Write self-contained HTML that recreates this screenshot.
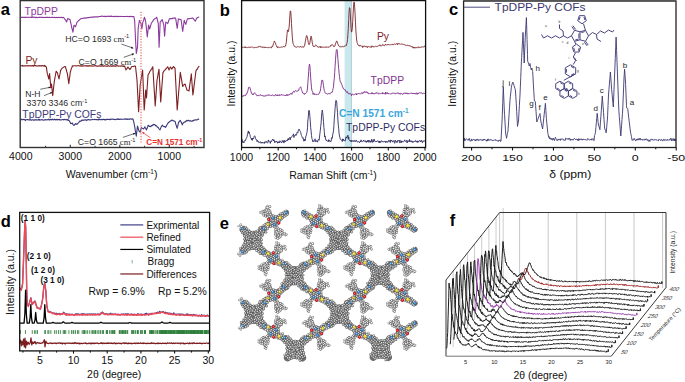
<!DOCTYPE html>
<html><head><meta charset="utf-8"><style>
html,body{margin:0;padding:0;background:#fff;}
svg{display:block;}
</style></head><body>
<svg width="685" height="382" viewBox="0 0 685 382">
<rect width="685" height="382" fill="#fff"/>
<path d="M20.8,17.3 L21.3,17.43 L21.8,17.35 L22.3,17.11 L22.8,17.45 L23.3,17.38 L23.8,17.24 L24.3,17.41 L24.8,17.38 L25.3,17.37 L25.8,17.33 L26.3,17.41 L26.8,17.22 L27.3,17.31 L27.8,17.26 L28.3,17.43 L28.8,17.35 L29.3,17.3 L29.8,17.23 L30.3,17.31 L30.8,17.35 L31.3,17.31 L31.8,17.55 L32.3,17.51 L32.8,16.96 L33.3,17.08 L33.8,17.34 L34.3,17.31 L34.8,17.4 L35.3,17.41 L35.8,17.7 L36.3,17.21 L36.8,17.33 L37.3,17.69 L37.8,17.49 L38.3,17.49 L38.8,17.32 L39.3,17.15 L39.8,17.42 L40,17.4 L40.3,17.22 L40.8,17.3 L41.3,17.39 L41.8,17.27 L42.3,17.39 L42.8,17.43 L43.3,17.42 L43.8,17.34 L44.3,17.51 L44.8,17.55 L45.3,17.47 L45.8,17.3 L46.3,17.54 L46.8,17.35 L47.3,17.56 L47.8,17.27 L48.3,17.57 L48.8,17.43 L49.3,17.25 L49.8,17.39 L50.3,17.45 L50.8,17.49 L51.3,17.3 L51.8,17.28 L52.3,17.48 L52.8,17.38 L53.3,17.49 L53.8,17.57 L54.3,17.21 L54.8,17.5 L55.3,17.65 L55.8,17.42 L56.3,17.35 L56.8,17.58 L57.3,17.51 L57.8,17.61 L58.3,17.43 L58.8,17.26 L59.3,17.46 L59.8,17.42 L60.3,17.6 L60.8,17.52 L61.3,17.25 L61.8,17.31 L62.3,17.63 L62.8,17.6 L63.3,17.4 L63.7,17.5 L63.8,17.7 L64.3,18.4 L64.8,19.14 L65.3,19.7 L65.8,20.57 L66.3,21.43 L66.6,22 L66.8,21.04 L67.3,19.82 L67.7,18.6 L67.8,18.43 L68.3,18.88 L68.8,18.93 L69.3,19.36 L69.8,19.4 L70,19.5 L70.3,21.03 L70.8,23.16 L71.3,25.22 L71.6,26.7 L71.8,27.81 L72.3,29.64 L72.8,31.67 L72.9,32.2 L73.3,29.63 L73.8,26.6 L74,25.2 L74.3,25.5 L74.8,25.89 L75.3,26.57 L75.5,26.7 L75.8,25.92 L76.3,24.58 L76.8,22.65 L77.1,22 L77.3,21.92 L77.8,21.77 L78.3,20.8 L78.8,20.33 L79.3,20.17 L79.8,19.52 L80.3,19.13 L80.8,18.72 L81,18.6 L81.3,18.5 L81.8,18.54 L82.3,18.4 L82.8,18.23 L83.3,18.25 L83.8,18.08 L84.3,18.16 L84.8,17.92 L85.3,17.86 L85.8,18.18 L86.3,17.89 L86.8,17.82 L87.3,17.84 L87.8,17.63 L88.3,17.59 L88.8,17.62 L89.3,17.54 L89.8,17.25 L90,17.4 L90.3,17.28 L90.8,17.17 L91.3,17.15 L91.8,17.18 L92.3,17.43 L92.8,16.97 L93.3,17.12 L93.8,16.73 L94.3,17.01 L94.8,17.09 L95.3,16.88 L95.8,16.77 L96.3,16.86 L96.8,16.88 L97.3,16.83 L97.8,16.98 L98.3,16.67 L98.8,16.5 L99.3,16.53 L99.8,16.49 L100.3,16.47 L100.8,16.41 L101.3,16.39 L101.8,16.07 L102,16.3 L102.3,16.22 L102.8,16.13 L103.3,16.41 L103.8,16.52 L104.3,16.4 L104.8,16.36 L105.3,16.2 L105.8,16.77 L106.3,16.48 L106.8,16.18 L107.3,16.24 L107.8,16.38 L108.3,16.14 L108.8,16.4 L109.3,16.31 L109.8,16.57 L110.3,16.54 L110.8,15.99 L111.3,16.41 L111.8,16.17 L112.3,16.58 L112.8,16.45 L113.3,16.51 L113.8,16.27 L114.3,16.71 L114.8,16.75 L115.3,16.29 L115.8,16.51 L116.3,16.36 L116.8,16.46 L117.3,16.28 L117.8,16.76 L118.3,16.34 L118.8,16.44 L119.3,16.57 L119.8,16.4 L120,16.5 L120.3,16.42 L120.8,16.49 L121.3,16.33 L121.8,16.45 L122.3,16.49 L122.8,16.47 L123.3,16.53 L123.8,16.48 L124.3,16.64 L124.8,16.49 L125.3,16.52 L125.8,16.44 L126.3,16.47 L126.8,16.36 L127.3,16.63 L127.8,16.38 L128.3,16.45 L128.8,16.62 L129.3,16.63 L129.8,16.51 L130.3,16.27 L130.8,16.64 L131.3,16.62 L131.8,16.37 L132.3,16.7 L132.8,16.49 L133.3,16.43 L133.8,16.61 L133.9,16.6 L134.3,18.93 L134.7,21.2 L134.8,23.7 L135.3,34.46 L135.5,39 L135.8,44.53 L136.3,53.5 L136.8,50.84 L137.3,48.03 L137.5,47 L137.8,38.89 L138.2,28 L138.3,27.47 L138.8,24.13 L139.3,20.9 L139.4,20.4 L139.8,21.27 L140.3,22.17 L140.8,23.07 L141,23.6 L141.3,25.36 L141.8,29 L142.3,25.82 L142.8,22.43 L142.9,22 L143.3,20.82 L143.8,19.49 L144.3,17.75 L144.5,17.3 L144.8,18.52 L145.3,20.06 L145.7,22 L145.8,22.83 L146.3,27.52 L146.8,32.44 L147.3,37 L147.8,32.12 L148.3,27.86 L148.6,25 L148.8,25.66 L149.3,27.5 L149.7,29 L149.8,28.5 L150.3,26.91 L150.8,25.07 L151.2,23.6 L151.3,23.23 L151.8,22.59 L152.3,21.68 L152.8,21.15 L153.3,20.21 L153.6,19.7 L153.8,19.57 L154.3,19.2 L154.8,18.65 L155.3,18.48 L155.8,18.26 L156.3,17.56 L156.7,17.3 L156.8,17.67 L157.3,19.59 L157.8,21.53 L158.3,23.6 L158.8,38.31 L159.1,47.2 L159.3,42.62 L159.8,31.21 L160.2,22 L160.3,21.84 L160.8,21.53 L161.3,20.64 L161.8,20.04 L162.2,19.7 L162.3,20.01 L162.8,21.48 L163.3,23.34 L163.8,25 L164.3,32.21 L164.6,36.2 L164.8,33.74 L165.3,27.78 L165.8,22 L166.3,22.39 L166.8,22.69 L167.3,23.13 L167.7,23.6 L167.8,23.23 L168.3,21.98 L168.8,20.54 L169.3,18.9 L169.8,18.9 L170.3,18.56 L170.8,18.78 L171.3,18.61 L171.8,18.62 L172.3,18.71 L172.8,18.06 L173.3,18.37 L173.8,18.09 L174.3,18.27 L174.8,17.92 L175.3,17.97 L175.6,18 L175.8,19.38 L176.3,22.52 L176.8,25.61 L177.2,28.3 L177.3,27.65 L177.8,23.6 L178.3,19.43 L178.4,18.9 L178.8,19.08 L179.3,19.3 L179.8,19.26 L180.3,19.59 L180.8,19.45 L181.1,19.7 L181.3,21.09 L181.8,24.92 L182.3,28.63 L182.7,31.4 L182.8,30.66 L183.3,27.01 L183.8,23.51 L184.2,20.4 L184.3,20.47 L184.8,21.97 L185.3,23.26 L185.8,24.4 L186.3,22.43 L186.8,20.88 L187.3,19.44 L187.4,18.9 L187.8,18.65 L188.3,18.83 L188.8,18.82 L189.3,18.49 L189.8,18.59 L190.3,18.44 L190.8,18.57 L191.3,18.26 L191.8,18.33 L192.3,17.96 L192.8,17.99 L192.9,18 L193.3,18.7 L193.8,19.29 L194.3,19.75 L194.8,20.64 L195.3,21.2 L195.8,20.12 L196.3,19.03 L196.8,18 L197.3,17.54 L197.8,17.61 L198.3,17.41 L198.8,17.04 L199.2,17" fill="none" stroke="#8c3a9e" stroke-width="1.1" stroke-linejoin="round" />
<path d="M20.8,65.8 L21.3,65.7 L21.8,65.72 L22.3,65.31 L22.8,66.16 L23.3,66.03 L23.8,65.73 L24.3,65.95 L24.8,65.86 L25.3,65.69 L25.8,66 L26.3,65.74 L26.8,65.73 L27.3,65.64 L27.8,65.89 L28.3,65.78 L28.8,65.91 L29.3,65.68 L29.8,65.83 L30.3,65.62 L30.8,65.97 L31.3,65.84 L31.8,65.87 L32.3,65.88 L32.8,65.6 L33.3,65.96 L33.8,66.21 L34.3,65.47 L34.8,65.45 L35.3,65.5 L35.8,65.97 L36.3,65.83 L36.8,66.02 L37.3,65.94 L37.8,65.84 L38.3,65.86 L38.8,65.77 L39.3,65.97 L39.8,65.57 L40.3,65.72 L40.8,65.85 L41.3,66.16 L41.8,65.65 L42.3,65.58 L42.8,65.69 L43.3,65.99 L43.8,65.75 L44.3,66.06 L44.8,65.43 L44.9,65.8 L45.3,66.41 L45.8,66.42 L46.3,67.23 L46.4,67.3 L46.8,70.07 L47.2,72.8 L47.3,73.66 L47.8,75.18 L48.3,77.01 L48.8,79 L49.3,75.75 L49.6,73.6 L49.8,75.91 L50.3,81.8 L50.8,87.7 L51.3,84.84 L51.5,84 L51.8,86.41 L52.3,91.97 L52.7,95.6 L52.8,95.01 L53.3,90.27 L53.8,85.69 L54.3,81.4 L54.8,78.7 L55.3,75.78 L55.8,73.17 L56.2,71.2 L56.3,71.41 L56.8,72.11 L57.3,72.67 L57.5,73 L57.8,74.38 L58.3,76.18 L58.8,78.05 L59,79 L59.3,77.21 L59.8,74.74 L60.3,72.24 L60.6,70.4 L60.8,70.39 L61.3,69.22 L61.8,68.63 L62.2,68 L62.3,67.91 L62.8,67.72 L63.3,67.38 L63.8,67.09 L64.3,66.85 L64.8,66.58 L65.3,66.5 L65.8,68.14 L66.3,69.96 L66.8,71.75 L67.3,73.39 L67.4,73.6 L67.8,76.58 L68.3,80.07 L68.8,83.8 L69.3,79.66 L69.8,76.13 L70.3,72 L70.8,70.59 L71.3,68.65 L71.8,67.75 L72.3,66.06 L72.4,65.8 L72.8,66.14 L73.3,65.96 L73.8,65.82 L74.3,65.66 L74.8,65.81 L75.3,65.79 L75.8,65.97 L76.3,65.99 L76.8,65.7 L77.3,65.73 L77.8,65.73 L78.3,65.57 L78.8,65.73 L79.3,65.83 L79.8,65.99 L80.3,66.12 L80.8,65.7 L81.3,65.97 L81.8,65.78 L82.3,66.29 L82.8,65.87 L83.3,65.98 L83.8,65.7 L84.3,65.72 L84.8,65.93 L85.3,65.82 L85.8,65.97 L86.3,65.59 L86.8,66.04 L87.3,65.73 L87.8,66.26 L88.3,65.86 L88.8,66.14 L89.3,65.64 L89.8,66.01 L90.3,65.75 L90.8,65.84 L91.3,65.94 L91.8,65.88 L92.3,66 L92.8,66.1 L93.3,66.08 L93.8,65.94 L94.3,65.69 L94.8,65.8 L95.3,65.93 L95.8,65.55 L96.3,66.12 L96.8,65.93 L97.3,65.93 L97.8,66.17 L98.3,66.12 L98.8,66.04 L99.3,65.79 L99.8,66.06 L100,66 L100.3,65.82 L100.8,66.21 L101.3,66.1 L101.8,65.61 L102.3,66.02 L102.8,65.75 L103.3,66.23 L103.8,66.16 L104.3,65.78 L104.8,65.82 L105.3,66.02 L105.8,65.95 L106.3,66.31 L106.8,66.15 L107.3,65.94 L107.8,66.12 L108.3,65.59 L108.8,66.06 L109.3,66.17 L109.8,65.96 L110.3,65.86 L110.8,66.11 L111.3,66.39 L111.8,66.04 L112.3,65.78 L112.8,66.29 L113.3,65.62 L113.8,66.1 L114.3,65.88 L114.8,66.19 L115.3,65.83 L115.8,66.26 L116.3,66.06 L116.8,65.65 L117.3,65.61 L117.8,65.94 L118.3,66.26 L118.8,66.03 L119.3,66.01 L119.8,65.95 L120.3,66.15 L120.8,66.08 L121.3,66.06 L121.8,65.8 L122.3,66.24 L122.8,66.27 L123.3,65.74 L123.8,66.46 L124.3,66.14 L124.5,66 L124.8,66.4 L125.3,68.21 L125.8,69.49 L126,69.9 L126.3,69.11 L126.8,68.96 L127.3,67.9 L127.8,67.2 L128,67 L128.3,67.8 L128.8,68.19 L129.3,68.53 L129.8,69.38 L130,69.5 L130.3,69.07 L130.8,68.15 L131.3,67.29 L131.8,66.48 L132,66.5 L132.3,66.5 L132.8,66.49 L133.3,66.59 L133.8,66.23 L134.3,66.12 L134.8,65.98 L135.3,66.24 L135.5,66.3 L135.8,69.01 L136.3,73.73 L136.8,77.94 L137,80 L137.3,85.77 L137.8,95.55 L138.3,106.05 L138.6,111.6 L138.8,108.12 L139.3,99.81 L139.8,91.64 L140.2,85 L140.3,84.46 L140.8,80.99 L141.3,78.05 L141.8,74.8 L142.3,71.78 L142.6,70 L142.8,74.69 L143.3,87.31 L143.8,99.86 L144.2,110 L144.3,108.68 L144.8,102.31 L145.3,95.5 L145.7,90 L145.8,91.15 L146.3,95.86 L146.5,98 L146.8,93.59 L147.3,85.68 L147.8,78.56 L148,75.4 L148.3,74.28 L148.8,73.68 L149.3,72.76 L149.8,71.49 L150.3,70.68 L150.4,70.7 L150.8,70.15 L151.3,69.3 L151.8,68.95 L152.3,67.53 L152.8,66.8 L153.3,74.98 L153.8,83.19 L154.3,91.07 L154.8,99.08 L155.2,106 L155.3,104.71 L155.8,97.65 L156.3,90.23 L156.8,82.99 L157,80 L157.3,78.69 L157.8,75.95 L158.3,72.87 L158.8,70.27 L159,69.2 L159.3,75.28 L159.8,84.72 L160.3,94.26 L160.7,102 L160.8,100.8 L161.3,94.17 L161.8,87.55 L162.3,81.08 L162.8,74.53 L163,72.3 L163.3,72.4 L163.8,71.04 L164.3,70.83 L164.8,70.31 L165,70 L165.3,69.69 L165.8,68.83 L166.3,68.7 L166.8,67.75 L167.3,67.29 L167.7,66.8 L167.8,66.96 L168.3,67.92 L168.8,69.4 L169,70 L169.3,69.38 L169.8,68.45 L170.3,67.18 L170.5,67 L170.8,67.55 L171.3,68.07 L171.8,69.11 L172,69 L172.3,68.29 L172.8,67.34 L173.3,67.06 L173.5,66.5 L173.8,67 L174.3,67.39 L174.8,68.13 L175,68 L175.3,73.65 L175.8,83.33 L176.3,93.04 L176.8,102.12 L177.2,110 L177.3,109.03 L177.8,102.9 L178.3,96.58 L178.8,90.6 L179.3,84.24 L179.8,78.39 L180.3,72.3 L180.8,75.25 L181.3,78.08 L181.8,81.17 L182.3,84.29 L182.7,86.4 L182.8,86.48 L183.3,85.38 L183.8,84.82 L184.3,84.71 L184.8,84.21 L185,84 L185.3,84.57 L185.8,86.39 L186.3,87.93 L186.8,89.65 L187,90 L187.3,90.26 L187.8,90.2 L188.3,90.61 L188.8,90.81 L189,91 L189.3,88.57 L189.8,84.89 L190.3,81.45 L190.8,77.98 L191.3,73.9 L191.8,80.55 L192.3,87.02 L192.8,93.9 L192.9,95 L193.3,92.21 L193.8,88.01 L194.3,83.84 L194.8,79.99 L195.3,75.99 L195.8,72.02 L196,70.7 L196.3,70.42 L196.8,69.28 L197.3,69.15 L197.8,68.11 L198.3,67.13 L198.8,66.66 L199.2,66" fill="none" stroke="#7d1f22" stroke-width="1.1" stroke-linejoin="round" />
<path d="M20.8,119.7 L21.3,119.07 L21.8,119.81 L22.3,119.57 L22.8,119.61 L23.3,119.67 L23.8,119.23 L24.3,119.68 L24.8,119.53 L25.3,120.58 L25.8,119.81 L26.3,119.67 L26.8,119.69 L27.3,119.6 L27.8,119.51 L28.3,119.68 L28.8,119.9 L29.3,119.73 L29.8,120.03 L30.3,119.75 L30.8,119.81 L31.3,120.2 L31.8,119.95 L32.3,119.69 L32.8,119.78 L33.3,119.97 L33.8,120.32 L34.3,119.77 L34.8,119.78 L35.3,120.1 L35.8,119.63 L36.3,119.79 L36.8,120.09 L37.3,120.02 L37.8,119.9 L38.3,120.05 L38.8,119.18 L39.3,120.15 L39.8,119.66 L40,119.9 L40.3,119.96 L40.8,120.06 L41.3,119.76 L41.8,119.59 L42.3,119.86 L42.8,119.83 L43.3,120.19 L43.8,120.01 L44.3,119.86 L44.8,120.08 L45.3,119.74 L45.8,119.55 L46.3,119.92 L46.8,119.91 L47.3,119.7 L47.8,119.55 L48.3,119.79 L48.8,119.1 L49.3,119.89 L49.8,119.83 L50.3,119.28 L50.8,119.7 L51.3,119.43 L51.8,119.85 L52.3,119.15 L52.8,119.42 L53.3,119.81 L53.8,119.91 L54.3,119.07 L54.8,119.48 L55,119.6 L55.3,119.45 L55.8,120 L56.3,119.31 L56.8,119.7 L57.3,119.36 L57.8,119.98 L58.3,119.62 L58.8,119.54 L59.3,119.21 L59.8,120.06 L60.3,119.83 L60.8,119.84 L61.3,119.94 L61.8,119.74 L62.3,119.5 L62.8,119.47 L63.3,119.47 L63.8,120.02 L64.3,119.31 L64.8,119.53 L65.3,119.61 L65.8,119.75 L66.3,119.84 L66.8,119.39 L66.9,119.7 L67.3,119.84 L67.8,120.32 L68.3,120.38 L68.8,120.41 L69.2,120.5 L69.3,120.77 L69.8,121.6 L70.3,122.84 L70.8,123.6 L71.3,123.45 L71.8,123.2 L72.3,123.17 L72.4,123 L72.8,124.26 L73.3,124.78 L73.8,125.56 L74,125.5 L74.3,125.03 L74.8,124.33 L75.3,123.99 L75.5,123.6 L75.8,124.04 L76.3,124.27 L76.8,123.92 L77.1,124.4 L77.3,123.93 L77.8,123.48 L78.3,122.96 L78.8,122.65 L79.3,121.42 L79.5,121.2 L79.8,121.13 L80.3,121.36 L80.8,120.92 L81.3,120.9 L81.8,120.11 L82.3,120.16 L82.6,120.1 L82.8,120.47 L83.3,120.24 L83.8,119.98 L84.3,119.92 L84.8,120.13 L85.3,119.82 L85.8,119.74 L86.3,120.07 L86.8,120.55 L87.3,119.85 L87.8,119.75 L88.3,119.58 L88.8,119.52 L89.3,119.96 L89.8,120.02 L90.3,119.79 L90.8,119.85 L91.3,119.78 L91.8,119.76 L92.3,119.33 L92.8,119.58 L93.3,119.7 L93.8,119.45 L94.3,119.51 L94.8,119.4 L95.3,119.51 L95.8,119.78 L96.3,119.45 L96.8,119.49 L97.3,119.71 L97.8,119.65 L98.3,119.89 L98.8,118.93 L99.3,119.64 L99.8,119.29 L100,119.4 L100.3,119.61 L100.8,119.67 L101.3,119.65 L101.8,119.43 L102.3,119.79 L102.8,119.31 L103.3,119.34 L103.8,119.58 L104.3,119.24 L104.8,119.91 L105.3,119.62 L105.8,119.91 L106.3,119.36 L106.8,119.26 L107.3,119.4 L107.8,119.54 L108.3,119.2 L108.8,119.44 L109.3,119.34 L109.8,119.74 L110.3,119.17 L110.8,119.6 L111.3,119.17 L111.8,119.09 L112.3,119.15 L112.8,119.03 L113.3,119.36 L113.8,119.57 L114.3,119.35 L114.8,119.47 L115.3,119.72 L115.8,119.37 L116.3,119.35 L116.8,119.23 L117.3,118.89 L117.8,119.48 L118.3,118.85 L118.8,119.45 L119.3,119.28 L119.8,119.56 L120.3,119.26 L120.8,119.07 L121.3,119.36 L121.8,119.13 L122.3,119.22 L122.8,119.27 L123.3,119.23 L123.8,119.21 L124.3,119.05 L124.8,119.2 L125.3,118.71 L125.8,119.2 L126.3,118.94 L126.8,119.52 L127.3,119.55 L127.8,118.74 L128.3,119.27 L128.8,119.19 L129.3,118.96 L129.8,119.35 L130.3,119.1 L130.8,118.77 L131.3,119.14 L131.8,119.17 L132.3,119.23 L132.8,118.89 L133.1,119.2 L133.3,120.32 L133.8,122.19 L134.3,124.66 L134.7,126.7 L134.8,127.15 L135.3,130.7 L135.8,133.28 L136.3,136.2 L136.8,131.75 L137.3,127.69 L137.5,126 L137.8,127.02 L138.3,128.87 L138.6,129.9 L138.8,130.18 L139.3,131.48 L139.8,131.49 L140.2,132.2 L140.3,131.81 L140.8,129.79 L141.3,127.5 L141.8,128.3 L142.3,128.18 L142.8,128.58 L143.3,128.69 L143.4,129 L143.8,128.53 L144.3,127.87 L144.8,127.04 L144.9,126.7 L145.3,127.68 L145.8,128.51 L146.3,129.71 L146.5,129.9 L146.8,128.99 L147.3,127.73 L147.8,126.4 L148.1,125.2 L148.3,125.24 L148.8,125.84 L149.3,126.46 L149.8,126.26 L150.3,126.61 L150.4,126.7 L150.8,126.72 L151.3,125.59 L151.8,125.79 L152.3,125.63 L152.8,124.77 L153.3,124.99 L153.6,124.4 L153.8,124.37 L154.3,124.81 L154.8,124.64 L155.3,125.14 L155.8,125.99 L156.3,125.57 L156.7,126 L156.8,126.1 L157.3,126.98 L157.8,127.35 L158.3,127.39 L158.8,128.42 L159.3,129.22 L159.8,129.49 L159.9,129.9 L160.3,129.17 L160.8,127.9 L161.3,126.62 L161.8,125.85 L162.2,125.2 L162.3,125.15 L162.8,125.86 L163.3,126.37 L163.8,126.36 L164.3,126.43 L164.8,126.74 L165.3,127.42 L165.4,127.5 L165.8,126.89 L166.3,126.11 L166.8,125.02 L167.3,124.35 L167.7,123.6 L167.8,123.43 L168.3,122.75 L168.8,122.24 L169.3,122.08 L169.8,121.49 L170.3,121.09 L170.8,121.06 L171.3,120.42 L171.7,120.1 L171.8,120.37 L172.3,120.15 L172.8,120.68 L173.3,120.76 L173.8,120.67 L174.3,121.3 L174.8,121.2 L175.3,121.91 L175.8,124.36 L176.3,125.48 L176.8,127.49 L177.2,128.3 L177.3,127.58 L177.8,126.17 L178.3,123.41 L178.7,122 L178.8,122.26 L179.3,121.43 L179.8,120.88 L180.3,120.4 L180.8,121.66 L181.3,122.3 L181.8,123.71 L182.2,124.4 L182.3,124.86 L182.8,123.6 L183.3,122.85 L183.8,122.66 L184.2,122 L184.3,122.03 L184.8,121.79 L185.3,121.85 L185.8,121.2 L186.3,121.14 L186.8,120.32 L187.3,120.54 L187.8,120.94 L188.2,120.4 L188.3,120.25 L188.8,120.25 L189.3,120.83 L189.8,120.86 L190.3,120.65 L190.8,121.24 L191.3,121.2 L191.8,121.2 L192.3,120.66 L192.8,121.07 L193.3,120.55 L193.8,120.23 L194.3,119.95 L194.5,120 L194.8,120.16 L195.3,119.8 L195.8,120.05 L196.3,119.84 L196.8,119.95 L197.3,119.73 L197.8,119.42 L198.3,118.88 L198.8,119.34 L199.2,119.2" fill="none" stroke="#3d3a7a" stroke-width="1.1" stroke-linejoin="round" />
<line x1="141" y1="11.8" x2="141" y2="143" stroke="#f07070" stroke-width="1.3" stroke-dasharray="1.2 1.5"/>
<rect x="20.2" y="0.6" width="183.8" height="146.9" fill="none" stroke="#333" stroke-width="1.4"/>
<line x1="70.3" y1="147.5" x2="70.3" y2="144.8" stroke="#333" stroke-width="1.1" />
<line x1="119.8" y1="147.5" x2="119.8" y2="144.8" stroke="#333" stroke-width="1.1" />
<line x1="169.3" y1="147.5" x2="169.3" y2="144.8" stroke="#333" stroke-width="1.1" />
<line x1="45.55" y1="147.5" x2="45.55" y2="145.8" stroke="#333" stroke-width="1.0" />
<line x1="95.05" y1="147.5" x2="95.05" y2="145.8" stroke="#333" stroke-width="1.0" />
<line x1="144.55" y1="147.5" x2="144.55" y2="145.8" stroke="#333" stroke-width="1.0" />
<line x1="194.05" y1="147.5" x2="194.05" y2="145.8" stroke="#333" stroke-width="1.0" />
<text x="20.8" y="159.9" font-size="10.5" fill="#111" text-anchor="middle" font-weight="normal" font-family='"Liberation Sans", sans-serif' >4000</text>
<text x="70.3" y="159.9" font-size="10.5" fill="#111" text-anchor="middle" font-weight="normal" font-family='"Liberation Sans", sans-serif' >3000</text>
<text x="119.8" y="159.9" font-size="10.5" fill="#111" text-anchor="middle" font-weight="normal" font-family='"Liberation Sans", sans-serif' >2000</text>
<text x="169.3" y="159.9" font-size="10.5" fill="#111" text-anchor="middle" font-weight="normal" font-family='"Liberation Sans", sans-serif' >1000</text>
<text x="111.5" y="177.5" font-size="10.5" fill="#111" text-anchor="middle" font-weight="normal" font-family='"Liberation Sans", sans-serif' >Wavenumber (cm<tspan font-size="6.5" dy="-4">-1</tspan><tspan dy="4">)</tspan></text>
<text x="24.4" y="14.6" font-size="10.4" fill="#8c3a9e" text-anchor="start" font-weight="normal" font-family='"Liberation Sans", sans-serif' >TpDPP</text>
<text x="25.4" y="63.6" font-size="10.4" fill="#7d1f22" text-anchor="start" font-weight="normal" font-family='"Liberation Sans", sans-serif' >Py</text>
<text x="22.3" y="117.5" font-size="10.4" fill="#3d3a7a" text-anchor="start" font-weight="normal" font-family='"Liberation Sans", sans-serif' >TpDPP-Py COFs</text>
<text x="65.3" y="41.6" font-size="8.7" fill="#2a2a2a" text-anchor="start" font-weight="normal" font-family='"Liberation Sans", sans-serif' >HC=O 1693<tspan font-family='"Liberation Serif", serif'> cm</tspan><tspan font-size="5.6" dy="-3.4">-1</tspan></text>
<text x="78.6" y="65.1" font-size="8.7" fill="#2a2a2a" text-anchor="start" font-weight="normal" font-family='"Liberation Sans", sans-serif' >C=O 1669<tspan font-family='"Liberation Serif", serif'> cm</tspan><tspan font-size="5.6" dy="-3.4">-1</tspan></text>
<text x="25.2" y="97.2" font-size="8.6" fill="#2a2a2a" text-anchor="start" font-weight="normal" font-family='"Liberation Sans", sans-serif' >N-H</text>
<text x="26.6" y="106.4" font-size="8.8" fill="#2a2a2a" text-anchor="start" font-weight="normal" font-family='"Liberation Sans", sans-serif' >3370 3346 cm<tspan font-size="5.6" dy="-3.4">-1</tspan></text>
<text x="77.8" y="145" font-size="8.7" fill="#2a2a2a" text-anchor="start" font-weight="normal" font-family='"Liberation Sans", sans-serif' >C=O 1665<tspan font-family='"Liberation Serif", serif'> cm</tspan><tspan font-size="5.6" dy="-3.4">-1</tspan></text>
<text x="146.3" y="145" font-size="8.2" fill="#e8302c" text-anchor="start" font-weight="bold" font-family='"Liberation Sans", sans-serif' >C=N 1571 cm<tspan font-size="5.5" dy="-3.3">-1</tspan></text>
<line x1="121.3" y1="44" x2="133.3" y2="48.2" stroke="#111" stroke-width="0.6" /><path d="M133.3,48.2 L130.92,48.47 L131.61,46.5 Z" fill="#111"/>
<line x1="123.7" y1="57.3" x2="134" y2="53.8" stroke="#111" stroke-width="0.6" /><path d="M134,53.8 L132.29,55.48 L131.62,53.51 Z" fill="#111"/>
<line x1="40.2" y1="89.3" x2="50.6" y2="87.2" stroke="#111" stroke-width="0.6" /><path d="M50.6,87.2 L48.85,88.53 L48.47,86.65 Z" fill="#111"/>
<line x1="44.1" y1="95.6" x2="52.2" y2="92.4" stroke="#111" stroke-width="0.6" /><path d="M52.2,92.4 L50.71,94.02 L50.01,92.24 Z" fill="#111"/>
<line x1="122.9" y1="137.4" x2="135.4" y2="133.2" stroke="#111" stroke-width="0.6" /><path d="M135.4,133.2 L133.68,134.88 L133.02,132.9 Z" fill="#111"/>
<line x1="150.4" y1="137.7" x2="142.2" y2="132.1" stroke="#e8302c" stroke-width="0.7" /><path d="M142.2,132.1 L144.57,132.46 L143.4,134.18 Z" fill="#e8302c"/>
<text x="0.8" y="15.4" font-size="16.5" fill="#000" text-anchor="start" font-weight="bold" font-family='"Liberation Sans", sans-serif' >a</text>
<rect x="344.6" y="0.6" width="7" height="146.8" fill="#c8e8ee"/>
<line x1="351.4" y1="0.6" x2="351.4" y2="147.4" stroke="#a3c4cc" stroke-width="0.8" />
<path d="M241.5,47.2 L241.9,47.67 L242.3,47.64 L242.7,47.04 L243.1,47.13 L243.5,47.06 L243.9,47.45 L244.3,47.25 L244.7,47.54 L245.1,46.64 L245.5,47.85 L245.9,47.28 L246.3,47.56 L246.7,47.29 L247.1,47.21 L247.5,47.52 L247.9,47.66 L248.3,47.31 L248.7,47.34 L249.1,47.64 L249.5,47.11 L249.9,46.9 L250.3,47.58 L250.7,47.21 L251.1,46.79 L251.5,47.19 L251.9,47.32 L252.3,47.08 L252.7,46.98 L253.1,47.53 L253.5,47.84 L253.9,47.46 L254.3,47.29 L254.7,47.7 L255.1,47.8 L255.5,47.37 L255.9,47.58 L256.3,47.67 L256.7,47.16 L257.1,46.86 L257.5,47.19 L257.9,47.07 L258.3,47.29 L258.7,46.37 L259.1,46.51 L259.5,46.37 L259.9,45.97 L260.3,46.66 L260.7,46.88 L261.1,46.52 L261.5,47.34 L261.9,47.22 L262.3,47.23 L262.7,47.23 L263.1,47.5 L263.5,46.78 L263.9,47.54 L264.3,47.61 L264.7,46.86 L265.1,47.65 L265.5,47.44 L265.9,47.8 L266.3,47.36 L266.7,47.5 L267.1,47.62 L267.5,47.19 L267.9,47.69 L268.3,47.44 L268.7,47.63 L269.1,47.27 L269.5,47.81 L269.9,47.63 L270.3,47.33 L270.7,47.58 L271.1,47.75 L271.5,47.85 L271.9,46.49 L272.3,46.98 L272.7,46.19 L273.1,44.97 L273.5,43.33 L273.9,42.75 L274.3,40.94 L274.7,41.58 L275.1,42.74 L275.5,43.08 L275.9,44.85 L276.3,45.5 L276.7,46.68 L277.1,47.47 L277.5,47.82 L277.9,46.56 L278.3,47.02 L278.7,47.48 L279.1,47.79 L279.5,47.38 L279.9,46.97 L280.3,47.32 L280.7,47.19 L281.1,47.11 L281.5,46.9 L281.9,47.26 L282.3,47.2 L282.7,47.02 L283.1,46.92 L283.5,46.48 L283.9,46.68 L284.3,47.16 L284.7,46.51 L285.1,45.77 L285.5,46.11 L285.9,44.46 L286.3,42.48 L286.7,37.94 L287.1,33.41 L287.5,29.91 L287.9,30.34 L288.3,31.67 L288.7,30.2 L289.1,27.2 L289.5,21.99 L289.9,15.1 L290.3,10.95 L290.7,11.07 L291.1,16.05 L291.5,23.65 L291.9,30.73 L292.3,37.18 L292.7,40.98 L293.1,43.84 L293.5,44.4 L293.9,45.37 L294.3,46.54 L294.7,46.27 L295.1,46.82 L295.5,46.91 L295.9,47.26 L296.3,47.14 L296.7,47.26 L297.1,46.91 L297.5,46.74 L297.9,46.75 L298.3,46.85 L298.7,46.64 L299.1,46.86 L299.5,47.02 L299.9,47.15 L300.3,46.94 L300.7,46.38 L301.1,47.01 L301.5,47.1 L301.9,47.37 L302.3,47.16 L302.7,46.68 L303.1,46.56 L303.5,47.35 L303.9,46.58 L304.3,46.33 L304.7,45.34 L305.1,42.62 L305.5,40.81 L305.9,38.37 L306.3,36.36 L306.7,35.51 L307.1,36.18 L307.5,38.17 L307.9,39.98 L308.3,42.58 L308.7,43.84 L309.1,44.73 L309.5,44.04 L309.9,42.74 L310.3,40.17 L310.7,37.3 L311.1,36.11 L311.5,37.31 L311.9,39.92 L312.3,42.84 L312.7,44.73 L313.1,46.14 L313.5,46.48 L313.9,46.8 L314.3,46.02 L314.7,46.49 L315.1,45.47 L315.5,45.09 L315.9,45.2 L316.3,45.38 L316.7,46.17 L317.1,46.31 L317.5,46.44 L317.9,46.67 L318.3,47.5 L318.7,47.09 L319.1,46.68 L319.5,47.1 L319.9,46.56 L320.3,47.74 L320.7,46.58 L321.1,47.29 L321.5,47.31 L321.9,46.61 L322.3,47.23 L322.7,47.47 L323.1,47.28 L323.5,47.21 L323.9,47.45 L324.3,47.17 L324.7,47.22 L325.1,47.06 L325.5,47.32 L325.9,46.76 L326.3,47.36 L326.7,46.9 L327.1,46.69 L327.5,47.19 L327.9,47.64 L328.3,47.37 L328.7,46.83 L329.1,47.21 L329.5,46.73 L329.9,46.71 L330.3,46.53 L330.7,45.32 L331.1,45.74 L331.5,44.87 L331.9,44.73 L332.3,44.52 L332.7,44.82 L333.1,45.43 L333.5,46.41 L333.9,46.91 L334.3,46.32 L334.7,46.43 L335.1,45.29 L335.5,43.62 L335.9,42.95 L336.3,41.76 L336.7,40.89 L337.1,41.68 L337.5,43.05 L337.9,43.92 L338.3,44.79 L338.7,45.9 L339.1,46.25 L339.5,46.35 L339.9,46.87 L340.3,47.14 L340.7,46.38 L341.1,46.76 L341.5,46.82 L341.9,46.71 L342.3,46.79 L342.7,46.24 L343.1,46.58 L343.5,46.97 L343.9,46.47 L344.3,45.88 L344.7,46.21 L345.1,46.3 L345.5,45.82 L345.9,45.24 L346.3,45.55 L346.7,43.76 L347.1,42.79 L347.5,39.68 L347.9,34.4 L348.3,28.29 L348.7,19.65 L349.1,11.34 L349.5,7.62 L349.9,8.47 L350.3,13.82 L350.7,21.74 L351.1,28.41 L351.5,31.98 L351.9,31.67 L352.3,28.04 L352.7,21.86 L353.1,13.86 L353.5,7.02 L353.9,2.11 L354.3,2.27 L354.7,7.16 L355.1,14.26 L355.5,22.73 L355.9,30.95 L356.3,36.28 L356.7,39.99 L357.1,42.64 L357.5,43.74 L357.9,44.77 L358.3,44.88 L358.7,45.48 L359.1,45.02 L359.5,46.18 L359.9,45.66 L360.3,45.38 L360.7,45.94 L361.1,45.96 L361.5,46.2 L361.9,45.8 L362.3,46.39 L362.7,47.56 L363.1,45.89 L363.5,46.49 L363.9,46.3 L364.3,46.5 L364.7,45.83 L365.1,46.09 L365.5,46.68 L365.9,46.53 L366.3,47.13 L366.7,46.33 L367.1,46.66 L367.5,47.64 L367.9,46.37 L368.3,46.34 L368.7,46.66 L369.1,46.67 L369.5,47 L369.9,46.76 L370.3,46.47 L370.7,46.82 L371.1,47.68 L371.5,47.22 L371.9,45.81 L372.3,46.7 L372.7,46.39 L373.1,46.86 L373.5,46.53 L373.9,47.21 L374.3,46.8 L374.7,46.73 L375.1,46.43 L375.5,46.29 L375.9,46.37 L376.3,46.65 L376.7,46.33 L377.1,45.96 L377.5,46.47 L377.9,46.04 L378.3,45.89 L378.7,45.58 L379.1,45.6 L379.5,45.52 L379.9,44.71 L380.3,45.99 L380.7,45.77 L381.1,45.44 L381.5,45.83 L381.9,45.56 L382.3,45.48 L382.7,44.42 L383.1,45.15 L383.5,45.36 L383.9,45.68 L384.3,45.7 L384.7,45.5 L385.1,44.55 L385.5,44.15 L385.9,45.09 L386.3,44.87 L386.7,45.17 L387.1,44.76 L387.5,44.85 L387.9,44.22 L388.3,44.87 L388.7,44.53 L389.1,44.78 L389.5,44.79 L389.9,44.56 L390.3,44.68 L390.7,44.54 L391.1,44.78 L391.5,44.66 L391.9,44.26 L392.3,44.22 L392.7,45.01 L393.1,44.33 L393.5,44.68 L393.9,44.44 L394.3,44.08 L394.7,43.99 L395.1,44.26 L395.5,44.28 L395.9,44.37 L396.3,43.69 L396.7,43.89 L397.1,44.04 L397.5,44.6 L397.9,43.18 L398.3,44.13 L398.7,43.76 L399.1,44.07 L399.5,43.72 L399.9,43.99 L400.3,44.38 L400.7,43.93 L401.1,43.96 L401.5,44.03 L401.9,43.74 L402.3,44.29 L402.7,44.12 L403.1,44.01 L403.5,44.38 L403.9,44.41 L404.3,44.85 L404.7,44.67 L405.1,44.59 L405.5,45.39 L405.9,45.32 L406.3,45.52 L406.7,45.38 L407.1,45.23 L407.5,45.22 L407.9,45.36 L408.3,45.92 L408.7,45.77 L409.1,45.36 L409.5,46.01 L409.9,45.67 L410.3,46.37 L410.7,46.03 L411.1,46.15 L411.5,46.78 L411.9,46.85 L412.3,46.44 L412.7,47.43 L413.1,48.07 L413.5,46.93 L413.9,48.23 L414.3,47.5 L414.7,47.71 L415.1,47.91 L415.5,47.4 L415.9,48.3 L416.3,47.96 L416.7,47.46 L417.1,47.57 L417.5,47.07 L417.9,47.42 L418.3,47.8 L418.7,46.81 L419.1,47.2 L419.5,47.34 L419.9,47.6 L420.3,47.64 L420.7,46.94 L421.1,46.78 L421.5,47.14 L421.9,46.79 L422.3,46.75 L422.7,47.17 L423.1,47.32 L423.5,46.76 L423.9,46.54 L424.3,46.75 L424.7,45.82 L425.1,46.42" fill="none" stroke="#7b2227" stroke-width="0.9" stroke-linejoin="round" />
<path d="M241.5,95.98 L241.9,96.43 L242.3,96.27 L242.7,96.23 L243.1,96.6 L243.5,95.3 L243.9,95.52 L244.3,95.16 L244.7,95.63 L245.1,96.03 L245.5,95.4 L245.9,95.35 L246.3,93.81 L246.7,94.03 L247.1,92.54 L247.5,92.43 L247.9,90.5 L248.3,88.98 L248.7,87.25 L249.1,86.91 L249.5,87.13 L249.9,87.64 L250.3,88.99 L250.7,90.7 L251.1,91.88 L251.5,93 L251.9,93.92 L252.3,94.16 L252.7,94.96 L253.1,93.76 L253.5,94.51 L253.9,93.42 L254.3,93.1 L254.7,92.67 L255.1,93.48 L255.5,93.9 L255.9,94.58 L256.3,94.65 L256.7,95.19 L257.1,96.11 L257.5,95.54 L257.9,95.13 L258.3,95.83 L258.7,95.35 L259.1,95.67 L259.5,95.68 L259.9,95.22 L260.3,94.53 L260.7,95.24 L261.1,95.65 L261.5,95.23 L261.9,95.6 L262.3,95.84 L262.7,95.16 L263.1,95.96 L263.5,96.13 L263.9,95.89 L264.3,95.92 L264.7,95.89 L265.1,96.41 L265.5,95.48 L265.9,95.39 L266.3,95.66 L266.7,94.98 L267.1,94.69 L267.5,94.99 L267.9,95.55 L268.3,95.59 L268.7,94.68 L269.1,94.52 L269.5,95.23 L269.9,95.28 L270.3,95.34 L270.7,95.66 L271.1,95.91 L271.5,95.46 L271.9,95.63 L272.3,94.85 L272.7,94.81 L273.1,95.44 L273.5,95.63 L273.9,95.66 L274.3,95.59 L274.7,95.68 L275.1,95.68 L275.5,94.53 L275.9,94.98 L276.3,95.51 L276.7,95.57 L277.1,94.61 L277.5,95.82 L277.9,95.09 L278.3,95.18 L278.7,95.4 L279.1,95.61 L279.5,94.62 L279.9,95.7 L280.3,95.29 L280.7,94.9 L281.1,95.11 L281.5,94.25 L281.9,94.93 L282.3,95.3 L282.7,94.89 L283.1,95.05 L283.5,95.12 L283.9,95.2 L284.3,95.62 L284.7,95.13 L285.1,95.01 L285.5,95.35 L285.9,96.02 L286.3,94.9 L286.7,95.25 L287.1,94.27 L287.5,95.53 L287.9,95.16 L288.3,95.38 L288.7,94.66 L289.1,94.11 L289.5,94.85 L289.9,94.64 L290.3,93.74 L290.7,93.27 L291.1,93.91 L291.5,93.39 L291.9,94.38 L292.3,92.65 L292.7,92.41 L293.1,92.31 L293.5,91.32 L293.9,91.4 L294.3,92.29 L294.7,91.27 L295.1,90.87 L295.5,90.44 L295.9,91.2 L296.3,91.21 L296.7,91.05 L297.1,90.8 L297.5,91.14 L297.9,91.12 L298.3,90.43 L298.7,90.58 L299.1,88.66 L299.5,88.15 L299.9,87.72 L300.3,87.23 L300.7,86.78 L301.1,88.18 L301.5,89.68 L301.9,90.72 L302.3,91.79 L302.7,92.97 L303.1,93.41 L303.5,93.09 L303.9,93.73 L304.3,94.49 L304.7,93.42 L305.1,93.93 L305.5,93.63 L305.9,93.2 L306.3,92.73 L306.7,92.39 L307.1,90.86 L307.5,88 L307.9,82.81 L308.3,77.48 L308.7,71.33 L309.1,66.25 L309.5,63.97 L309.9,66.18 L310.3,71.65 L310.7,77.95 L311.1,83.06 L311.5,87.85 L311.9,90.35 L312.3,91.23 L312.7,92.39 L313.1,94.51 L313.5,93.29 L313.9,92.91 L314.3,93.74 L314.7,94.74 L315.1,94.07 L315.5,94.3 L315.9,94 L316.3,94.09 L316.7,94.69 L317.1,94.46 L317.5,94.03 L317.9,94.42 L318.3,94.41 L318.7,93.68 L319.1,93.61 L319.5,93.07 L319.9,91.71 L320.3,91.03 L320.7,88.29 L321.1,85.42 L321.5,82.16 L321.9,80.1 L322.3,80.47 L322.7,80.13 L323.1,83.04 L323.5,85.44 L323.9,88.47 L324.3,90.63 L324.7,91.48 L325.1,92.6 L325.5,93.28 L325.9,93.54 L326.3,93.59 L326.7,93.51 L327.1,93.95 L327.5,94.25 L327.9,93.88 L328.3,93.27 L328.7,93.74 L329.1,93.53 L329.5,93.64 L329.9,94.17 L330.3,93.14 L330.7,93.1 L331.1,92.52 L331.5,92.5 L331.9,91.92 L332.3,92.17 L332.7,90.45 L333.1,88.31 L333.5,86.89 L333.9,81.88 L334.3,78.27 L334.7,72.78 L335.1,66.37 L335.5,59.72 L335.9,54.26 L336.3,50.37 L336.7,49.58 L337.1,49.58 L337.5,53.99 L337.9,59.15 L338.3,64.07 L338.7,68.46 L339.1,73.39 L339.5,76.5 L339.9,79.69 L340.3,81.75 L340.7,82.47 L341.1,82.59 L341.5,84.24 L341.9,84.71 L342.3,86.21 L342.7,87.42 L343.1,87.53 L343.5,88.99 L343.9,89.39 L344.3,89.6 L344.7,89.41 L345.1,90.35 L345.5,90.07 L345.9,91.57 L346.3,91.53 L346.7,92.45 L347.1,92.3 L347.5,91.63 L347.9,93.12 L348.3,93.55 L348.7,94.15 L349.1,93.22 L349.5,93.47 L349.9,94.12 L350.3,93.79 L350.7,93.79 L351.1,94.03 L351.5,95.7 L351.9,94.26 L352.3,94.07 L352.7,94.3 L353.1,94.47 L353.5,95.01 L353.9,94.81 L354.3,94.69 L354.7,94.3 L355.1,94.29 L355.5,93.88 L355.9,93.43 L356.3,94.96 L356.7,93.78 L357.1,94.38 L357.5,93.72 L357.9,93.75 L358.3,93.66 L358.7,93.04 L359.1,93.56 L359.5,93.69 L359.9,93.83 L360.3,93.65 L360.7,93.88 L361.1,93.54 L361.5,93.38 L361.9,92.44 L362.3,92.98 L362.7,93.76 L363.1,92.87 L363.5,92.86 L363.9,92.05 L364.3,91.51 L364.7,92.49 L365.1,91.68 L365.5,92.35 L365.9,92.22 L366.3,92.21 L366.7,91.68 L367.1,93.01 L367.5,92.47 L367.9,92.31 L368.3,93.94 L368.7,93.76 L369.1,93.75 L369.5,93.5 L369.9,93.47 L370.3,93.68 L370.7,93.57 L371.1,93.53 L371.5,93.84 L371.9,92.4 L372.3,93.91 L372.7,93.23 L373.1,93.9 L373.5,94.04 L373.9,93.13 L374.3,93.87 L374.7,93.86 L375.1,93.19 L375.5,93.26 L375.9,93.55 L376.3,92.49 L376.7,93.29 L377.1,93.58 L377.5,93.29 L377.9,92.77 L378.3,93.32 L378.7,94.18 L379.1,94.09 L379.5,93.44 L379.9,93.13 L380.3,93.48 L380.7,93.5 L381.1,93.18 L381.5,93.34 L381.9,93.77 L382.3,93.91 L382.7,92.39 L383.1,93.93 L383.5,93.55 L383.9,94 L384.3,93.48 L384.7,93.68 L385.1,94.22 L385.5,92.15 L385.9,94.2 L386.3,93.57 L386.7,92.66 L387.1,92.28 L387.5,93.62 L387.9,93.02 L388.3,93.93 L388.7,93.58 L389.1,93.42 L389.5,93.93 L389.9,93.56 L390.3,93.81 L390.7,93.85 L391.1,93.62 L391.5,93.83 L391.9,93.83 L392.3,92.86 L392.7,93.35 L393.1,93.42 L393.5,93.3 L393.9,92.75 L394.3,93.21 L394.7,93.62 L395.1,93.55 L395.5,94.15 L395.9,93.19 L396.3,93.27 L396.7,93.2 L397.1,93.32 L397.5,93.19 L397.9,92.62 L398.3,93.61 L398.7,93.9 L399.1,93.96 L399.5,92.97 L399.9,93.37 L400.3,94.29 L400.7,93.4 L401.1,93.61 L401.5,93.38 L401.9,93.9 L402.3,93.88 L402.7,94.5 L403.1,93.67 L403.5,93.65 L403.9,92.9 L404.3,93.26 L404.7,93.13 L405.1,93.29 L405.5,92.85 L405.9,93.99 L406.3,92.96 L406.7,93.56 L407.1,92.87 L407.5,93.59 L407.9,94.18 L408.3,93.06 L408.7,93.6 L409.1,93.4 L409.5,93.56 L409.9,93.62 L410.3,93.14 L410.7,93.35 L411.1,93.16 L411.5,93.05 L411.9,92.87 L412.3,93.86 L412.7,93.09 L413.1,93.72 L413.5,93.67 L413.9,92.97 L414.3,93.89 L414.7,93.03 L415.1,93.7 L415.5,94.07 L415.9,93.09 L416.3,92.99 L416.7,92.99 L417.1,94.44 L417.5,93.24 L417.9,92.84 L418.3,93.77 L418.7,93.33 L419.1,93.39 L419.5,92.95 L419.9,92.4 L420.3,93.07 L420.7,92.93 L421.1,92.67 L421.5,92.91 L421.9,92.97 L422.3,93.75 L422.7,93.71 L423.1,93.62 L423.5,93.15 L423.9,92.82 L424.3,93.52 L424.7,93.59 L425.1,93.83" fill="none" stroke="#82338f" stroke-width="0.95" stroke-linejoin="round" />
<path d="M241.5,143.04 L241.9,139.11 L242.3,142.33 L242.7,141.59 L243.1,142.56 L243.5,141.75 L243.9,142.81 L244.3,141.22 L244.7,140.54 L245.1,141.06 L245.5,140.4 L245.9,139.04 L246.3,138.17 L246.7,137.79 L247.1,136.47 L247.5,134.16 L247.9,133.02 L248.3,130.94 L248.7,133.28 L249.1,131.91 L249.5,133.87 L249.9,134.24 L250.3,136.77 L250.7,137.75 L251.1,137.95 L251.5,139.79 L251.9,138.43 L252.3,140.39 L252.7,138 L253.1,138.91 L253.5,138.72 L253.9,137.25 L254.3,136.22 L254.7,135.79 L255.1,136.63 L255.5,138.62 L255.9,139.52 L256.3,139.57 L256.7,139.58 L257.1,141.7 L257.5,140.39 L257.9,141.37 L258.3,141.35 L258.7,142.62 L259.1,142.27 L259.5,142.5 L259.9,142.38 L260.3,141.64 L260.7,142.62 L261.1,143.32 L261.5,142.17 L261.9,142.7 L262.3,142.1 L262.7,143.02 L263.1,142.73 L263.5,142.9 L263.9,142.47 L264.3,143.5 L264.7,141.9 L265.1,141.91 L265.5,141.7 L265.9,142.66 L266.3,141.66 L266.7,141.64 L267.1,142.73 L267.5,143.07 L267.9,142.59 L268.3,139.97 L268.7,141.34 L269.1,141.23 L269.5,141.1 L269.9,141.71 L270.3,143.42 L270.7,141.57 L271.1,140.92 L271.5,141.56 L271.9,140.38 L272.3,139.84 L272.7,139.04 L273.1,139.98 L273.5,140.98 L273.9,139.7 L274.3,140.33 L274.7,142.68 L275.1,142.57 L275.5,141.52 L275.9,141.12 L276.3,141.79 L276.7,140.98 L277.1,141.66 L277.5,143.24 L277.9,142.02 L278.3,142.83 L278.7,141.71 L279.1,142.17 L279.5,142.97 L279.9,140.77 L280.3,141.54 L280.7,141.67 L281.1,142 L281.5,142.99 L281.9,142.26 L282.3,140.48 L282.7,141.42 L283.1,140.87 L283.5,140.79 L283.9,143.07 L284.3,140.52 L284.7,141.47 L285.1,140.59 L285.5,141.69 L285.9,141.1 L286.3,140.72 L286.7,140.34 L287.1,141.08 L287.5,139.17 L287.9,139.06 L288.3,138.46 L288.7,140.12 L289.1,138.51 L289.5,137.59 L289.9,137.75 L290.3,139.75 L290.7,137.33 L291.1,137.77 L291.5,137.15 L291.9,136.47 L292.3,135.65 L292.7,135.7 L293.1,135.48 L293.5,133.83 L293.9,137.54 L294.3,136.11 L294.7,135.39 L295.1,135.06 L295.5,134.48 L295.9,135.67 L296.3,134.43 L296.7,134.44 L297.1,132.22 L297.5,132.7 L297.9,132.94 L298.3,130.06 L298.7,130.09 L299.1,129.07 L299.5,130.11 L299.9,130.85 L300.3,131.3 L300.7,132.29 L301.1,134.43 L301.5,135.55 L301.9,136.11 L302.3,137.8 L302.7,138.39 L303.1,137.74 L303.5,138.64 L303.9,141.23 L304.3,139.63 L304.7,139.06 L305.1,140.89 L305.5,138.23 L305.9,136.01 L306.3,135.29 L306.7,133.54 L307.1,131.75 L307.5,127.85 L307.9,119.91 L308.3,116.98 L308.7,110.74 L309.1,110.26 L309.5,112.19 L309.9,116.62 L310.3,121.94 L310.7,127.59 L311.1,131.1 L311.5,135.56 L311.9,138.28 L312.3,139.52 L312.7,141.6 L313.1,140.78 L313.5,140.74 L313.9,141.65 L314.3,140.63 L314.7,139.49 L315.1,138.8 L315.5,141.66 L315.9,141.13 L316.3,141.38 L316.7,140.44 L317.1,140.97 L317.5,142.15 L317.9,140.81 L318.3,139.45 L318.7,139.61 L319.1,140.31 L319.5,136.99 L319.9,133.56 L320.3,130.41 L320.7,126.62 L321.1,122.96 L321.5,117 L321.9,112.14 L322.3,110.1 L322.7,112.63 L323.1,116.76 L323.5,121.81 L323.9,127.42 L324.3,131.53 L324.7,136.96 L325.1,135.88 L325.5,139.24 L325.9,139.11 L326.3,140.9 L326.7,140.37 L327.1,140.96 L327.5,141.16 L327.9,140.93 L328.3,141.57 L328.7,139.65 L329.1,141.49 L329.5,140.5 L329.9,140.9 L330.3,141.72 L330.7,141.19 L331.1,141.59 L331.5,137.73 L331.9,138.01 L332.3,138.35 L332.7,134.85 L333.1,132.97 L333.5,130.87 L333.9,125.6 L334.3,118.68 L334.7,113.9 L335.1,108.34 L335.5,103.21 L335.9,100.4 L336.3,100.6 L336.7,101.95 L337.1,107.92 L337.5,112.77 L337.9,119.76 L338.3,125.24 L338.7,128.79 L339.1,133.6 L339.5,136.04 L339.9,137.55 L340.3,139.36 L340.7,139.29 L341.1,139.79 L341.5,140.37 L341.9,140.46 L342.3,141.55 L342.7,138.83 L343.1,140.54 L343.5,139.22 L343.9,140.42 L344.3,140.98 L344.7,140.64 L345.1,141.11 L345.5,140.04 L345.9,136.77 L346.3,137 L346.7,138.04 L347.1,137.22 L347.5,135.87 L347.9,135.11 L348.3,139.13 L348.7,136.86 L349.1,139.78 L349.5,140.21 L349.9,140.89 L350.3,140.02 L350.7,140.77 L351.1,142.02 L351.5,140.81 L351.9,140.12 L352.3,141.24 L352.7,141.34 L353.1,141.17 L353.5,140.66 L353.9,141.74 L354.3,141.21 L354.7,140.38 L355.1,141.5 L355.5,141.31 L355.9,141.46 L356.3,139.98 L356.7,140.73 L357.1,141.72 L357.5,142.11 L357.9,141.64 L358.3,141.5 L358.7,141.96 L359.1,142.17 L359.5,142.8 L359.9,141.77 L360.3,140.95 L360.7,141.79 L361.1,139.85 L361.5,141.46 L361.9,141.06 L362.3,141.4 L362.7,141.82 L363.1,141.47 L363.5,140.27 L363.9,141.14 L364.3,140.79 L364.7,141.42 L365.1,141.72 L365.5,140.66 L365.9,142.02 L366.3,142.48 L366.7,141.22 L367.1,142.02 L367.5,140.25 L367.9,141 L368.3,142.21 L368.7,140.02 L369.1,141.03 L369.5,140.72 L369.9,142.35 L370.3,142.35 L370.7,140.93 L371.1,141.53 L371.5,139.34 L371.9,142.11 L372.3,141.71 L372.7,142.49 L373.1,139.51 L373.5,141.7 L373.9,141.14 L374.3,139.33 L374.7,140.86 L375.1,141.35 L375.5,142.06 L375.9,141.57 L376.3,141 L376.7,141.77 L377.1,141.32 L377.5,140.89 L377.9,140.59 L378.3,141.53 L378.7,141.53 L379.1,142.88 L379.5,141.04 L379.9,142.68 L380.3,141.68 L380.7,142.34 L381.1,140.67 L381.5,140.7 L381.9,141.15 L382.3,142.11 L382.7,141.53 L383.1,141.99 L383.5,141.64 L383.9,142.21 L384.3,141.54 L384.7,140.96 L385.1,141.79 L385.5,141.45 L385.9,142.78 L386.3,141.25 L386.7,141.46 L387.1,141.13 L387.5,142.3 L387.9,142.07 L388.3,141.89 L388.7,140.37 L389.1,140.15 L389.5,141.58 L389.9,141.94 L390.3,142.54 L390.7,139.92 L391.1,141.22 L391.5,140 L391.9,140.59 L392.3,141.17 L392.7,142.12 L393.1,140.93 L393.5,140.77 L393.9,141.09 L394.3,142.35 L394.7,143.27 L395.1,140.11 L395.5,141.12 L395.9,140.99 L396.3,142.27 L396.7,141.68 L397.1,142.56 L397.5,140.52 L397.9,141.34 L398.3,140.96 L398.7,140.44 L399.1,141.19 L399.5,140.37 L399.9,143.05 L400.3,141.65 L400.7,140.5 L401.1,140.83 L401.5,142.69 L401.9,140.92 L402.3,141.86 L402.7,141.77 L403.1,142.17 L403.5,141.81 L403.9,141.13 L404.3,140.82 L404.7,139.87 L405.1,141.25 L405.5,141.4 L405.9,141 L406.3,141.17 L406.7,140.31 L407.1,143.02 L407.5,140.88 L407.9,140.45 L408.3,140.8 L408.7,141.14 L409.1,141.86 L409.5,139.33 L409.9,141.68 L410.3,140.77 L410.7,141.12 L411.1,142.08 L411.5,141.87 L411.9,140.71 L412.3,141.18 L412.7,142.75 L413.1,142.34 L413.5,141.95 L413.9,141.26 L414.3,142.02 L414.7,141.56 L415.1,140.8 L415.5,140.44 L415.9,141.66 L416.3,141.54 L416.7,142.2 L417.1,140.85 L417.5,142.35 L417.9,140.94 L418.3,142.23 L418.7,141.66 L419.1,140.76 L419.5,140.46 L419.9,141.12 L420.3,141.01 L420.7,141.97 L421.1,140.66 L421.5,140.03 L421.9,141.19 L422.3,142.75 L422.7,142.52 L423.1,140.71 L423.5,140.98 L423.9,141.45 L424.3,140.67 L424.7,141 L425.1,140.97" fill="none" stroke="#2f2b62" stroke-width="0.9" stroke-linejoin="round" />
<rect x="241.6" y="0.6" width="184" height="146.9" fill="none" stroke="#111" stroke-width="1.3"/>
<line x1="241.5" y1="147.5" x2="241.5" y2="150.4" stroke="#111" stroke-width="1.1" />
<text x="241.5" y="160.9" font-size="10.5" fill="#111" text-anchor="middle" font-weight="normal" font-family='"Liberation Sans", sans-serif' >1000</text>
<line x1="278.2" y1="147.5" x2="278.2" y2="150.4" stroke="#111" stroke-width="1.1" />
<text x="278.2" y="160.9" font-size="10.5" fill="#111" text-anchor="middle" font-weight="normal" font-family='"Liberation Sans", sans-serif' >1200</text>
<line x1="314.9" y1="147.5" x2="314.9" y2="150.4" stroke="#111" stroke-width="1.1" />
<text x="314.9" y="160.9" font-size="10.5" fill="#111" text-anchor="middle" font-weight="normal" font-family='"Liberation Sans", sans-serif' >1400</text>
<line x1="351.6" y1="147.5" x2="351.6" y2="150.4" stroke="#111" stroke-width="1.1" />
<text x="351.6" y="160.9" font-size="10.5" fill="#111" text-anchor="middle" font-weight="normal" font-family='"Liberation Sans", sans-serif' >1600</text>
<line x1="388.3" y1="147.5" x2="388.3" y2="150.4" stroke="#111" stroke-width="1.1" />
<text x="388.3" y="160.9" font-size="10.5" fill="#111" text-anchor="middle" font-weight="normal" font-family='"Liberation Sans", sans-serif' >1800</text>
<line x1="425" y1="147.5" x2="425" y2="150.4" stroke="#111" stroke-width="1.1" />
<text x="425" y="160.9" font-size="10.5" fill="#111" text-anchor="middle" font-weight="normal" font-family='"Liberation Sans", sans-serif' >2000</text>
<line x1="259.85" y1="147.5" x2="259.85" y2="149.3" stroke="#111" stroke-width="1.0" />
<line x1="296.55" y1="147.5" x2="296.55" y2="149.3" stroke="#111" stroke-width="1.0" />
<line x1="333.25" y1="147.5" x2="333.25" y2="149.3" stroke="#111" stroke-width="1.0" />
<line x1="369.95" y1="147.5" x2="369.95" y2="149.3" stroke="#111" stroke-width="1.0" />
<line x1="406.65" y1="147.5" x2="406.65" y2="149.3" stroke="#111" stroke-width="1.0" />
<text x="333" y="178.7" font-size="10.5" fill="#111" text-anchor="middle" font-weight="normal" font-family='"Liberation Sans", sans-serif' >Raman Shift (cm<tspan font-size="6.5" dy="-4">-1</tspan><tspan dy="4">)</tspan></text>
<text x="235.4" y="73.5" font-size="10.4" fill="#111" text-anchor="middle" font-weight="normal" font-family='"Liberation Sans", sans-serif' transform="rotate(-90 235.4 73.5)">Intensity (a.u.)</text>
<text x="376.9" y="40.3" font-size="10.4" fill="#7b2227" text-anchor="start" font-weight="normal" font-family='"Liberation Sans", sans-serif' >Py</text>
<text x="370.6" y="84" font-size="10.4" fill="#82338f" text-anchor="start" font-weight="normal" font-family='"Liberation Sans", sans-serif' >TpDPP</text>
<text x="339" y="117.3" font-size="10.2" fill="#3aa6dc" text-anchor="start" font-weight="bold" font-family='"Liberation Sans", sans-serif' >C=N 1571 cm<tspan font-size="6.5" dy="-4">-1</tspan></text>
<text x="346" y="131.4" font-size="10.4" fill="#2f2b62" text-anchor="start" font-weight="normal" font-family='"Liberation Sans", sans-serif' >TpDPP-Py COFs</text>
<text x="219.7" y="15.8" font-size="16.5" fill="#000" text-anchor="start" font-weight="bold" font-family='"Liberation Sans", sans-serif' >b</text>
<path d="M463.6,139.77 L464.05,140.65 L464.5,138.18 L464.95,140.8 L465.4,139.51 L465.85,138.96 L466.3,138.97 L466.75,138.77 L467.2,139.43 L467.65,140.23 L468.1,140.06 L468.55,140.11 L469,138.37 L469.45,138.48 L469.9,140.83 L470.35,140.41 L470.8,141.33 L471.25,140.61 L471.7,138.95 L472.15,140.69 L472.6,140.21 L473.05,139.91 L473.5,139.15 L473.95,139.78 L474.4,139.68 L474.85,140.47 L475.3,139.91 L475.75,141.01 L476.2,139.26 L476.65,140.2 L477.1,140.24 L477.55,139.22 L478,139 L478.45,140.66 L478.9,140.3 L479.35,139.8 L479.8,140.23 L480.25,139.44 L480.7,140.14 L481.15,139.52 L481.6,140.12 L482.05,140.73 L482.5,139.75 L482.95,140.65 L483.4,139.25 L483.85,139.83 L484.3,139.03 L484.75,139.99 L485.2,140.14 L485.65,139.94 L486.1,139.9 L486.55,141.12 L487,141.19 L487.45,139.23 L487.9,141.03 L488.35,138.87 L488.8,139.62 L489.25,140.06 L489.7,140.28 L490.15,139.42 L490.6,139.68 L491.05,140.29 L491.5,139.73 L491.95,139.78 L492.4,140.77 L492.85,140.98 L493.3,140.25 L493.75,140.32 L494.2,140.3 L494.65,139.99 L495.1,139.96 L495.55,139.58 L496,140.85 L496.45,140.32 L496.9,140.29 L497.35,140.55 L497.8,140.81 L498.25,141.49 L498.7,140.23 L499.15,140.15 L499.6,140.61 L500.05,139.84 L500.5,141.44 L500.95,141.19 L501,141.02 L501.4,133 L501.85,124.56 L502.2,118 L502.3,115.16 L502.75,102.4 L503.2,89.64 L503.3,86.8 L503.65,94.82 L504.1,105.13 L504.4,112 L504.55,114.54 L505,122.15 L505.45,129.77 L505.7,134 L505.9,134.92 L506.35,136.92 L506.5,138.25 L506.8,137.15 L507.25,134.35 L507.7,132.34 L508,131 L508.15,128.68 L508.6,121.7 L509.05,114.73 L509.5,107.75 L509.95,100.78 L510,100 L510.4,96.27 L510.85,92.07 L511.3,87.87 L511.5,86 L511.75,85.23 L512.2,83.85 L512.65,82.46 L512.8,82 L513.1,82.87 L513.55,84.19 L514,85.5 L514,85.5 L514.45,86.95 L514.9,88.39 L515.35,89.84 L515.4,90 L515.8,96.22 L516.25,103.22 L516.3,104 L516.7,111.47 L517.15,119.87 L517.5,126.4 L517.6,125.86 L518.05,123.43 L518.5,121 L518.5,121 L518.95,113.2 L519.4,105.4 L519.85,97.6 L520,95 L520.3,87.93 L520.75,77.32 L521.2,66.71 L521.4,62 L521.65,57.38 L522.1,49.05 L522.55,40.73 L523,32.4 L523,32.4 L523.45,43.87 L523.9,55.35 L524.2,63 L524.35,59.25 L524.8,48 L525.2,38 L525.25,37.15 L525.7,29.5 L526.15,21.85 L526.4,17.6 L526.6,24.34 L527.05,39.5 L527.5,54.66 L527.7,61.4 L527.95,61.9 L528.4,62.8 L528.5,63 L528.85,64.5 L529.2,66 L529.3,65.69 L529.75,64.28 L530,63.5 L530.2,64.9 L530.5,67 L530.65,67.56 L531.1,69.25 L531.3,70 L531.55,69 L531.8,68 L532,68.8 L532.45,70.6 L532.7,71.6 L532.9,75.43 L533.35,84.04 L533.4,85 L533.8,91.4 L534.25,98.6 L534.4,101 L534.7,101.17 L535.15,101.42 L535.3,101.5 L535.6,105.6 L536.05,111.75 L536.5,117.9 L536.8,122 L536.95,121.63 L537.4,120.5 L537.85,119.38 L538,119 L538.3,118.1 L538.75,116.75 L539,116 L539.2,115.5 L539.65,114.38 L540,113.5 L540.1,114.44 L540.55,118.66 L540.8,121 L541,121.89 L541.45,123.89 L541.9,125.89 L542.35,127.89 L542.6,129 L542.8,127.17 L543.25,123.04 L543.7,118.92 L543.8,118 L544.15,114.78 L544.6,110.65 L545.05,106.52 L545.4,103.3 L545.5,104.82 L545.95,111.65 L546.4,118.48 L546.5,120 L546.85,123.5 L547.3,128 L547.75,132.5 L547.8,133 L548.2,134.71 L548.65,137.01 L548.9,137.49 L549.1,136.55 L549.55,138.79 L550,138.07 L550.45,137.97 L550.9,139.53 L551.35,139.38 L551.8,138.32 L552,139.43 L552.25,139.3 L552.7,140.24 L553.15,138.08 L553.6,139.21 L554.05,139.4 L554.5,140.56 L554.95,138.69 L555.4,137.29 L555.85,138.46 L556.3,139.7 L556.75,140.11 L557.2,140.8 L557.65,139.8 L558.1,138.9 L558.55,140.16 L559,139.49 L559.45,139.35 L559.9,139.51 L560.35,140.46 L560.8,138.82 L561.25,138.73 L561.7,139.45 L562.15,139.45 L562.6,138.89 L563.05,138.84 L563.5,139.78 L563.95,140.5 L564.4,140.03 L564.85,140.01 L565.3,140.43 L565.75,138.01 L566.2,138.37 L566.65,138.97 L567.1,138.6 L567.55,138.76 L568,139.55 L568.45,138.54 L568.9,139.17 L569.35,137.97 L569.8,138.77 L570.25,140.51 L570.7,139.09 L571.15,139.74 L571.6,140.03 L572.05,139.13 L572.5,139.93 L572.95,139.66 L573.4,140.02 L573.85,139.02 L574.3,138.42 L574.75,138.73 L575.2,139.08 L575.65,139.9 L576.1,139.35 L576.55,139.2 L577,139.37 L577.45,140.32 L577.9,139.07 L578.35,140.63 L578.8,138.58 L579.25,139.06 L579.7,140.14 L580.15,139.89 L580.6,138.86 L581.05,139.42 L581.5,138.97 L581.95,140.14 L582.4,139.9 L582.85,138.97 L583.3,139.8 L583.75,139.22 L584.2,139.45 L584.65,139.55 L585.1,139.08 L585.55,139.82 L586,139.85 L586.45,139.82 L586.9,140.33 L587.35,139.3 L587.8,138.39 L588.25,139.13 L588.7,139.65 L589.15,139.52 L589.6,139.93 L590.05,140.1 L590.5,139.41 L590.95,139.42 L591.4,138.76 L591.85,140.27 L592.3,139.3 L592.75,138.69 L593.2,138.66 L593.65,139.19 L594,140.67 L594.1,139.58 L594.55,135.48 L595,134.5 L595.45,132.25 L595.5,132 L595.9,127.6 L596.35,122.65 L596.8,117.7 L597.2,113.3 L597.25,113.79 L597.7,118.16 L598.15,122.54 L598.3,124 L598.6,125.07 L599.05,126.67 L599.5,128.27 L599.9,129.7 L599.95,129.02 L600.4,122.89 L600.85,116.77 L601.2,112 L601.3,110.55 L601.75,104 L602.2,97.45 L602.3,96 L602.65,100.67 L603.1,106.67 L603.5,112 L603.55,112.73 L604,119.27 L604.45,125.82 L604.6,128 L604.9,128.92 L605.35,130.3 L605.8,131.67 L606.2,132.9 L606.25,132.33 L606.7,127.17 L607.15,122.01 L607.5,118 L607.6,115.7 L608.05,105.35 L608.5,95 L608.5,95 L608.95,89.55 L609.4,84.11 L609.85,78.66 L610.3,73.21 L610.4,72 L610.75,76.85 L611.2,83.08 L611.65,89.31 L611.7,90 L612.1,94.25 L612.55,99.03 L613,103.81 L613.3,107 L613.45,103.3 L613.9,92.2 L614.35,81.1 L614.8,70 L614.8,70 L615.25,58.61 L615.7,47.22 L616.1,37.1 L616.15,38.45 L616.6,50.64 L617.05,62.82 L617.5,75 L617.5,75 L617.95,87.12 L618.4,99.23 L618.8,110 L618.85,110.65 L619.3,116.5 L619.75,122.35 L620.2,128.2 L620.65,134.05 L620.8,136 L621.1,131.89 L621.55,125.74 L622,119.58 L622.45,113.42 L622.7,110 L622.9,105.08 L623.35,94 L623.8,82.92 L624,78 L624.25,74.33 L624.6,69.2 L624.7,70.62 L625.15,77.02 L625.5,82 L625.6,84.35 L626.05,94.9 L626.5,105.45 L626.6,107.8 L626.95,108.02 L627.4,108.31 L627.7,108.5 L627.85,109.83 L628.3,113.81 L628.75,117.79 L629,120 L629.2,121.6 L629.65,125.2 L630.1,128.8 L630.5,132 L630.55,132.25 L631,134.5 L631.45,136.66 L631.9,139.2 L632.1,140.47 L632.35,140.26 L632.8,139.52 L633.25,140.31 L633.7,139.58 L634.15,138.32 L634.6,139.47 L635.05,139.49 L635.5,140.72 L635.95,140.79 L636.4,139.22 L636.85,140.13 L637.3,140.07 L637.75,138.92 L638.2,138.46 L638.65,139.93 L639.1,140.1 L639.55,139.55 L640,137.97 L640.45,139.98 L640.9,139.57 L641.35,139.33 L641.8,139.76 L642.25,139.15 L642.7,140.42 L643.15,140.01 L643.6,139.58 L644.05,140.21 L644.5,139.98 L644.95,138.86 L645.4,139.89 L645.85,139.66 L646.3,138.69 L646.75,139.51 L647.2,140.32 L647.65,139.54 L648.1,141.06 L648.55,141.27 L649,139.77 L649.45,140.42 L649.9,141.49 L650.35,139.75 L650.8,139.33 L651.25,139.68 L651.7,138.97 L652.15,138.99 L652.6,140.16 L653.05,139.69 L653.5,140.18 L653.95,140.37 L654.4,139.43 L654.85,139.85 L655.3,139.8 L655.75,139.5 L656.2,139.37 L656.65,140.24 L657.1,139.89 L657.55,140.25 L658,140.75 L658.45,140.76 L658.9,139.17 L659.35,139.36 L659.8,139.81 L660.25,140.09 L660.7,140.7 L661.15,139.28 L661.6,139.67 L662.05,140.19 L662.5,140.92 L662.95,141.03 L663.4,139.25 L663.85,139.84 L664.3,139.39 L664.75,140.64 L665.2,140.34 L665.65,139.73 L666.1,139.54 L666.55,140.22 L667,140.74 L667.45,139.42 L667.9,139.76 L668.35,140.08 L668.8,140.01 L669.25,140.25 L669.7,139.25 L670.15,139.55 L670.6,138.42 L671.05,140.04 L671.5,140.8 L671.95,138.46 L672.4,139.53 L672.85,140.67 L673.3,139.89 L673.75,138.58 L674.2,140.88 L674.65,138.93 L675.1,141.03 L675.55,139.56 L676,139.47 L676,140.02" fill="none" stroke="#3b3870" stroke-width="0.9" stroke-linejoin="round" />
<rect x="463.6" y="1.0" width="212.4" height="146.5" fill="none" stroke="#222" stroke-width="1.3"/>
<line x1="463.6" y1="0.7" x2="676" y2="0.7" stroke="#555" stroke-width="1.4" />
<line x1="471.58" y1="147.5" x2="471.58" y2="150.4" stroke="#111" stroke-width="1.1" />
<text x="471.58" y="161.1" font-size="10.6" fill="#111" text-anchor="middle" font-weight="normal" font-family='"Liberation Sans", sans-serif' transform="translate(471.58 161.1) scale(1.17 0.93) translate(-471.58 -161.1)">200</text>
<line x1="512.51" y1="147.5" x2="512.51" y2="150.4" stroke="#111" stroke-width="1.1" />
<text x="512.51" y="161.1" font-size="10.6" fill="#111" text-anchor="middle" font-weight="normal" font-family='"Liberation Sans", sans-serif' transform="translate(512.51 161.1) scale(1.17 0.93) translate(-512.51 -161.1)">150</text>
<line x1="553.44" y1="147.5" x2="553.44" y2="150.4" stroke="#111" stroke-width="1.1" />
<text x="553.44" y="161.1" font-size="10.6" fill="#111" text-anchor="middle" font-weight="normal" font-family='"Liberation Sans", sans-serif' transform="translate(553.44 161.1) scale(1.17 0.93) translate(-553.44 -161.1)">100</text>
<line x1="594.37" y1="147.5" x2="594.37" y2="150.4" stroke="#111" stroke-width="1.1" />
<text x="594.37" y="161.1" font-size="10.6" fill="#111" text-anchor="middle" font-weight="normal" font-family='"Liberation Sans", sans-serif' transform="translate(594.37 161.1) scale(1.17 0.93) translate(-594.37 -161.1)">50</text>
<line x1="635.3" y1="147.5" x2="635.3" y2="150.4" stroke="#111" stroke-width="1.1" />
<text x="635.3" y="161.1" font-size="10.6" fill="#111" text-anchor="middle" font-weight="normal" font-family='"Liberation Sans", sans-serif' transform="translate(635.30 161.1) scale(1.17 0.93) translate(-635.30 -161.1)">0</text>
<line x1="676.23" y1="147.5" x2="676.23" y2="150.4" stroke="#111" stroke-width="1.1" />
<text x="676.23" y="161.1" font-size="10.6" fill="#111" text-anchor="middle" font-weight="normal" font-family='"Liberation Sans", sans-serif' transform="translate(676.23 161.1) scale(1.17 0.93) translate(-676.23 -161.1)">-50</text>
<line x1="492.04" y1="147.5" x2="492.04" y2="149.3" stroke="#111" stroke-width="1.0" />
<line x1="532.97" y1="147.5" x2="532.97" y2="149.3" stroke="#111" stroke-width="1.0" />
<line x1="573.9" y1="147.5" x2="573.9" y2="149.3" stroke="#111" stroke-width="1.0" />
<line x1="614.83" y1="147.5" x2="614.83" y2="149.3" stroke="#111" stroke-width="1.0" />
<line x1="655.76" y1="147.5" x2="655.76" y2="149.3" stroke="#111" stroke-width="1.0" />
<text x="570.3" y="177.8" font-size="10.6" fill="#111" text-anchor="middle" font-weight="normal" font-family='"Liberation Sans", sans-serif' transform="translate(570.3 177.8) scale(1.15 1) translate(-570.3 -177.8)">δ (ppm)</text>
<text x="455.9" y="73.8" font-size="10.4" fill="#111" text-anchor="middle" font-weight="normal" font-family='"Liberation Sans", sans-serif' transform="rotate(-90 455.9 73.8)">Intensity (a.u.)</text>
<text x="448.9" y="15.4" font-size="16.5" fill="#000" text-anchor="start" font-weight="bold" font-family='"Liberation Sans", sans-serif' >c</text>
<line x1="463.8" y1="7.2" x2="490" y2="7.2" stroke="#3b3870" stroke-width="0.9" />
<text x="494.6" y="11.3" font-size="10.4" fill="#3b3870" text-anchor="start" font-weight="normal" font-family='"Liberation Sans", sans-serif' transform="translate(494.6 11.3) scale(1.15 1) translate(-494.6 -11.3)">TpDPP-Py COFs</text>
<text x="502.2" y="85" font-size="8.0" fill="#222" text-anchor="start" font-weight="normal" font-family='"Liberation Sans", sans-serif' >j</text>
<text x="508.6" y="86" font-size="8.0" fill="#222" text-anchor="start" font-weight="normal" font-family='"Liberation Sans", sans-serif' >i</text>
<text x="535.4" y="71" font-size="8.0" fill="#222" text-anchor="start" font-weight="normal" font-family='"Liberation Sans", sans-serif' >h</text>
<text x="529.2" y="105.5" font-size="8.0" fill="#222" text-anchor="start" font-weight="normal" font-family='"Liberation Sans", sans-serif' >g</text>
<text x="538.6" y="110.2" font-size="8.0" fill="#222" text-anchor="start" font-weight="normal" font-family='"Liberation Sans", sans-serif' >f</text>
<text x="543.3" y="100.3" font-size="8.0" fill="#222" text-anchor="start" font-weight="normal" font-family='"Liberation Sans", sans-serif' >e</text>
<text x="593.6" y="111" font-size="8.0" fill="#222" text-anchor="start" font-weight="normal" font-family='"Liberation Sans", sans-serif' >d</text>
<text x="599.8" y="92.8" font-size="8.0" fill="#222" text-anchor="start" font-weight="normal" font-family='"Liberation Sans", sans-serif' >c</text>
<text x="622.7" y="67.8" font-size="8.0" fill="#222" text-anchor="start" font-weight="normal" font-family='"Liberation Sans", sans-serif' >b</text>
<text x="629.7" y="105.3" font-size="8.0" fill="#222" text-anchor="start" font-weight="normal" font-family='"Liberation Sans", sans-serif' >a</text>
<path d="M582,23.8 L577.72,20.69 L579.35,15.66 L584.65,15.66 L586.28,20.69 Z" fill="none" stroke="#3f3b78" stroke-width="0.95" stroke-linejoin="round"/>
<path d="M579.09,20.02 L580.07,17.01" fill="none" stroke="#3f3b78" stroke-width="0.95" stroke-linejoin="round"/>
<path d="M583.93,17.01 L584.91,20.02" fill="none" stroke="#3f3b78" stroke-width="0.95" stroke-linejoin="round"/>
<path d="M585.5,30.5 L583.5,23.8" fill="none" stroke="#3f3b78" stroke-width="0.95" stroke-linejoin="round"/>
<path d="M580,31.8 L574.5,30.3 L571.5,35.8 L574.5,41.3 L580,39.8 Z" fill="none" stroke="#3f3b78" stroke-width="0.95" stroke-linejoin="round"/>
<path d="M580,31.8 L585.5,30.3 L588.5,35.8 L585.5,41.3 L580,39.8" fill="none" stroke="#3f3b78" stroke-width="0.95" stroke-linejoin="round"/>
<path d="M578.9,33.44 L578.9,38.24" fill="none" stroke="#3f3b78" stroke-width="0.95" stroke-linejoin="round"/>
<path d="M575.31,39.94 L578.61,39.04" fill="none" stroke="#3f3b78" stroke-width="0.95" stroke-linejoin="round"/>
<path d="M584.67,31.67 L581.37,32.57" fill="none" stroke="#3f3b78" stroke-width="0.95" stroke-linejoin="round"/>
<path d="M574.5,30.3 L571.8,26.6" fill="none" stroke="#3f3b78" stroke-width="0.95" stroke-linejoin="round"/>
<path d="M575.6,29.4 L572.9,25.7" fill="none" stroke="#3f3b78" stroke-width="0.95" stroke-linejoin="round"/>
<path d="M585.5,41.3 L588.2,45" fill="none" stroke="#3f3b78" stroke-width="0.95" stroke-linejoin="round"/>
<path d="M584.4,42.2 L587.1,45.9" fill="none" stroke="#3f3b78" stroke-width="0.95" stroke-linejoin="round"/>
<path d="M571.5,35.8 L567.5,38 L563.5,35.8 L559.5,38 L555.5,35.8 L551.5,38 L547.5,35.8 L543.5,38 L541.5,34.5" fill="none" stroke="#3f3b78" stroke-width="0.95" stroke-linejoin="round"/>
<path d="M563.5,35.8 L563,31 L559.5,28.5 L559.5,24.5" fill="none" stroke="#3f3b78" stroke-width="0.95" stroke-linejoin="round"/>
<path d="M588.5,35.8 L592.5,32.5 L596.5,34.5 L600.5,31 L604.5,33 L608.5,30 L612.5,32 L614,30" fill="none" stroke="#3f3b78" stroke-width="0.95" stroke-linejoin="round"/>
<path d="M596.5,34.5 L597,39 L601,41.5" fill="none" stroke="#3f3b78" stroke-width="0.95" stroke-linejoin="round"/>
<path d="M574.5,41.3 L575.8,44.2" fill="none" stroke="#3f3b78" stroke-width="0.95" stroke-linejoin="round"/>
<path d="M576.5,44.1 L580.68,47.14 L579.09,52.06 L573.91,52.06 L572.32,47.14 Z" fill="none" stroke="#3f3b78" stroke-width="0.95" stroke-linejoin="round"/>
<path d="M579.32,47.78 L578.36,50.74" fill="none" stroke="#3f3b78" stroke-width="0.95" stroke-linejoin="round"/>
<path d="M574.64,50.74 L573.68,47.78" fill="none" stroke="#3f3b78" stroke-width="0.95" stroke-linejoin="round"/>
<path d="M575.5,52.8 L573.3,57 L575.6,60.6 L573.2,64.6" fill="none" stroke="#3f3b78" stroke-width="0.95" stroke-linejoin="round"/>
<path d="M574.3,57.6 L576.5,61" fill="none" stroke="#3f3b78" stroke-width="0.95" stroke-linejoin="round"/>
<path d="M570.5,64.8 L575.7,67.8 L575.7,73.8 L570.5,76.8 L565.3,73.8 L565.3,67.8 Z" fill="none" stroke="#3f3b78" stroke-width="0.95" stroke-linejoin="round"/>
<path d="M570.99,66.35 L574.11,68.15" fill="none" stroke="#3f3b78" stroke-width="0.95" stroke-linejoin="round"/>
<path d="M574.11,73.45 L570.99,75.25" fill="none" stroke="#3f3b78" stroke-width="0.95" stroke-linejoin="round"/>
<path d="M566.4,72.6 L566.4,69" fill="none" stroke="#3f3b78" stroke-width="0.95" stroke-linejoin="round"/>
<path d="M575.7,73.8 L563.8,80.3" fill="none" stroke="#3f3b78" stroke-width="0.95" stroke-linejoin="round"/>
<path d="M559.93,81.22 L564.18,83.67 L564.18,88.58 L559.93,91.03 L555.69,88.58 L555.69,83.67 Z" fill="none" stroke="#3f3b78" stroke-width="0.95" stroke-linejoin="round"/>
<path d="M560.23,82.67 L562.78,84.14" fill="none" stroke="#3f3b78" stroke-width="0.95" stroke-linejoin="round"/>
<path d="M559.64,89.58 L557.09,88.11" fill="none" stroke="#3f3b78" stroke-width="0.95" stroke-linejoin="round"/>
<path d="M568.42,81.22 L572.67,83.67 L572.67,88.58 L568.42,91.03 L564.18,88.58 L564.18,83.67 Z" fill="none" stroke="#3f3b78" stroke-width="0.95" stroke-linejoin="round"/>
<path d="M568.72,82.67 L571.27,84.14" fill="none" stroke="#3f3b78" stroke-width="0.95" stroke-linejoin="round"/>
<path d="M568.12,89.58 L565.58,88.11" fill="none" stroke="#3f3b78" stroke-width="0.95" stroke-linejoin="round"/>
<path d="M564.18,88.57 L568.42,91.02 L568.42,95.92 L564.18,98.38 L559.93,95.92 L559.93,91.02 Z" fill="none" stroke="#3f3b78" stroke-width="0.95" stroke-linejoin="round"/>
<path d="M564.48,90.02 L567.02,91.49" fill="none" stroke="#3f3b78" stroke-width="0.95" stroke-linejoin="round"/>
<path d="M563.88,96.93 L561.33,95.46" fill="none" stroke="#3f3b78" stroke-width="0.95" stroke-linejoin="round"/>
<path d="M572.67,88.57 L576.91,91.02 L576.91,95.92 L572.67,98.38 L568.42,95.92 L568.42,91.02 Z" fill="none" stroke="#3f3b78" stroke-width="0.95" stroke-linejoin="round"/>
<path d="M572.96,90.02 L575.51,91.49" fill="none" stroke="#3f3b78" stroke-width="0.95" stroke-linejoin="round"/>
<path d="M572.37,96.93 L569.82,95.46" fill="none" stroke="#3f3b78" stroke-width="0.95" stroke-linejoin="round"/>
<text x="545" y="27" font-size="3.3" fill="#333" text-anchor="start" font-weight="normal" font-family='"Liberation Sans", sans-serif' >a</text>
<text x="558.5" y="23" font-size="3.3" fill="#333" text-anchor="start" font-weight="normal" font-family='"Liberation Sans", sans-serif' >b</text>
<text x="562" y="43" font-size="3.3" fill="#333" text-anchor="start" font-weight="normal" font-family='"Liberation Sans", sans-serif' >c</text>
<text x="566.5" y="43.5" font-size="3.3" fill="#333" text-anchor="start" font-weight="normal" font-family='"Liberation Sans", sans-serif' >d</text>
<text x="582" y="44.5" font-size="3.3" fill="#333" text-anchor="start" font-weight="normal" font-family='"Liberation Sans", sans-serif' >e</text>
<text x="568.5" y="59" font-size="3.3" fill="#333" text-anchor="start" font-weight="normal" font-family='"Liberation Sans", sans-serif' >i</text>
<text x="577" y="72" font-size="3.3" fill="#333" text-anchor="start" font-weight="normal" font-family='"Liberation Sans", sans-serif' >g</text>
<text x="555" y="81" font-size="3.3" fill="#333" text-anchor="start" font-weight="normal" font-family='"Liberation Sans", sans-serif' >f</text>
<text x="578" y="95" font-size="3.3" fill="#333" text-anchor="start" font-weight="normal" font-family='"Liberation Sans", sans-serif' >h</text>
<path d="M19.9,287.9 L20.3,288.54 L20.7,289.2 L21.1,289.19 L21.3,289.8 L21.5,288.94 L21.9,287.21 L22.3,285.13 L22.6,283.6 L22.7,280.66 L23.1,271.14 L23.5,260.48 L23.9,249.39 L23.9,249.6 L24.3,238.76 L24.7,226.99 L24.7,227.6 L25.1,222.44 L25.2,221.4 L25.5,224.91 L25.7,227.6 L25.9,239.63 L26.2,257.6 L26.3,263.45 L26.7,289.51 L26.7,289.6 L27.1,301.4 L27.2,304.9 L27.5,305.36 L27.9,305.5 L28.3,305.28 L28.5,305.6 L28.7,304.7 L29.1,303.8 L29.5,302.85 L29.8,301.6 L29.9,301.45 L30.3,299.76 L30.7,298.62 L30.8,297.7 L31.1,298.45 L31.5,301.13 L31.9,303.42 L32.1,304.2 L32.3,304.1 L32.7,303.05 L33.1,302.53 L33.4,302.6 L33.5,302.79 L33.9,302.34 L34.3,301.45 L34.7,301.36 L35,301 L35.1,301.33 L35.5,302.23 L35.9,303.91 L36.3,304.97 L36.7,306.51 L37,307.5 L37.1,307.25 L37.5,307.74 L37.9,307.74 L38.3,308.02 L38.7,308.02 L39.1,308.54 L39.5,308.2 L39.9,308.91 L40.3,309.27 L40.3,308.8 L40.7,307.95 L41.1,306.59 L41.5,304.58 L41.9,302.49 L42,302.6 L42.3,300.54 L42.7,298.55 L42.9,296.6 L43.1,294.64 L43.5,289.85 L43.8,286.6 L43.9,286.38 L44.3,284.46 L44.7,283.38 L44.8,283.1 L45.1,285.36 L45.5,288.53 L45.8,290.6 L45.9,292.3 L46.3,298.19 L46.7,303.43 L46.8,305.5 L47.1,306.61 L47.5,308.91 L47.9,310.6 L48.1,311.4 L48.3,311.53 L48.7,311.82 L49.1,312.06 L49.5,311.67 L49.9,311.44 L50.3,312.37 L50.7,312.19 L51.1,312.42 L51.5,312.47 L51.9,312.28 L52,312.7 L52.3,313.11 L52.7,313.25 L53.1,313.3 L53.5,313.14 L53.9,313.26 L54.3,313.12 L54.7,313.39 L55.1,313.32 L55.5,313.37 L55.9,313.73 L56.3,314.35 L56.7,313.19 L57.1,314.16 L57.3,314 L57.5,313.57 L57.9,314.08 L58.3,313.99 L58.7,313.78 L59.1,313.75 L59.5,313.41 L59.9,314.49 L60.3,314.69 L60.7,314.41 L61.1,313.74 L61.5,313.92 L61.9,313.94 L62,313.8 L62.3,313.51 L62.7,313.52 L63.1,312.92 L63.5,312.18 L63.8,312.6 L63.9,312.76 L64.3,312.85 L64.7,313.15 L65.1,314.02 L65.5,313.87 L65.9,313.88 L66,314.2 L66.3,314.96 L66.7,313.82 L67.1,314.85 L67.5,314.74 L67.9,314.19 L68.3,314.13 L68.7,314.76 L69.1,314.35 L69.5,314.09 L69.9,314.92 L70.3,314.36 L70.7,314.42 L71.1,314.33 L71.5,314.22 L71.9,314.37 L72.3,314.21 L72.7,314.53 L73.1,314.73 L73.5,314.75 L73.9,314.79 L74.3,314.91 L74.7,314.66 L75,314.4 L75.1,314.74 L75.5,313.82 L75.9,314.14 L76.3,314.49 L76.7,313.8 L77.1,314.9 L77.5,314.02 L77.9,313.85 L78.3,314.11 L78.7,314.1 L79.1,314.36 L79.5,314.31 L79.9,314.72 L80.3,314.3 L80.7,314.42 L81.1,314 L81.5,314.52 L81.9,314.07 L82.3,313.66 L82.7,314.79 L83.1,313.97 L83.5,313.95 L83.9,314.02 L84.3,314.55 L84.7,313.79 L85.1,314.18 L85.5,314.52 L85.9,314.98 L86.3,314.21 L86.7,314.33 L87.1,314 L87.5,314.99 L87.9,314.25 L88.3,314.27 L88.7,314.34 L89.1,313.97 L89.5,314.28 L89.9,313.84 L90.3,314.8 L90.7,314.22 L91.1,314.21 L91.5,314.68 L91.9,313.84 L92.3,314.75 L92.7,314.79 L93.1,313.99 L93.5,314.49 L93.9,314.21 L94.3,314.55 L94.7,314.26 L95.1,313.92 L95.5,314.46 L95.9,314.16 L96.3,314.29 L96.7,314.57 L97.1,314.65 L97.5,314.44 L97.9,313.72 L98.3,314.46 L98.7,314.11 L99.1,314.58 L99.5,314.14 L99.9,314.7 L100,314.2 L100.3,313.96 L100.7,313.74 L101.1,312.7 L101.5,313.2 L101.9,312.72 L102.3,311.98 L102.5,312.2 L102.7,312.46 L103.1,312.78 L103.5,312.92 L103.9,313.54 L104.3,313.85 L104.7,313.9 L105,314.1 L105.1,313.94 L105.5,313.9 L105.9,314.32 L106.3,313.92 L106.7,313.63 L107.1,314.21 L107.5,314.52 L107.9,314.04 L108.3,314.44 L108.7,314.31 L109.1,313.79 L109.5,314.26 L109.9,314.12 L110.3,314.4 L110.7,313.19 L111.1,314.46 L111.5,314.43 L111.9,313.86 L112.3,314.56 L112.7,314.14 L113.1,314.26 L113.5,314.5 L113.9,314.67 L114.3,314.27 L114.7,314.45 L115.1,314.37 L115.5,313.97 L115.9,314.8 L116.3,314.5 L116.7,314.29 L117.1,314.62 L117.5,314.44 L117.9,314.06 L118.3,314.61 L118.7,314.28 L119.1,314.48 L119.5,314.61 L119.9,314.61 L120.3,314.94 L120.7,314.36 L121.1,314.23 L121.5,314.04 L121.9,314.08 L122.3,314.54 L122.7,314.46 L123.1,314.01 L123.5,314.11 L123.9,314.17 L124.3,314.88 L124.7,314.01 L125.1,314.47 L125.5,313.78 L125.9,314.27 L126.3,314.84 L126.7,313.92 L127.1,314.77 L127.5,313.71 L127.9,314.4 L128.3,313.99 L128.7,314.38 L129.1,314.3 L129.5,314.68 L129.9,314.49 L130.3,314.46 L130.7,314.22 L131.1,314.57 L131.5,314.14 L131.9,314.2 L132.3,314.21 L132.7,314.63 L133.1,315.23 L133.5,314.42 L133.9,315.12 L134.3,314.09 L134.7,314.24 L135.1,314.64 L135.5,314.68 L135.9,314.73 L136.3,315.02 L136.7,314.41 L137.1,314.86 L137.5,314.57 L137.9,313.5 L138.3,314.15 L138.7,314.32 L139.1,314.54 L139.5,314.7 L139.9,314.42 L140,314.5 L140.3,314.16 L140.7,314.47 L141.1,314.77 L141.5,314.03 L141.9,314.84 L142.3,314.71 L142.7,314.3 L143.1,314.33 L143.5,314.28 L143.9,314.29 L144.3,314.69 L144.7,314.41 L145.1,313.73 L145.5,313.65 L145.9,314.37 L146.3,313.22 L146.7,313.56 L147.1,313.87 L147.5,314.06 L147.9,314.51 L148.3,314.08 L148.7,315.22 L149.1,314.04 L149.5,314.24 L149.9,314.27 L150,313.9 L150.3,314.2 L150.7,314.01 L151.1,313.82 L151.5,313.45 L151.9,313.45 L152.3,313.82 L152.7,313.46 L153.1,313.55 L153.5,313.48 L153.9,313.37 L154.3,313.22 L154.7,313.35 L155.1,313.37 L155.5,313.5 L155.9,313.13 L156.3,312.69 L156.7,312.59 L157.1,312.98 L157.5,312.16 L157.9,312.45 L158,312.6 L158.3,312.44 L158.7,312.25 L159.1,312.83 L159.5,311.4 L159.9,312.22 L160.3,312.01 L160.7,311.93 L161.1,312.34 L161.5,312.47 L161.9,312.26 L162.2,311.8 L162.3,311.95 L162.7,311.87 L163.1,312.08 L163.5,311.62 L163.9,312.13 L164.3,312.63 L164.7,312.5 L165.1,312.95 L165.5,312.23 L165.9,312.69 L166.3,312.66 L166.7,313.49 L167,313.2 L167.1,313.12 L167.5,312.85 L167.9,313.15 L168.3,313.02 L168.7,313.23 L169.1,314.23 L169.5,313.12 L169.9,313.48 L170.3,313.31 L170.7,314.13 L171.1,313.38 L171.5,313.47 L171.9,313.95 L172.3,314.45 L172.7,314 L173.1,313.77 L173.5,313.13 L173.9,312.81 L174.3,314.09 L174.7,314.18 L175,314.2 L175.1,314.38 L175.5,314.14 L175.9,314.7 L176.3,314.87 L176.7,314.06 L177.1,314.63 L177.5,314.74 L177.9,314.08 L178.3,314.56 L178.7,314.37 L179.1,314.81 L179.5,314.8 L179.9,313.69 L180.3,314.37 L180.7,314.95 L181.1,314.67 L181.5,314.15 L181.9,314.36 L182.3,314.17 L182.7,314.68 L183.1,314.13 L183.5,315.03 L183.9,314.92 L184.3,315.23 L184.7,315.04 L185.1,315.03 L185.5,315.02 L185.9,314.92 L186.3,314.06 L186.7,314.95 L187.1,314.5 L187.5,313.96 L187.9,315.36 L188.3,314.83 L188.7,314.28 L189.1,314.98 L189.5,315.04 L189.9,314.97 L190,314.9 L190.3,314.54 L190.7,315.26 L191.1,314.62 L191.5,315.14 L191.9,315.22 L192.3,314.84 L192.7,315.91 L193.1,314.41 L193.5,314.54 L193.9,314.91 L194.3,314.78 L194.7,315.51 L195.1,314.92 L195.5,315.61 L195.9,315 L196.3,315.46 L196.7,315.47 L197.1,315.25 L197.5,315.48 L197.9,315.37 L198.3,316 L198.7,316.11 L199.1,315.17 L199.5,315.48 L199.9,315.73 L200.3,315.55 L200.7,316.05 L201.1,316.3 L201.5,314.7 L201.9,315.22 L202.3,315.9 L202.7,315.63 L203.1,315.22 L203.5,315.4 L203.9,315.55 L204.3,316.1 L204.7,315.2 L205.1,315.63 L205.5,316.09 L205.9,315.95 L206.3,315.55 L206.7,315.52 L207.1,315.01 L207.5,315.05 L207.9,315.36 L208.3,315.98 L208.7,315.99 L209,315.7" fill="none" stroke="#3f3f8a" stroke-width="1.2" stroke-linejoin="round" />
<path d="M19.9,288.3 L20.3,289.03 L20.7,289.38 L21.1,290.09 L21.3,290.2 L21.5,288.79 L21.9,287.76 L22.3,285.55 L22.6,284 L22.7,281.12 L23.1,270.77 L23.5,260.55 L23.9,250.33 L23.9,250 L24.3,238.89 L24.7,228.12 L24.7,228 L25.1,223.09 L25.2,221.8 L25.5,225.22 L25.7,228 L25.9,239.92 L26.2,258 L26.3,264.25 L26.7,289.86 L26.7,290 L27.1,302.4 L27.2,305.3 L27.5,305.6 L27.9,305.54 L28.3,306.59 L28.5,306 L28.7,305.62 L29.1,304.02 L29.5,302.86 L29.8,302 L29.9,301.18 L30.3,299.86 L30.7,298.59 L30.8,298.1 L31.1,299.71 L31.5,301.34 L31.9,303.3 L32.1,304.6 L32.3,304.15 L32.7,303.78 L33.1,303.86 L33.4,303 L33.5,302.81 L33.9,302.3 L34.3,302.43 L34.7,302.03 L35,301.4 L35.1,301.37 L35.5,302.99 L35.9,304.67 L36.3,305.74 L36.7,306.62 L37,307.9 L37.1,308.13 L37.5,308.09 L37.9,308.3 L38.3,308.41 L38.7,308.44 L39.1,308.56 L39.5,308.54 L39.9,308.74 L40.3,308.77 L40.3,309.2 L40.7,307.86 L41.1,306.29 L41.5,304.93 L41.9,303.38 L42,303 L42.3,301.04 L42.7,298.25 L42.9,297 L43.1,294.25 L43.5,290.19 L43.8,287 L43.9,286.55 L44.3,285.03 L44.7,283.43 L44.8,283.5 L45.1,286.09 L45.5,288.58 L45.8,291 L45.9,292.36 L46.3,298.7 L46.7,304.27 L46.8,305.9 L47.1,307.41 L47.5,309.22 L47.9,310.65 L48.1,311.8 L48.3,311.64 L48.7,311.96 L49.1,312.05 L49.5,312.2 L49.9,312.55 L50.3,312.27 L50.7,312.46 L51.1,312.65 L51.5,312.87 L51.9,312.86 L52,313.1 L52.3,312.9 L52.7,313.71 L53.1,313.38 L53.5,313.76 L53.9,313.3 L54.3,313.59 L54.7,313.8 L55.1,314.31 L55.5,313.99 L55.9,314.43 L56.3,313.98 L56.7,314.64 L57.1,314.19 L57.3,314.4 L57.5,313.91 L57.9,314.43 L58.3,314.31 L58.7,314.41 L59.1,314.31 L59.5,314.44 L59.9,314.7 L60.3,314.23 L60.7,314.33 L61.1,314.15 L61.5,313.8 L61.9,314.14 L62,314.2 L62.3,313.81 L62.7,314.32 L63.1,313.62 L63.5,313.33 L63.8,313 L63.9,313.09 L64.3,313.39 L64.7,314 L65.1,313.78 L65.5,314.22 L65.9,314.25 L66,314.6 L66.3,315.39 L66.7,314.93 L67.1,314.41 L67.5,314.21 L67.9,314.8 L68.3,314.85 L68.7,314.53 L69.1,315.02 L69.5,314.8 L69.9,314.89 L70.3,314.91 L70.7,315 L71.1,314.63 L71.5,314.57 L71.9,315.1 L72.3,314.73 L72.7,314.47 L73.1,314.87 L73.5,314.67 L73.9,314.88 L74.3,315.6 L74.7,315.27 L75,314.8 L75.1,314.52 L75.5,314.82 L75.9,314.58 L76.3,314.88 L76.7,314.89 L77.1,314.98 L77.5,314.81 L77.9,314.46 L78.3,314.77 L78.7,314.82 L79.1,314.85 L79.5,315.09 L79.9,314.53 L80.3,314.75 L80.7,314.63 L81.1,314.57 L81.5,314.93 L81.9,314.61 L82.3,315.25 L82.7,314.13 L83.1,315.13 L83.5,314.69 L83.9,314.44 L84.3,314.79 L84.7,314.77 L85.1,314.98 L85.5,315.05 L85.9,314.54 L86.3,314.73 L86.7,314.81 L87.1,314.77 L87.5,314.63 L87.9,315.05 L88.3,314.78 L88.7,314.37 L89.1,314.77 L89.5,314.64 L89.9,314.62 L90.3,314.9 L90.7,314.85 L91.1,314.76 L91.5,314.79 L91.9,314.9 L92.3,314.52 L92.7,314.7 L93.1,314.99 L93.5,314.52 L93.9,314.55 L94.3,314.5 L94.7,314.92 L95.1,314.53 L95.5,314.91 L95.9,314.54 L96.3,314.69 L96.7,314.71 L97.1,314.5 L97.5,314.38 L97.9,314.86 L98.3,314.52 L98.7,314.75 L99.1,314.78 L99.5,314.25 L99.9,314.91 L100,314.6 L100.3,314.29 L100.7,313.95 L101.1,313.6 L101.5,313.47 L101.9,313.61 L102.3,312.74 L102.5,312.6 L102.7,312.69 L103.1,313.59 L103.5,313.39 L103.9,314.16 L104.3,313.79 L104.7,314.09 L105,314.5 L105.1,314.27 L105.5,314.5 L105.9,314.55 L106.3,314.08 L106.7,314.26 L107.1,314.33 L107.5,314.43 L107.9,314.87 L108.3,314.91 L108.7,314.64 L109.1,314.73 L109.5,314.33 L109.9,314.62 L110.3,314.1 L110.7,314.53 L111.1,314.62 L111.5,314.76 L111.9,314.52 L112.3,314.53 L112.7,314.31 L113.1,314 L113.5,314.4 L113.9,314.08 L114.3,314.47 L114.7,314.49 L115.1,314.23 L115.5,314.12 L115.9,314.54 L116.3,314.44 L116.7,314.7 L117.1,314.82 L117.5,315.01 L117.9,314.85 L118.3,314.38 L118.7,314.6 L119.1,315.15 L119.5,314.41 L119.9,314.54 L120.3,314.97 L120.7,314.79 L121.1,314.5 L121.5,314.74 L121.9,314.51 L122.3,314.89 L122.7,314.64 L123.1,314.69 L123.5,314.73 L123.9,314.19 L124.3,314.65 L124.7,314.8 L125.1,314.72 L125.5,314.58 L125.9,314.7 L126.3,315.09 L126.7,314.9 L127.1,314.58 L127.5,315.01 L127.9,314.82 L128.3,314.63 L128.7,314.31 L129.1,314.9 L129.5,314.48 L129.9,314.86 L130.3,315.05 L130.7,314.95 L131.1,314.48 L131.5,314.56 L131.9,314.96 L132.3,315.07 L132.7,314.81 L133.1,314.78 L133.5,315.28 L133.9,315.24 L134.3,314.9 L134.7,314.75 L135.1,315.01 L135.5,314.54 L135.9,314.91 L136.3,314.92 L136.7,315.17 L137.1,315.01 L137.5,314.42 L137.9,315.35 L138.3,315.03 L138.7,314.39 L139.1,314.51 L139.5,315.07 L139.9,314.57 L140,314.9 L140.3,314.62 L140.7,314.46 L141.1,315.24 L141.5,315.25 L141.9,314.72 L142.3,315.18 L142.7,314.84 L143.1,314.85 L143.5,314.65 L143.9,314.85 L144.3,315.03 L144.7,315.01 L145.1,315.14 L145.5,315.06 L145.9,314.75 L146.3,314.43 L146.7,314.75 L147.1,314.68 L147.5,314.39 L147.9,314.18 L148.3,314.24 L148.7,314.04 L149.1,314.18 L149.5,314.42 L149.9,314.67 L150,314.3 L150.3,314.16 L150.7,314.12 L151.1,314.13 L151.5,314.41 L151.9,314.07 L152.3,313.52 L152.7,313.9 L153.1,313.4 L153.5,313.59 L153.9,313.72 L154.3,313.41 L154.7,313.53 L155.1,313.8 L155.5,313.23 L155.9,313.63 L156.3,313.52 L156.7,313.41 L157.1,312.96 L157.5,313.38 L157.9,313.14 L158,313 L158.3,312.98 L158.7,313.21 L159.1,312.48 L159.5,312.84 L159.9,312.87 L160.3,313.28 L160.7,312.13 L161.1,312.14 L161.5,312.31 L161.9,312.35 L162.2,312.2 L162.3,312.43 L162.7,312.31 L163.1,312.51 L163.5,312.26 L163.9,312.81 L164.3,312.85 L164.7,313.31 L165.1,313.25 L165.5,313.54 L165.9,313.37 L166.3,313.22 L166.7,313.7 L167,313.6 L167.1,313.27 L167.5,313.51 L167.9,313.92 L168.3,314.03 L168.7,313.38 L169.1,313.78 L169.5,314.2 L169.9,313.85 L170.3,313.6 L170.7,314.07 L171.1,314.44 L171.5,314 L171.9,314.06 L172.3,314.77 L172.7,314.49 L173.1,314.08 L173.5,314.62 L173.9,314.77 L174.3,314.44 L174.7,314.62 L175,314.6 L175.1,314.7 L175.5,315.02 L175.9,314.99 L176.3,314.92 L176.7,315.09 L177.1,314.65 L177.5,314.54 L177.9,314.42 L178.3,314.64 L178.7,314.52 L179.1,314.76 L179.5,315.08 L179.9,315.24 L180.3,315.06 L180.7,315.06 L181.1,315 L181.5,315.08 L181.9,314.84 L182.3,314.83 L182.7,314.7 L183.1,314.94 L183.5,315.12 L183.9,315.02 L184.3,315.12 L184.7,315.57 L185.1,315.22 L185.5,315.28 L185.9,315.16 L186.3,315.3 L186.7,314.93 L187.1,315.34 L187.5,315.39 L187.9,315.46 L188.3,314.88 L188.7,315.21 L189.1,315.61 L189.5,315.48 L189.9,314.97 L190,315.3 L190.3,315.04 L190.7,315.44 L191.1,315.57 L191.5,315.31 L191.9,314.97 L192.3,315.44 L192.7,314.92 L193.1,315.67 L193.5,315.2 L193.9,315.2 L194.3,315.19 L194.7,315.47 L195.1,315.52 L195.5,315.62 L195.9,315.5 L196.3,315.52 L196.7,315.82 L197.1,315.93 L197.5,315.67 L197.9,315.77 L198.3,315.85 L198.7,315.62 L199.1,315.54 L199.5,315.37 L199.9,315.6 L200.3,316.14 L200.7,315.59 L201.1,315.46 L201.5,315.74 L201.9,315.87 L202.3,315.92 L202.7,315.62 L203.1,315.97 L203.5,315.76 L203.9,315.8 L204.3,315.86 L204.7,315.7 L205.1,315.81 L205.5,316.13 L205.9,315.72 L206.3,315.91 L206.7,316.14 L207.1,316.09 L207.5,316.11 L207.9,315.78 L208.3,315.76 L208.7,316.04 L209,316.1" fill="none" stroke="#ee4a57" stroke-width="1.4" stroke-linejoin="round" />
<path d="M19.9,323.2 L24.06,323.2 L24.9,313.3 L25.6,290.2 L26.3,313.3 L27.14,323.2 L29.26,323.2 L30.1,317.62 L30.8,304.6 L31.5,317.62 L32.34,323.2 L34.16,323.2 L35,319.99 L35.7,312.5 L36.4,319.99 L37.24,323.2 L43.26,323.2 L44.1,317.62 L44.8,304.6 L45.5,317.62 L46.34,323.2 L50.36,323.2 L51.8,322.96 L53,322.4 L54.2,322.96 L55.64,323.2 L60.66,323.2 L62.1,322.78 L63.3,321.8 L64.5,322.78 L65.94,323.2 L69.36,323.2 L70.8,322.96 L72,322.4 L73.2,322.96 L74.64,323.2 L98.36,323.2 L99.8,322.9 L101,322.2 L102.2,322.9 L103.64,323.2 L127.36,323.2 L128.8,322.99 L130,322.5 L131.2,322.99 L132.64,323.2 L159.36,323.2 L160.8,322.81 L162,321.9 L163.2,322.81 L164.64,323.2 L167.36,323.2 L168.8,322.96 L170,322.4 L171.2,322.96 L172.64,323.2 L209.5,323.2" fill="none" stroke="#000" stroke-width="1.3" stroke-linejoin="round" />
<path d="M20.39,330.2 V333.9 M25.44,330.2 V333.9 M32.25,330.2 V333.9 M34.61,330.2 V333.9 M35.89,330.2 V333.9 M37.51,330.2 V333.9 M44.85,330.2 V333.9 M45.33,330.2 V333.9 M47.89,330.2 V333.9 M48.9,330.2 V333.9 M50.85,330.2 V333.9 M54.63,330.2 V333.9 M56.31,330.2 V333.9 M58.47,330.2 V333.9 M60.36,330.2 V333.9 M63.19,330.2 V333.9 M64.2,330.2 V333.9 M64.67,330.2 V333.9 M65.75,330.2 V333.9 M68.92,330.2 V333.9 M71.55,330.2 V333.9 M73.1,330.2 V333.9 M73.77,330.2 V333.9 M75.45,330.2 V333.9 M77.54,330.2 V333.9 M78.76,330.2 V333.9 M82.19,330.2 V333.9 M83.61,330.2 V333.9 M84.35,330.2 V333.9 M84.69,330.2 V333.9 M85.97,330.2 V333.9 M87.65,330.2 V333.9 M89.74,330.2 V333.9 M91.9,330.2 V333.9 M92.91,330.2 V333.9 M93.05,330.2 V333.9 M94.73,330.2 V333.9 M95.67,330.2 V333.9 M95.81,330.2 V333.9 M97.83,330.2 V333.9 M98.98,330.2 V333.9 M100.53,330.2 V333.9 M102.21,330.2 V333.9 M103.09,330.2 V333.9 M103.36,330.2 V333.9 M106.26,330.2 V333.9 M106.73,330.2 V333.9 M107.13,330.2 V333.9 M107.4,330.2 V333.9 M109.63,330.2 V333.9 M111.04,330.2 V333.9 M111.99,330.2 V333.9 M112.46,330.2 V333.9 M113.74,330.2 V333.9 M114.14,330.2 V333.9 M114.34,330.2 V333.9 M114.88,330.2 V333.9 M119.26,330.2 V333.9 M119.53,330.2 V333.9 M120.68,330.2 V333.9 M121.42,330.2 V333.9 M122.57,330.2 V333.9 M122.63,330.2 V333.9 M123.65,330.2 V333.9 M124.25,330.2 V333.9 M125.13,330.2 V333.9 M125.73,330.2 V333.9 M125.94,330.2 V333.9 M127.29,330.2 V333.9 M127.69,330.2 V333.9 M131.87,330.2 V333.9 M132,330.2 V333.9 M132.21,330.2 V333.9 M133.28,330.2 V333.9 M133.69,330.2 V333.9 M135.1,330.2 V333.9 M135.78,330.2 V333.9 M137.46,330.2 V333.9 M137.53,330.2 V333.9 M137.8,330.2 V333.9 M138.27,330.2 V333.9 M140.63,330.2 V333.9 M141.03,330.2 V333.9 M141.98,330.2 V333.9 M142.25,330.2 V333.9 M144.4,330.2 V333.9 M144.47,330.2 V333.9 M145.35,330.2 V333.9 M145.48,330.2 V333.9 M149.59,330.2 V333.9 M150.2,330.2 V333.9 M150.81,330.2 V333.9 M151.01,330.2 V333.9 M151.48,330.2 V333.9 M151.55,330.2 V333.9 M152.02,330.2 V333.9 M152.49,330.2 V333.9 M153.3,330.2 V333.9 M153.64,330.2 V333.9 M154.99,330.2 V333.9 M156,330.2 V333.9 M157.14,330.2 V333.9 M157.55,330.2 V333.9 M159.03,330.2 V333.9 M159.64,330.2 V333.9 M160.24,330.2 V333.9 M160.31,330.2 V333.9 M160.92,330.2 V333.9 M161.52,330.2 V333.9 M161.86,330.2 V333.9 M161.93,330.2 V333.9 M162,330.2 V333.9 M162.33,330.2 V333.9 M162.6,330.2 V333.9 M162.94,330.2 V333.9 M163.48,330.2 V333.9 M164.09,330.2 V333.9 M164.15,330.2 V333.9 M164.62,330.2 V333.9 M164.69,330.2 V333.9 M164.76,330.2 V333.9 M164.89,330.2 V333.9 M165.37,330.2 V333.9 M165.7,330.2 V333.9 M166.24,330.2 V333.9 M166.38,330.2 V333.9 M166.71,330.2 V333.9 M167.32,330.2 V333.9 M167.86,330.2 V333.9 M168.53,330.2 V333.9 M169.07,330.2 V333.9 M169.21,330.2 V333.9 M169.95,330.2 V333.9 M170.15,330.2 V333.9 M170.22,330.2 V333.9 M170.56,330.2 V333.9 M170.76,330.2 V333.9 M171.1,330.2 V333.9 M171.3,330.2 V333.9 M171.9,330.2 V333.9 M172.31,330.2 V333.9 M172.85,330.2 V333.9 M172.98,330.2 V333.9 M173.39,330.2 V333.9 M173.99,330.2 V333.9 M174.26,330.2 V333.9 M174.4,330.2 V333.9 M174.8,330.2 V333.9 M175,330.2 V333.9 M175.88,330.2 V333.9 M176.42,330.2 V333.9 M177.03,330.2 V333.9 M177.5,330.2 V333.9 M177.9,330.2 V333.9 M178.1,330.2 V333.9 M178.58,330.2 V333.9 M178.71,330.2 V333.9 M178.91,330.2 V333.9 M179.12,330.2 V333.9 M179.25,330.2 V333.9 M179.72,330.2 V333.9 M179.92,330.2 V333.9 M180.46,330.2 V333.9 M180.8,330.2 V333.9 M181.14,330.2 V333.9 M181.47,330.2 V333.9 M181.81,330.2 V333.9 M182.55,330.2 V333.9 M182.76,330.2 V333.9 M182.96,330.2 V333.9 M183.02,330.2 V333.9 M183.09,330.2 V333.9 M183.16,330.2 V333.9 M183.29,330.2 V333.9 M184.04,330.2 V333.9 M184.51,330.2 V333.9 M184.58,330.2 V333.9 M185.59,330.2 V333.9 M186.19,330.2 V333.9 M186.46,330.2 V333.9 M186.73,330.2 V333.9 M187,330.2 V333.9 M187.07,330.2 V333.9 M187.95,330.2 V333.9 M188.42,330.2 V333.9 M188.55,330.2 V333.9 M189.5,330.2 V333.9 M190.17,330.2 V333.9 M190.44,330.2 V333.9 M190.64,330.2 V333.9 M190.84,330.2 V333.9 M190.91,330.2 V333.9 M191.11,330.2 V333.9 M191.52,330.2 V333.9 M192.12,330.2 V333.9 M192.26,330.2 V333.9 M192.87,330.2 V333.9 M193.2,330.2 V333.9 M193.4,330.2 V333.9 M193.47,330.2 V333.9 M193.74,330.2 V333.9 M193.88,330.2 V333.9 M193.94,330.2 V333.9 M194.48,330.2 V333.9 M194.69,330.2 V333.9 M194.82,330.2 V333.9 M195.16,330.2 V333.9 M195.29,330.2 V333.9 M196.03,330.2 V333.9 M196.37,330.2 V333.9 M196.64,330.2 V333.9 M197.65,330.2 V333.9 M197.72,330.2 V333.9 M197.92,330.2 V333.9 M198.39,330.2 V333.9 M198.59,330.2 V333.9 M199.07,330.2 V333.9 M199.81,330.2 V333.9 M199.88,330.2 V333.9 M200.48,330.2 V333.9 M200.82,330.2 V333.9 M200.89,330.2 V333.9 M200.95,330.2 V333.9 M201.36,330.2 V333.9 M201.69,330.2 V333.9 M201.76,330.2 V333.9 M201.9,330.2 V333.9 M202.23,330.2 V333.9 M202.37,330.2 V333.9 M202.71,330.2 V333.9 M202.98,330.2 V333.9 M204.39,330.2 V333.9 M204.46,330.2 V333.9 M204.73,330.2 V333.9 M204.93,330.2 V333.9 M205.47,330.2 V333.9 M205.67,330.2 V333.9 M205.74,330.2 V333.9 M205.87,330.2 V333.9 M206.55,330.2 V333.9 M206.62,330.2 V333.9 M206.82,330.2 V333.9 M207.76,330.2 V333.9 M208.17,330.2 V333.9 M208.23,330.2 V333.9" stroke="#2f7f3c" stroke-width="0.9" fill="none"/>
<path d="M19.9,343.3 L20.3,340.96 L20.5,340 L20.7,341.51 L21.1,344.11 L21.3,346 L21.5,344.55 L21.9,341.87 L22,341 L22.3,342.57 L22.7,344.23 L22.8,345 L23.1,343 L23.5,339.39 L23.6,339 L23.9,342.52 L24.3,346.71 L24.3,347 L24.7,342 L25,338 L25.1,339.55 L25.5,346.47 L25.6,348 L25.9,344.78 L26.3,341.24 L26.3,341 L26.7,342.42 L27.1,344.56 L27.2,345 L27.5,343.5 L27.9,342.58 L28,342 L28.3,342.56 L28.7,343.55 L29,344 L29.1,344.3 L29.5,344.01 L29.9,343.03 L30.2,343 L30.3,342.38 L30.7,339.59 L31,337.8 L31.1,338.44 L31.5,342.44 L31.8,345 L31.9,344.61 L32.3,343.24 L32.6,342 L32.7,341.88 L33.1,342.85 L33.5,343.39 L33.6,343.3 L33.9,343.3 L34.3,342.21 L34.7,341.75 L35,341.5 L35.1,341.58 L35.5,343.1 L35.9,343.8 L36,344 L36.3,343.36 L36.7,342.89 L37.1,342.96 L37.2,342.5 L37.5,342.85 L37.9,342.5 L38.3,342.88 L38.7,343.22 L39.1,343.03 L39.5,342.87 L39.9,343.15 L40,343.3 L40.3,343.3 L40.7,343.36 L41.1,343.14 L41.5,343.12 L41.9,342.94 L42.3,342.66 L42.7,342.99 L43,342.8 L43.1,342.05 L43.5,341.53 L43.9,340.76 L44.3,339.98 L44.3,339.5 L44.7,343.81 L45,347 L45.1,346.44 L45.5,343.08 L45.8,341 L45.9,341.09 L46.3,341.95 L46.7,342.59 L47,343.3 L47.1,343.2 L47.5,343.38 L47.9,343.28 L48.3,343.53 L48.7,343.72 L49.1,343.28 L49.5,343.12 L49.9,343.24 L50.3,343.17 L50.7,342.89 L51.1,343.31 L51.5,343.18 L51.9,343.53 L52.3,343.27 L52.7,343.53 L53.1,343.49 L53.5,343.18 L53.9,343.22 L54.3,343.17 L54.7,343.19 L55.1,343.51 L55.5,343.17 L55.9,343.2 L56.3,343.1 L56.7,343.65 L57.1,343.21 L57.5,343.26 L57.9,343.08 L58.3,343.36 L58.7,343.1 L59.1,343.13 L59.5,342.79 L59.9,342.89 L60.3,343.34 L60.7,343.48 L61.1,342.88 L61.5,343.34 L61.9,343.34 L62.3,344.06 L62.7,343.05 L63.1,343.13 L63.5,343.03 L63.9,343.5 L64.3,343.56 L64.7,343.23 L65.1,343.67 L65.5,343.82 L65.9,343.18 L66.3,343.43 L66.7,343.25 L67.1,343.14 L67.5,343.18 L67.9,343.24 L68.3,342.97 L68.7,343.27 L69.1,343.5 L69.5,343.06 L69.9,343.17 L70.3,343.07 L70.7,343.39 L71.1,343.27 L71.5,343.53 L71.9,343.22 L72.3,342.93 L72.7,343.44 L73.1,343.22 L73.5,343.58 L73.9,343.48 L74.3,342.64 L74.7,342.8 L75.1,343.31 L75.5,343.11 L75.9,342.74 L76.3,343.16 L76.7,343.62 L77.1,343.46 L77.5,343.08 L77.9,343.37 L78.3,343.55 L78.7,343.25 L79.1,343.74 L79.5,343.12 L79.9,343.82 L80.3,343.68 L80.7,343.43 L81.1,343.35 L81.5,343.31 L81.9,343.06 L82.3,343.54 L82.7,343.62 L83.1,343.49 L83.5,343.37 L83.9,343.33 L84.3,343.07 L84.7,343.13 L85.1,342.94 L85.5,343.42 L85.9,343.07 L86.3,343.51 L86.7,343.13 L87.1,343.65 L87.5,343.69 L87.9,343.68 L88.3,343.58 L88.7,343.22 L89.1,343.22 L89.5,343.11 L89.9,343.38 L90.3,343.72 L90.7,343.03 L91.1,343.9 L91.5,343.16 L91.9,343.01 L92.3,343.38 L92.7,343.57 L93.1,343.21 L93.5,343.04 L93.9,343.74 L94.3,343.02 L94.7,343.55 L95.1,343.34 L95.5,343.21 L95.9,343.31 L96.3,343.03 L96.7,343.02 L97.1,343.38 L97.5,343.04 L97.9,343.11 L98.3,343.66 L98.7,343.75 L99.1,343.58 L99.5,343.52 L99.9,343.24 L100.3,343.32 L100.7,343.11 L101.1,342.6 L101.5,343.35 L101.9,343.35 L102.3,343.55 L102.7,343 L103.1,343.59 L103.5,343.16 L103.9,342.99 L104.3,343.23 L104.7,343.53 L105.1,343.29 L105.5,343.41 L105.9,343.08 L106.3,343.42 L106.7,343.54 L107.1,343.08 L107.5,343.4 L107.9,342.96 L108.3,343.35 L108.7,342.92 L109.1,343.4 L109.5,343.29 L109.9,343.02 L110.3,343.39 L110.7,343.05 L111.1,343.32 L111.5,343.07 L111.9,343.43 L112.3,343.16 L112.7,343.66 L113.1,343.41 L113.5,343.43 L113.9,342.97 L114.3,342.78 L114.7,343.1 L115.1,343.75 L115.5,343.06 L115.9,343.6 L116.3,343.61 L116.7,343.15 L117.1,343.25 L117.5,343.63 L117.9,343.24 L118.3,343.2 L118.7,343.16 L119.1,343.32 L119.5,343.27 L119.9,343.61 L120.3,343.36 L120.7,343.59 L121.1,343.27 L121.5,343.93 L121.9,343.27 L122.3,343.26 L122.7,343.1 L123.1,342.88 L123.5,343.08 L123.9,343.35 L124.3,343.05 L124.7,343.51 L125.1,342.89 L125.5,342.88 L125.9,343.38 L126.3,343.4 L126.7,343.02 L127.1,343.57 L127.5,343.65 L127.9,343.39 L128.3,342.98 L128.7,343.61 L129.1,343.23 L129.5,343.26 L129.9,343.42 L130.3,343.13 L130.7,343.68 L131.1,343.15 L131.5,343.57 L131.9,343.5 L132.3,343.74 L132.7,343.43 L133.1,343.52 L133.5,343.21 L133.9,343.25 L134.3,343.15 L134.7,343.49 L135.1,343.14 L135.5,343.68 L135.9,343.28 L136.3,343.01 L136.7,343.14 L137.1,343.6 L137.5,343.19 L137.9,343.46 L138.3,342.92 L138.7,343.42 L139.1,343.5 L139.5,343.44 L139.9,343.51 L140.3,343.07 L140.7,342.9 L141.1,342.99 L141.5,343.52 L141.9,343.42 L142.3,343.52 L142.7,343.18 L143.1,343.52 L143.5,342.93 L143.9,343.42 L144.3,343.06 L144.7,343.21 L145.1,343.48 L145.5,343.54 L145.9,343.28 L146.3,343.23 L146.7,343.66 L147.1,343.58 L147.5,343.16 L147.9,343.4 L148.3,343.27 L148.7,343.57 L149.1,343.44 L149.5,343.43 L149.9,343.35 L150.3,343.19 L150.7,343.6 L151.1,343.43 L151.5,342.75 L151.9,343.23 L152.3,343.39 L152.7,343.15 L153.1,343.1 L153.5,343.17 L153.9,343.42 L154.3,343.09 L154.7,343.42 L155.1,343.66 L155.5,343.56 L155.9,343.57 L156.3,343.28 L156.7,343.62 L157.1,343.33 L157.5,343.55 L157.9,343.05 L158.3,343.64 L158.7,343.18 L159.1,343.34 L159.5,343.59 L159.9,343.33 L160.3,343.21 L160.7,343.29 L161.1,343.6 L161.5,343.6 L161.9,343.49 L162.3,343.17 L162.7,343.22 L163.1,343.49 L163.5,343.51 L163.9,343.15 L164.3,343.15 L164.7,343.5 L165.1,343.59 L165.5,343.34 L165.9,343.03 L166.3,343.72 L166.7,343.33 L167.1,343.44 L167.5,342.79 L167.9,343.14 L168.3,343.27 L168.7,343.39 L169.1,343.09 L169.5,342.93 L169.9,342.9 L170.3,343.21 L170.7,343.38 L171.1,343.37 L171.5,342.88 L171.9,343.13 L172.3,343.28 L172.7,343.55 L173.1,343.44 L173.5,343.36 L173.9,342.88 L174.3,343.57 L174.7,343.28 L175.1,343.35 L175.5,343.13 L175.9,343.25 L176.3,343.21 L176.7,343.2 L177.1,343.08 L177.5,343.46 L177.9,343.52 L178.3,343.16 L178.7,343.09 L179.1,343.09 L179.5,343.22 L179.9,343.65 L180.3,343.26 L180.7,343.75 L181.1,342.99 L181.5,343.03 L181.9,343.1 L182.3,343.08 L182.7,343.38 L183.1,343.73 L183.5,343.12 L183.9,343.38 L184.3,343.62 L184.7,343.89 L185.1,343.35 L185.5,343.54 L185.9,343.63 L186.3,343.32 L186.7,343.44 L187.1,343.21 L187.5,343.08 L187.9,343.16 L188.3,343.59 L188.7,343.63 L189.1,343.36 L189.5,343 L189.9,343.61 L190.3,343.3 L190.7,343.67 L191.1,343.33 L191.5,343.02 L191.9,343.24 L192.3,343.14 L192.7,343.7 L193.1,342.75 L193.5,343.16 L193.9,343.23 L194.3,342.8 L194.7,343.41 L195.1,343.46 L195.5,343.52 L195.9,343.51 L196.3,343.28 L196.7,343.54 L197.1,343.2 L197.5,343.31 L197.9,343.36 L198.3,343.32 L198.7,343.43 L199.1,343.15 L199.5,343.28 L199.9,343.16 L200.3,343.32 L200.7,343.38 L201.1,343.12 L201.5,343.66 L201.9,343.79 L202.3,343.45 L202.7,343.33 L203.1,343.15 L203.5,343.27 L203.9,343.26 L204.3,343.48 L204.7,343.31 L205.1,343.48 L205.5,343.45 L205.9,343.19 L206.3,342.98 L206.7,343.02 L207.1,343.05 L207.5,343.3 L207.9,343.6 L208.3,343.08 L208.7,343.47 L209.1,343.27 L209.5,343.62 L209.5,343.3" fill="none" stroke="#7b1c1e" stroke-width="1.2" stroke-linejoin="round" />
<rect x="19.7" y="212.4" width="189.9" height="138.5" fill="none" stroke="#111" stroke-width="1.3"/>
<line x1="39.8" y1="350.9" x2="39.8" y2="353.6" stroke="#111" stroke-width="1.1" />
<text x="39.8" y="364.3" font-size="10.5" fill="#111" text-anchor="middle" font-weight="normal" font-family='"Liberation Sans", sans-serif' >5</text>
<line x1="73.5" y1="350.9" x2="73.5" y2="353.6" stroke="#111" stroke-width="1.1" />
<text x="73.5" y="364.3" font-size="10.5" fill="#111" text-anchor="middle" font-weight="normal" font-family='"Liberation Sans", sans-serif' >10</text>
<line x1="107.2" y1="350.9" x2="107.2" y2="353.6" stroke="#111" stroke-width="1.1" />
<text x="107.2" y="364.3" font-size="10.5" fill="#111" text-anchor="middle" font-weight="normal" font-family='"Liberation Sans", sans-serif' >15</text>
<line x1="140.9" y1="350.9" x2="140.9" y2="353.6" stroke="#111" stroke-width="1.1" />
<text x="140.9" y="364.3" font-size="10.5" fill="#111" text-anchor="middle" font-weight="normal" font-family='"Liberation Sans", sans-serif' >20</text>
<line x1="174.6" y1="350.9" x2="174.6" y2="353.6" stroke="#111" stroke-width="1.1" />
<text x="174.6" y="364.3" font-size="10.5" fill="#111" text-anchor="middle" font-weight="normal" font-family='"Liberation Sans", sans-serif' >25</text>
<line x1="208.3" y1="350.9" x2="208.3" y2="353.6" stroke="#111" stroke-width="1.1" />
<text x="208.3" y="364.3" font-size="10.5" fill="#111" text-anchor="middle" font-weight="normal" font-family='"Liberation Sans", sans-serif' >30</text>
<line x1="22.95" y1="350.9" x2="22.95" y2="352.6" stroke="#111" stroke-width="1.0" />
<line x1="56.65" y1="350.9" x2="56.65" y2="352.6" stroke="#111" stroke-width="1.0" />
<line x1="90.35" y1="350.9" x2="90.35" y2="352.6" stroke="#111" stroke-width="1.0" />
<line x1="124.05" y1="350.9" x2="124.05" y2="352.6" stroke="#111" stroke-width="1.0" />
<line x1="157.75" y1="350.9" x2="157.75" y2="352.6" stroke="#111" stroke-width="1.0" />
<line x1="191.45" y1="350.9" x2="191.45" y2="352.6" stroke="#111" stroke-width="1.0" />
<text x="114.2" y="377.6" font-size="10.5" fill="#111" text-anchor="middle" font-weight="normal" font-family='"Liberation Sans", sans-serif' >2θ (degree)</text>
<text x="14.3" y="282" font-size="10.4" fill="#111" text-anchor="middle" font-weight="normal" font-family='"Liberation Sans", sans-serif' transform="rotate(-90 14.3 282)">Intensity (a.u.)</text>
<text x="0.8" y="226.6" font-size="16.5" fill="#000" text-anchor="start" font-weight="bold" font-family='"Liberation Sans", sans-serif' >d</text>
<text x="20.8" y="221.2" font-size="8.3" fill="#111" text-anchor="start" font-weight="bold" font-family='"Liberation Sans", sans-serif' >(1 1 0)</text>
<text x="26.8" y="258.9" font-size="8.3" fill="#111" text-anchor="start" font-weight="bold" font-family='"Liberation Sans", sans-serif' >(2 1 0)</text>
<text x="31" y="272.5" font-size="8.3" fill="#111" text-anchor="start" font-weight="bold" font-family='"Liberation Sans", sans-serif' >(1 2 0)</text>
<text x="40.4" y="282.9" font-size="8.3" fill="#111" text-anchor="start" font-weight="bold" font-family='"Liberation Sans", sans-serif' >(3 1 0)</text>
<text x="88.5" y="295.3" font-size="10.4" fill="#111" text-anchor="start" font-weight="normal" font-family='"Liberation Sans", sans-serif' >Rwp = 6.9%</text>
<text x="158" y="295.3" font-size="10.4" fill="#111" text-anchor="start" font-weight="normal" font-family='"Liberation Sans", sans-serif' >Rp = 5.2%</text>
<line x1="120.3" y1="224.9" x2="143.2" y2="224.9" stroke="#3f3f8a" stroke-width="1.2" />
<text x="146.4" y="228.5" font-size="10" fill="#111" text-anchor="start" font-weight="normal" font-family='"Liberation Sans", sans-serif' >Exprimental</text>
<line x1="120.3" y1="237.17" x2="143.2" y2="237.17" stroke="#ee4a57" stroke-width="1.2" />
<text x="146.4" y="240.77" font-size="10" fill="#111" text-anchor="start" font-weight="normal" font-family='"Liberation Sans", sans-serif' >Refined</text>
<line x1="120.3" y1="249.44" x2="143.2" y2="249.44" stroke="#000" stroke-width="1.2" />
<text x="146.4" y="253.04" font-size="10" fill="#111" text-anchor="start" font-weight="normal" font-family='"Liberation Sans", sans-serif' >Simulated</text>
<line x1="132.2" y1="260.01" x2="132.2" y2="263.41" stroke="#2e7d3a" stroke-width="0.6" />
<text x="147.6" y="265.31" font-size="10" fill="#111" text-anchor="start" font-weight="normal" font-family='"Liberation Sans", sans-serif' >Bragg</text>
<line x1="120.3" y1="273.98" x2="143.2" y2="273.98" stroke="#7b1c1e" stroke-width="1.2" />
<text x="146.4" y="277.58" font-size="10" fill="#111" text-anchor="start" font-weight="normal" font-family='"Liberation Sans", sans-serif' >Differences</text>
<defs><radialGradient id="sph" cx="0.5" cy="0.5" r="0.5" fx="0.4" fy="0.38"><stop offset="0" stop-color="#f2f2f2"/><stop offset="0.3" stop-color="#c6c6c6"/><stop offset="0.7" stop-color="#888888"/><stop offset="1" stop-color="#505050"/></radialGradient><radialGradient id="sphH" cx="0.5" cy="0.5" r="0.5" fx="0.4" fy="0.38"><stop offset="0" stop-color="#fafafa"/><stop offset="0.35" stop-color="#d6d6d6"/><stop offset="0.75" stop-color="#999999"/><stop offset="1" stop-color="#5a5a5a"/></radialGradient><radialGradient id="sO" cx="0.5" cy="0.5" r="0.5" fx="0.38" fy="0.35"><stop offset="0" stop-color="#ff9a9a"/><stop offset="0.5" stop-color="#e8202a"/><stop offset="1" stop-color="#a01018"/></radialGradient><radialGradient id="sS" cx="0.5" cy="0.5" r="0.5" fx="0.38" fy="0.35"><stop offset="0" stop-color="#fffbc0"/><stop offset="0.5" stop-color="#f0dc28"/><stop offset="1" stop-color="#b8a010"/></radialGradient><radialGradient id="sN" cx="0.5" cy="0.5" r="0.5" fx="0.38" fy="0.35"><stop offset="0" stop-color="#a8d8ff"/><stop offset="0.5" stop-color="#3d92d8"/><stop offset="1" stop-color="#1d5a98"/></radialGradient><g id="nodeg"><ellipse cx="0" cy="0" rx="8.8" ry="9.6" fill="#6e6e6e"/><line x1="0" y1="0" x2="-9.7" y2="-10.9" stroke="#6e6e6e" stroke-width="7.0" stroke-linecap="round"/><line x1="0" y1="0" x2="9.9" y2="-10.6" stroke="#6e6e6e" stroke-width="7.0" stroke-linecap="round"/><line x1="0" y1="0" x2="-9.7" y2="10.6" stroke="#6e6e6e" stroke-width="7.0" stroke-linecap="round"/><line x1="0" y1="0" x2="9.7" y2="10.9" stroke="#6e6e6e" stroke-width="7.0" stroke-linecap="round"/><circle cx="-11.7" cy="-12.2" r="1.2" fill="url(#sphH)"/><circle cx="-11.2" cy="-13.7" r="1.2" fill="url(#sphH)"/><circle cx="-14.1" cy="-14.3" r="1.2" fill="url(#sphH)"/><circle cx="-12.0" cy="-15.8" r="1.2" fill="url(#sphH)"/><circle cx="11.2" cy="-12.7" r="1.2" fill="url(#sphH)"/><circle cx="12.4" cy="-11.8" r="1.2" fill="url(#sphH)"/><circle cx="13.6" cy="-14.6" r="1.2" fill="url(#sphH)"/><circle cx="14.8" cy="-13.5" r="1.2" fill="url(#sphH)"/><circle cx="-10.8" cy="13.5" r="1.2" fill="url(#sphH)"/><circle cx="-11.9" cy="11.9" r="1.2" fill="url(#sphH)"/><circle cx="-12.8" cy="15.0" r="1.2" fill="url(#sphH)"/><circle cx="-14.5" cy="13.6" r="1.2" fill="url(#sphH)"/><circle cx="12.1" cy="12.5" r="1.2" fill="url(#sphH)"/><circle cx="10.4" cy="12.9" r="1.2" fill="url(#sphH)"/><circle cx="13.6" cy="14.6" r="1.2" fill="url(#sphH)"/><circle cx="12.2" cy="15.5" r="1.2" fill="url(#sphH)"/><circle cx="-3.7" cy="-8.9" r="1.3" fill="url(#sph)"/><circle cx="-1.9" cy="-7.8" r="1.3" fill="url(#sph)"/><circle cx="-0.1" cy="-8.2" r="1.3" fill="url(#sph)"/><circle cx="2.7" cy="-8.5" r="1.3" fill="url(#sph)"/><circle cx="4.7" cy="-7.7" r="1.3" fill="url(#sph)"/><circle cx="-7.0" cy="-5.9" r="1.3" fill="url(#sph)"/><circle cx="-5.0" cy="-6.5" r="1.3" fill="url(#sph)"/><circle cx="-2.8" cy="-6.7" r="1.3" fill="url(#sph)"/><circle cx="-0.5" cy="-6.3" r="1.3" fill="url(#sph)"/><circle cx="1.0" cy="-6.1" r="1.3" fill="url(#sph)"/><circle cx="3.6" cy="-6.4" r="1.3" fill="url(#sph)"/><circle cx="5.3" cy="-6.3" r="1.3" fill="url(#sph)"/><circle cx="-8.5" cy="-4.8" r="1.3" fill="url(#sph)"/><circle cx="-5.7" cy="-4.4" r="1.3" fill="url(#sph)"/><circle cx="-3.6" cy="-4.5" r="1.3" fill="url(#sph)"/><circle cx="-1.4" cy="-4.8" r="1.3" fill="url(#sph)"/><circle cx="0.6" cy="-4.3" r="1.3" fill="url(#sph)"/><circle cx="2.7" cy="-4.1" r="1.3" fill="url(#sph)"/><circle cx="4.4" cy="-4.5" r="1.3" fill="url(#sph)"/><circle cx="7.1" cy="-4.2" r="1.3" fill="url(#sph)"/><circle cx="-6.8" cy="-3.0" r="1.3" fill="url(#sph)"/><circle cx="-4.5" cy="-2.5" r="1.3" fill="url(#sph)"/><circle cx="-2.6" cy="-3.1" r="1.3" fill="url(#sph)"/><circle cx="-0.7" cy="-3.2" r="1.3" fill="url(#sph)"/><circle cx="1.5" cy="-2.7" r="1.3" fill="url(#sph)"/><circle cx="3.5" cy="-2.9" r="1.3" fill="url(#sph)"/><circle cx="5.6" cy="-2.7" r="1.3" fill="url(#sph)"/><circle cx="7.2" cy="-2.6" r="1.3" fill="url(#sph)"/><circle cx="-8.2" cy="-1.2" r="1.3" fill="url(#sph)"/><circle cx="-5.8" cy="-1.2" r="1.3" fill="url(#sph)"/><circle cx="-4.1" cy="-1.3" r="1.3" fill="url(#sph)"/><circle cx="-2.3" cy="-0.7" r="1.3" fill="url(#sph)"/><circle cx="0.9" cy="-1.0" r="1.3" fill="url(#sph)"/><circle cx="2.3" cy="-0.9" r="1.3" fill="url(#sph)"/><circle cx="4.7" cy="-0.2" r="1.3" fill="url(#sph)"/><circle cx="6.7" cy="-0.9" r="1.3" fill="url(#sph)"/><circle cx="8.9" cy="-0.7" r="1.3" fill="url(#sph)"/><circle cx="-7.1" cy="1.0" r="1.3" fill="url(#sph)"/><circle cx="-5.2" cy="1.0" r="1.3" fill="url(#sph)"/><circle cx="-3.2" cy="1.4" r="1.3" fill="url(#sph)"/><circle cx="-0.4" cy="0.4" r="1.3" fill="url(#sph)"/><circle cx="0.8" cy="0.8" r="1.3" fill="url(#sph)"/><circle cx="3.4" cy="1.3" r="1.3" fill="url(#sph)"/><circle cx="5.4" cy="1.2" r="1.3" fill="url(#sph)"/><circle cx="7.2" cy="0.9" r="1.3" fill="url(#sph)"/><circle cx="-8.2" cy="2.5" r="1.3" fill="url(#sph)"/><circle cx="-6.3" cy="3.0" r="1.3" fill="url(#sph)"/><circle cx="-3.9" cy="3.0" r="1.3" fill="url(#sph)"/><circle cx="-2.4" cy="3.2" r="1.3" fill="url(#sph)"/><circle cx="0.7" cy="3.3" r="1.3" fill="url(#sph)"/><circle cx="2.3" cy="2.6" r="1.3" fill="url(#sph)"/><circle cx="4.6" cy="2.8" r="1.3" fill="url(#sph)"/><circle cx="6.8" cy="2.2" r="1.3" fill="url(#sph)"/><circle cx="8.6" cy="2.8" r="1.3" fill="url(#sph)"/><circle cx="-7.4" cy="4.3" r="1.3" fill="url(#sph)"/><circle cx="-4.5" cy="4.8" r="1.3" fill="url(#sph)"/><circle cx="-3.2" cy="5.1" r="1.3" fill="url(#sph)"/><circle cx="-0.9" cy="4.4" r="1.3" fill="url(#sph)"/><circle cx="1.1" cy="4.4" r="1.3" fill="url(#sph)"/><circle cx="3.5" cy="4.6" r="1.3" fill="url(#sph)"/><circle cx="5.6" cy="4.5" r="1.3" fill="url(#sph)"/><circle cx="7.8" cy="4.4" r="1.3" fill="url(#sph)"/><circle cx="-6.0" cy="6.1" r="1.3" fill="url(#sph)"/><circle cx="-3.7" cy="6.6" r="1.3" fill="url(#sph)"/><circle cx="-1.9" cy="6.5" r="1.3" fill="url(#sph)"/><circle cx="0.1" cy="6.3" r="1.3" fill="url(#sph)"/><circle cx="2.4" cy="6.7" r="1.3" fill="url(#sph)"/><circle cx="4.0" cy="6.4" r="1.3" fill="url(#sph)"/><circle cx="6.7" cy="6.1" r="1.3" fill="url(#sph)"/><circle cx="-5.3" cy="8.5" r="1.3" fill="url(#sph)"/><circle cx="-3.0" cy="8.8" r="1.3" fill="url(#sph)"/><circle cx="-0.6" cy="8.3" r="1.3" fill="url(#sph)"/><circle cx="1.3" cy="8.2" r="1.3" fill="url(#sph)"/><circle cx="3.3" cy="8.2" r="1.3" fill="url(#sph)"/><circle cx="-5.9" cy="-1.6" r="1.3" fill="url(#sph)"/><circle cx="-3.8" cy="-3.1" r="1.3" fill="url(#sph)"/><circle cx="-2.7" cy="-4.4" r="1.3" fill="url(#sph)"/><circle cx="-0.4" cy="-5.3" r="1.3" fill="url(#sph)"/><circle cx="-6.3" cy="-3.4" r="1.3" fill="url(#sph)"/><circle cx="-4.6" cy="-5.1" r="1.3" fill="url(#sph)"/><circle cx="-3.1" cy="-6.0" r="1.3" fill="url(#sph)"/><circle cx="-1.1" cy="-7.3" r="1.3" fill="url(#sph)"/><circle cx="-8.2" cy="-4.3" r="1.3" fill="url(#sph)"/><circle cx="-6.7" cy="-5.7" r="1.3" fill="url(#sph)"/><circle cx="-5.1" cy="-7.0" r="1.3" fill="url(#sph)"/><circle cx="-3.1" cy="-8.9" r="1.3" fill="url(#sph)"/><circle cx="-8.6" cy="-6.9" r="1.3" fill="url(#sph)"/><circle cx="-7.8" cy="-7.4" r="1.3" fill="url(#sph)"/><circle cx="-5.7" cy="-8.5" r="1.3" fill="url(#sph)"/><circle cx="-4.4" cy="-10.4" r="1.3" fill="url(#sph)"/><circle cx="-10.5" cy="-7.5" r="1.3" fill="url(#sph)"/><circle cx="-9.0" cy="-8.8" r="1.3" fill="url(#sph)"/><circle cx="-7.7" cy="-9.9" r="1.3" fill="url(#sph)"/><circle cx="-5.9" cy="-11.7" r="1.3" fill="url(#sph)"/><circle cx="-11.3" cy="-9.5" r="1.3" fill="url(#sph)"/><circle cx="-9.9" cy="-10.3" r="1.3" fill="url(#sph)"/><circle cx="-8.6" cy="-12.2" r="1.3" fill="url(#sph)"/><circle cx="-7.2" cy="-13.2" r="1.3" fill="url(#sph)"/><circle cx="0.4" cy="-6.0" r="1.3" fill="url(#sph)"/><circle cx="2.1" cy="-4.2" r="1.3" fill="url(#sph)"/><circle cx="3.9" cy="-2.9" r="1.3" fill="url(#sph)"/><circle cx="5.8" cy="-1.6" r="1.3" fill="url(#sph)"/><circle cx="3.0" cy="-6.5" r="1.3" fill="url(#sph)"/><circle cx="3.9" cy="-5.3" r="1.3" fill="url(#sph)"/><circle cx="6.2" cy="-3.7" r="1.3" fill="url(#sph)"/><circle cx="6.9" cy="-2.4" r="1.3" fill="url(#sph)"/><circle cx="3.5" cy="-8.3" r="1.3" fill="url(#sph)"/><circle cx="5.0" cy="-6.8" r="1.3" fill="url(#sph)"/><circle cx="6.6" cy="-5.7" r="1.3" fill="url(#sph)"/><circle cx="8.5" cy="-4.1" r="1.3" fill="url(#sph)"/><circle cx="4.9" cy="-9.5" r="1.3" fill="url(#sph)"/><circle cx="6.9" cy="-8.0" r="1.3" fill="url(#sph)"/><circle cx="8.7" cy="-7.0" r="1.3" fill="url(#sph)"/><circle cx="10.1" cy="-5.3" r="1.3" fill="url(#sph)"/><circle cx="6.5" cy="-11.5" r="1.3" fill="url(#sph)"/><circle cx="7.9" cy="-9.5" r="1.3" fill="url(#sph)"/><circle cx="9.4" cy="-8.2" r="1.3" fill="url(#sph)"/><circle cx="10.2" cy="-7.3" r="1.3" fill="url(#sph)"/><circle cx="7.7" cy="-12.5" r="1.3" fill="url(#sph)"/><circle cx="9.5" cy="-10.8" r="1.3" fill="url(#sph)"/><circle cx="10.8" cy="-9.0" r="1.3" fill="url(#sph)"/><circle cx="13.1" cy="-8.2" r="1.3" fill="url(#sph)"/><circle cx="-0.7" cy="5.6" r="1.3" fill="url(#sph)"/><circle cx="-2.1" cy="4.1" r="1.3" fill="url(#sph)"/><circle cx="-4.0" cy="2.5" r="1.3" fill="url(#sph)"/><circle cx="-5.0" cy="1.2" r="1.3" fill="url(#sph)"/><circle cx="-2.8" cy="6.8" r="1.3" fill="url(#sph)"/><circle cx="-4.2" cy="5.4" r="1.3" fill="url(#sph)"/><circle cx="-5.6" cy="3.8" r="1.3" fill="url(#sph)"/><circle cx="-7.2" cy="2.5" r="1.3" fill="url(#sph)"/><circle cx="-3.5" cy="8.2" r="1.3" fill="url(#sph)"/><circle cx="-4.9" cy="7.1" r="1.3" fill="url(#sph)"/><circle cx="-7.0" cy="5.5" r="1.3" fill="url(#sph)"/><circle cx="-8.0" cy="4.4" r="1.3" fill="url(#sph)"/><circle cx="-4.7" cy="9.7" r="1.3" fill="url(#sph)"/><circle cx="-6.5" cy="8.1" r="1.3" fill="url(#sph)"/><circle cx="-8.1" cy="6.7" r="1.3" fill="url(#sph)"/><circle cx="-9.6" cy="4.7" r="1.3" fill="url(#sph)"/><circle cx="-6.1" cy="11.7" r="1.3" fill="url(#sph)"/><circle cx="-7.7" cy="9.5" r="1.3" fill="url(#sph)"/><circle cx="-9.3" cy="8.4" r="1.3" fill="url(#sph)"/><circle cx="-10.4" cy="6.5" r="1.3" fill="url(#sph)"/><circle cx="-7.8" cy="12.7" r="1.3" fill="url(#sph)"/><circle cx="-9.2" cy="10.7" r="1.3" fill="url(#sph)"/><circle cx="-10.5" cy="9.5" r="1.3" fill="url(#sph)"/><circle cx="-12.4" cy="8.1" r="1.3" fill="url(#sph)"/><circle cx="5.4" cy="1.4" r="1.3" fill="url(#sph)"/><circle cx="3.9" cy="3.2" r="1.3" fill="url(#sph)"/><circle cx="2.0" cy="4.1" r="1.3" fill="url(#sph)"/><circle cx="1.0" cy="5.5" r="1.3" fill="url(#sph)"/><circle cx="6.4" cy="3.3" r="1.3" fill="url(#sph)"/><circle cx="4.8" cy="4.7" r="1.3" fill="url(#sph)"/><circle cx="3.1" cy="5.9" r="1.3" fill="url(#sph)"/><circle cx="1.4" cy="7.3" r="1.3" fill="url(#sph)"/><circle cx="7.9" cy="4.0" r="1.3" fill="url(#sph)"/><circle cx="6.5" cy="5.8" r="1.3" fill="url(#sph)"/><circle cx="5.0" cy="7.2" r="1.3" fill="url(#sph)"/><circle cx="3.6" cy="8.6" r="1.3" fill="url(#sph)"/><circle cx="9.0" cy="6.5" r="1.3" fill="url(#sph)"/><circle cx="7.5" cy="7.4" r="1.3" fill="url(#sph)"/><circle cx="6.1" cy="9.0" r="1.3" fill="url(#sph)"/><circle cx="3.9" cy="10.3" r="1.3" fill="url(#sph)"/><circle cx="10.4" cy="7.4" r="1.3" fill="url(#sph)"/><circle cx="9.1" cy="8.2" r="1.3" fill="url(#sph)"/><circle cx="7.3" cy="10.4" r="1.3" fill="url(#sph)"/><circle cx="6.0" cy="11.5" r="1.3" fill="url(#sph)"/><circle cx="11.5" cy="9.1" r="1.3" fill="url(#sph)"/><circle cx="10.3" cy="10.6" r="1.3" fill="url(#sph)"/><circle cx="8.4" cy="11.9" r="1.3" fill="url(#sph)"/><circle cx="7.3" cy="13.4" r="1.3" fill="url(#sph)"/><circle cx="-10.5" cy="-11.8" r="1.4" fill="url(#sN)"/><circle cx="10.8" cy="-11.5" r="1.4" fill="url(#sN)"/><circle cx="-10.5" cy="11.5" r="1.4" fill="url(#sN)"/><circle cx="10.5" cy="11.8" r="1.4" fill="url(#sN)"/></g><g id="nodebg"><ellipse cx="0" cy="0" rx="8.8" ry="9.6" fill="#6e6e6e"/><line x1="0" y1="0" x2="-9.7" y2="-10.9" stroke="#6e6e6e" stroke-width="7.0" stroke-linecap="round"/><line x1="0" y1="0" x2="9.9" y2="-10.6" stroke="#6e6e6e" stroke-width="7.0" stroke-linecap="round"/><line x1="0" y1="0" x2="-7.6" y2="8.3" stroke="#6e6e6e" stroke-width="7.0" stroke-linecap="round"/><line x1="0" y1="0" x2="7.6" y2="8.5" stroke="#6e6e6e" stroke-width="7.0" stroke-linecap="round"/><circle cx="-12.0" cy="-11.9" r="1.2" fill="url(#sphH)"/><circle cx="-11.2" cy="-13.4" r="1.2" fill="url(#sphH)"/><circle cx="-13.8" cy="-14.3" r="1.2" fill="url(#sphH)"/><circle cx="-12.4" cy="-16.0" r="1.2" fill="url(#sphH)"/><circle cx="10.4" cy="-13.4" r="1.2" fill="url(#sphH)"/><circle cx="12.7" cy="-11.5" r="1.2" fill="url(#sphH)"/><circle cx="13.0" cy="-14.9" r="1.2" fill="url(#sphH)"/><circle cx="14.9" cy="-14.0" r="1.2" fill="url(#sphH)"/><circle cx="-4.0" cy="-8.3" r="1.3" fill="url(#sph)"/><circle cx="-1.6" cy="-7.9" r="1.3" fill="url(#sph)"/><circle cx="0.3" cy="-8.4" r="1.3" fill="url(#sph)"/><circle cx="2.4" cy="-8.2" r="1.3" fill="url(#sph)"/><circle cx="4.4" cy="-8.1" r="1.3" fill="url(#sph)"/><circle cx="-6.8" cy="-6.6" r="1.3" fill="url(#sph)"/><circle cx="-5.3" cy="-6.3" r="1.3" fill="url(#sph)"/><circle cx="-2.8" cy="-6.3" r="1.3" fill="url(#sph)"/><circle cx="-1.2" cy="-6.4" r="1.3" fill="url(#sph)"/><circle cx="1.1" cy="-6.4" r="1.3" fill="url(#sph)"/><circle cx="3.4" cy="-6.6" r="1.3" fill="url(#sph)"/><circle cx="5.3" cy="-6.6" r="1.3" fill="url(#sph)"/><circle cx="-8.2" cy="-4.3" r="1.3" fill="url(#sph)"/><circle cx="-6.4" cy="-4.4" r="1.3" fill="url(#sph)"/><circle cx="-3.9" cy="-4.8" r="1.3" fill="url(#sph)"/><circle cx="-1.7" cy="-5.2" r="1.3" fill="url(#sph)"/><circle cx="0.7" cy="-4.2" r="1.3" fill="url(#sph)"/><circle cx="2.3" cy="-4.8" r="1.3" fill="url(#sph)"/><circle cx="4.2" cy="-4.8" r="1.3" fill="url(#sph)"/><circle cx="7.0" cy="-4.8" r="1.3" fill="url(#sph)"/><circle cx="-7.0" cy="-3.1" r="1.3" fill="url(#sph)"/><circle cx="-5.0" cy="-2.6" r="1.3" fill="url(#sph)"/><circle cx="-3.0" cy="-2.4" r="1.3" fill="url(#sph)"/><circle cx="-0.8" cy="-2.5" r="1.3" fill="url(#sph)"/><circle cx="1.3" cy="-3.0" r="1.3" fill="url(#sph)"/><circle cx="3.3" cy="-2.6" r="1.3" fill="url(#sph)"/><circle cx="5.7" cy="-2.8" r="1.3" fill="url(#sph)"/><circle cx="7.3" cy="-2.8" r="1.3" fill="url(#sph)"/><circle cx="-8.3" cy="-0.9" r="1.3" fill="url(#sph)"/><circle cx="-6.2" cy="-0.8" r="1.3" fill="url(#sph)"/><circle cx="-3.8" cy="-1.1" r="1.3" fill="url(#sph)"/><circle cx="-1.8" cy="-1.0" r="1.3" fill="url(#sph)"/><circle cx="0.5" cy="-1.1" r="1.3" fill="url(#sph)"/><circle cx="2.1" cy="-1.2" r="1.3" fill="url(#sph)"/><circle cx="4.3" cy="-0.9" r="1.3" fill="url(#sph)"/><circle cx="6.3" cy="-0.9" r="1.3" fill="url(#sph)"/><circle cx="8.0" cy="-0.9" r="1.3" fill="url(#sph)"/><circle cx="-7.1" cy="0.4" r="1.3" fill="url(#sph)"/><circle cx="-4.7" cy="1.0" r="1.3" fill="url(#sph)"/><circle cx="-2.8" cy="1.2" r="1.3" fill="url(#sph)"/><circle cx="-1.0" cy="0.6" r="1.3" fill="url(#sph)"/><circle cx="1.7" cy="0.8" r="1.3" fill="url(#sph)"/><circle cx="2.9" cy="0.4" r="1.3" fill="url(#sph)"/><circle cx="6.0" cy="1.0" r="1.3" fill="url(#sph)"/><circle cx="7.7" cy="1.0" r="1.3" fill="url(#sph)"/><circle cx="-8.0" cy="3.3" r="1.3" fill="url(#sph)"/><circle cx="-6.2" cy="3.0" r="1.3" fill="url(#sph)"/><circle cx="-3.9" cy="2.6" r="1.3" fill="url(#sph)"/><circle cx="-2.1" cy="2.8" r="1.3" fill="url(#sph)"/><circle cx="0.1" cy="3.0" r="1.3" fill="url(#sph)"/><circle cx="2.8" cy="2.9" r="1.3" fill="url(#sph)"/><circle cx="4.3" cy="2.4" r="1.3" fill="url(#sph)"/><circle cx="6.3" cy="3.0" r="1.3" fill="url(#sph)"/><circle cx="8.8" cy="3.1" r="1.3" fill="url(#sph)"/><circle cx="-7.3" cy="4.6" r="1.3" fill="url(#sph)"/><circle cx="-4.7" cy="4.7" r="1.3" fill="url(#sph)"/><circle cx="-3.2" cy="4.4" r="1.3" fill="url(#sph)"/><circle cx="-1.2" cy="4.3" r="1.3" fill="url(#sph)"/><circle cx="1.6" cy="4.3" r="1.3" fill="url(#sph)"/><circle cx="3.8" cy="4.9" r="1.3" fill="url(#sph)"/><circle cx="5.6" cy="4.4" r="1.3" fill="url(#sph)"/><circle cx="8.1" cy="4.8" r="1.3" fill="url(#sph)"/><circle cx="-5.8" cy="6.5" r="1.3" fill="url(#sph)"/><circle cx="-4.3" cy="6.6" r="1.3" fill="url(#sph)"/><circle cx="-1.7" cy="6.1" r="1.3" fill="url(#sph)"/><circle cx="0.2" cy="6.5" r="1.3" fill="url(#sph)"/><circle cx="2.0" cy="6.5" r="1.3" fill="url(#sph)"/><circle cx="4.4" cy="6.5" r="1.3" fill="url(#sph)"/><circle cx="6.5" cy="6.3" r="1.3" fill="url(#sph)"/><circle cx="-5.1" cy="8.1" r="1.3" fill="url(#sph)"/><circle cx="-2.5" cy="8.4" r="1.3" fill="url(#sph)"/><circle cx="-1.0" cy="8.2" r="1.3" fill="url(#sph)"/><circle cx="1.5" cy="8.6" r="1.3" fill="url(#sph)"/><circle cx="3.2" cy="8.5" r="1.3" fill="url(#sph)"/><circle cx="-5.3" cy="-1.3" r="1.3" fill="url(#sph)"/><circle cx="-4.1" cy="-2.5" r="1.3" fill="url(#sph)"/><circle cx="-2.5" cy="-4.5" r="1.3" fill="url(#sph)"/><circle cx="-0.2" cy="-5.5" r="1.3" fill="url(#sph)"/><circle cx="-6.3" cy="-2.7" r="1.3" fill="url(#sph)"/><circle cx="-5.3" cy="-4.8" r="1.3" fill="url(#sph)"/><circle cx="-3.8" cy="-6.2" r="1.3" fill="url(#sph)"/><circle cx="-1.3" cy="-7.3" r="1.3" fill="url(#sph)"/><circle cx="-7.9" cy="-4.5" r="1.3" fill="url(#sph)"/><circle cx="-6.7" cy="-6.0" r="1.3" fill="url(#sph)"/><circle cx="-4.4" cy="-7.1" r="1.3" fill="url(#sph)"/><circle cx="-3.2" cy="-9.0" r="1.3" fill="url(#sph)"/><circle cx="-8.9" cy="-6.6" r="1.3" fill="url(#sph)"/><circle cx="-7.5" cy="-7.4" r="1.3" fill="url(#sph)"/><circle cx="-5.8" cy="-8.8" r="1.3" fill="url(#sph)"/><circle cx="-4.5" cy="-10.6" r="1.3" fill="url(#sph)"/><circle cx="-10.6" cy="-7.0" r="1.3" fill="url(#sph)"/><circle cx="-9.2" cy="-8.7" r="1.3" fill="url(#sph)"/><circle cx="-7.5" cy="-10.2" r="1.3" fill="url(#sph)"/><circle cx="-6.0" cy="-11.6" r="1.3" fill="url(#sph)"/><circle cx="-11.7" cy="-8.9" r="1.3" fill="url(#sph)"/><circle cx="-10.4" cy="-10.5" r="1.3" fill="url(#sph)"/><circle cx="-8.5" cy="-11.9" r="1.3" fill="url(#sph)"/><circle cx="-7.1" cy="-13.3" r="1.3" fill="url(#sph)"/><circle cx="1.0" cy="-6.1" r="1.3" fill="url(#sph)"/><circle cx="2.9" cy="-4.0" r="1.3" fill="url(#sph)"/><circle cx="3.9" cy="-3.1" r="1.3" fill="url(#sph)"/><circle cx="5.6" cy="-1.2" r="1.3" fill="url(#sph)"/><circle cx="2.8" cy="-6.5" r="1.3" fill="url(#sph)"/><circle cx="4.5" cy="-5.0" r="1.3" fill="url(#sph)"/><circle cx="5.0" cy="-3.4" r="1.3" fill="url(#sph)"/><circle cx="7.5" cy="-2.5" r="1.3" fill="url(#sph)"/><circle cx="3.6" cy="-8.2" r="1.3" fill="url(#sph)"/><circle cx="4.8" cy="-6.5" r="1.3" fill="url(#sph)"/><circle cx="6.6" cy="-5.6" r="1.3" fill="url(#sph)"/><circle cx="8.0" cy="-4.1" r="1.3" fill="url(#sph)"/><circle cx="5.8" cy="-9.2" r="1.3" fill="url(#sph)"/><circle cx="6.8" cy="-8.6" r="1.3" fill="url(#sph)"/><circle cx="8.3" cy="-6.9" r="1.3" fill="url(#sph)"/><circle cx="9.9" cy="-5.5" r="1.3" fill="url(#sph)"/><circle cx="6.7" cy="-11.2" r="1.3" fill="url(#sph)"/><circle cx="7.8" cy="-9.9" r="1.3" fill="url(#sph)"/><circle cx="9.4" cy="-8.2" r="1.3" fill="url(#sph)"/><circle cx="10.6" cy="-7.1" r="1.3" fill="url(#sph)"/><circle cx="8.0" cy="-12.5" r="1.3" fill="url(#sph)"/><circle cx="9.7" cy="-11.0" r="1.3" fill="url(#sph)"/><circle cx="11.4" cy="-9.7" r="1.3" fill="url(#sph)"/><circle cx="12.3" cy="-8.1" r="1.3" fill="url(#sph)"/><circle cx="-0.6" cy="5.7" r="1.3" fill="url(#sph)"/><circle cx="-2.1" cy="4.4" r="1.3" fill="url(#sph)"/><circle cx="-4.1" cy="2.4" r="1.3" fill="url(#sph)"/><circle cx="-5.4" cy="1.4" r="1.3" fill="url(#sph)"/><circle cx="-1.8" cy="6.5" r="1.3" fill="url(#sph)"/><circle cx="-4.5" cy="5.4" r="1.3" fill="url(#sph)"/><circle cx="-5.9" cy="3.6" r="1.3" fill="url(#sph)"/><circle cx="-7.6" cy="2.8" r="1.3" fill="url(#sph)"/><circle cx="-3.8" cy="9.0" r="1.3" fill="url(#sph)"/><circle cx="-5.3" cy="8.0" r="1.3" fill="url(#sph)"/><circle cx="-7.0" cy="6.1" r="1.3" fill="url(#sph)"/><circle cx="-8.6" cy="4.3" r="1.3" fill="url(#sph)"/><circle cx="-5.9" cy="9.7" r="1.3" fill="url(#sph)"/><circle cx="-7.3" cy="8.5" r="1.3" fill="url(#sph)"/><circle cx="-9.0" cy="7.0" r="1.3" fill="url(#sph)"/><circle cx="-10.2" cy="5.5" r="1.3" fill="url(#sph)"/><circle cx="5.8" cy="1.6" r="1.3" fill="url(#sph)"/><circle cx="3.9" cy="2.8" r="1.3" fill="url(#sph)"/><circle cx="2.7" cy="4.6" r="1.3" fill="url(#sph)"/><circle cx="1.3" cy="6.0" r="1.3" fill="url(#sph)"/><circle cx="6.6" cy="3.2" r="1.3" fill="url(#sph)"/><circle cx="4.9" cy="4.4" r="1.3" fill="url(#sph)"/><circle cx="3.4" cy="6.2" r="1.3" fill="url(#sph)"/><circle cx="2.0" cy="7.5" r="1.3" fill="url(#sph)"/><circle cx="8.7" cy="4.9" r="1.3" fill="url(#sph)"/><circle cx="6.8" cy="6.1" r="1.3" fill="url(#sph)"/><circle cx="5.2" cy="7.5" r="1.3" fill="url(#sph)"/><circle cx="3.6" cy="8.7" r="1.3" fill="url(#sph)"/><circle cx="9.4" cy="6.9" r="1.3" fill="url(#sph)"/><circle cx="7.7" cy="7.9" r="1.3" fill="url(#sph)"/><circle cx="6.3" cy="10.0" r="1.3" fill="url(#sph)"/><circle cx="5.0" cy="10.9" r="1.3" fill="url(#sph)"/><circle cx="-10.5" cy="-11.8" r="1.4" fill="url(#sN)"/><circle cx="10.8" cy="-11.5" r="1.4" fill="url(#sN)"/></g><g id="dppg"><line x1="-15.5" y1="0" x2="15.5" y2="0" stroke="#6e6e6e" stroke-width="5" stroke-linecap="round"/><ellipse cx="0" cy="0" rx="6" ry="5.5" fill="#6e6e6e"/><ellipse cx="-1.0" cy="-10.8" rx="4.6" ry="4.2" fill="#7a7a7a"/><line x1="1.1" y1="-2.9" x2="-1.0" y2="-10.8" stroke="#7a7a7a" stroke-width="3.4"/><ellipse cx="-2.4" cy="12.2" rx="4.6" ry="4.2" fill="#7a7a7a"/><line x1="-1.2" y1="3.4" x2="-2.4" y2="12.2" stroke="#7a7a7a" stroke-width="3.4"/><circle cx="-3.4" cy="-13.6" r="1.25" fill="url(#sphH)"/><circle cx="-0.9" cy="-13.8" r="1.25" fill="url(#sphH)"/><circle cx="0.9" cy="-13.5" r="1.25" fill="url(#sphH)"/><circle cx="-3.9" cy="-11.4" r="1.25" fill="url(#sphH)"/><circle cx="-1.7" cy="-12.4" r="1.25" fill="url(#sphH)"/><circle cx="-0.1" cy="-12.1" r="1.25" fill="url(#sphH)"/><circle cx="1.7" cy="-11.7" r="1.25" fill="url(#sphH)"/><circle cx="-5.0" cy="-10.5" r="1.25" fill="url(#sphH)"/><circle cx="-2.6" cy="-9.8" r="1.25" fill="url(#sphH)"/><circle cx="-1.1" cy="-10.0" r="1.25" fill="url(#sphH)"/><circle cx="0.9" cy="-10.2" r="1.25" fill="url(#sphH)"/><circle cx="2.6" cy="-10.3" r="1.25" fill="url(#sphH)"/><circle cx="-4.0" cy="-8.6" r="1.25" fill="url(#sphH)"/><circle cx="-1.6" cy="-8.7" r="1.25" fill="url(#sphH)"/><circle cx="0.1" cy="-8.4" r="1.25" fill="url(#sphH)"/><circle cx="1.6" cy="-8.1" r="1.25" fill="url(#sphH)"/><circle cx="-3.0" cy="-6.4" r="1.25" fill="url(#sphH)"/><circle cx="-1.0" cy="-6.6" r="1.25" fill="url(#sphH)"/><circle cx="1.4" cy="-6.7" r="1.25" fill="url(#sphH)"/><circle cx="0.3" cy="-2.8" r="1.25" fill="url(#sphH)"/><circle cx="2.1" cy="-3.2" r="1.25" fill="url(#sphH)"/><circle cx="0.1" cy="-4.4" r="1.25" fill="url(#sphH)"/><circle cx="1.8" cy="-5.2" r="1.25" fill="url(#sphH)"/><circle cx="-1.0" cy="-6.0" r="1.25" fill="url(#sphH)"/><circle cx="1.0" cy="-7.2" r="1.25" fill="url(#sphH)"/><circle cx="-0.9" cy="-9.1" r="1.25" fill="url(#sphH)"/><circle cx="1.3" cy="-9.4" r="1.25" fill="url(#sphH)"/><circle cx="-2.1" cy="-10.4" r="1.25" fill="url(#sphH)"/><circle cx="-0.4" cy="-10.7" r="1.25" fill="url(#sphH)"/><circle cx="1.7" cy="-15.4" r="1.25" fill="url(#sphH)"/><circle cx="3.1" cy="-15.8" r="1.25" fill="url(#sphH)"/><circle cx="2.7" cy="-14.2" r="1.25" fill="url(#sphH)"/><circle cx="5.0" cy="-14.0" r="1.25" fill="url(#sphH)"/><circle cx="-6.3" cy="-14.7" r="1.25" fill="url(#sphH)"/><circle cx="-4.0" cy="-14.8" r="1.25" fill="url(#sphH)"/><circle cx="-5.2" cy="-13.1" r="1.25" fill="url(#sphH)"/><circle cx="-4.3" cy="9.4" r="1.25" fill="url(#sphH)"/><circle cx="-2.4" cy="9.6" r="1.25" fill="url(#sphH)"/><circle cx="-0.5" cy="9.1" r="1.25" fill="url(#sphH)"/><circle cx="-5.5" cy="10.9" r="1.25" fill="url(#sphH)"/><circle cx="-3.6" cy="11.2" r="1.25" fill="url(#sphH)"/><circle cx="-1.4" cy="11.1" r="1.25" fill="url(#sphH)"/><circle cx="1.0" cy="11.2" r="1.25" fill="url(#sphH)"/><circle cx="-6.3" cy="12.7" r="1.25" fill="url(#sphH)"/><circle cx="-4.1" cy="12.7" r="1.25" fill="url(#sphH)"/><circle cx="-2.0" cy="13.1" r="1.25" fill="url(#sphH)"/><circle cx="-0.5" cy="13.0" r="1.25" fill="url(#sphH)"/><circle cx="1.8" cy="12.8" r="1.25" fill="url(#sphH)"/><circle cx="-5.3" cy="14.9" r="1.25" fill="url(#sphH)"/><circle cx="-3.8" cy="14.6" r="1.25" fill="url(#sphH)"/><circle cx="-1.3" cy="14.7" r="1.25" fill="url(#sphH)"/><circle cx="0.4" cy="14.5" r="1.25" fill="url(#sphH)"/><circle cx="-4.4" cy="16.8" r="1.25" fill="url(#sphH)"/><circle cx="-2.6" cy="16.5" r="1.25" fill="url(#sphH)"/><circle cx="-0.1" cy="16.3" r="1.25" fill="url(#sphH)"/><circle cx="0.2" cy="3.5" r="1.25" fill="url(#sphH)"/><circle cx="-2.3" cy="3.2" r="1.25" fill="url(#sphH)"/><circle cx="-0.9" cy="5.5" r="1.25" fill="url(#sphH)"/><circle cx="-3.1" cy="4.7" r="1.25" fill="url(#sphH)"/><circle cx="-0.5" cy="7.2" r="1.25" fill="url(#sphH)"/><circle cx="-2.8" cy="6.5" r="1.25" fill="url(#sphH)"/><circle cx="-1.9" cy="8.5" r="1.25" fill="url(#sphH)"/><circle cx="-3.1" cy="8.3" r="1.25" fill="url(#sphH)"/><circle cx="-0.9" cy="10.6" r="1.25" fill="url(#sphH)"/><circle cx="-3.4" cy="10.6" r="1.25" fill="url(#sphH)"/><circle cx="-1.9" cy="12.3" r="1.25" fill="url(#sphH)"/><circle cx="-3.6" cy="11.9" r="1.25" fill="url(#sphH)"/><circle cx="1.0" cy="16.1" r="1.25" fill="url(#sphH)"/><circle cx="2.2" cy="16.3" r="1.25" fill="url(#sphH)"/><circle cx="1.7" cy="18.1" r="1.25" fill="url(#sphH)"/><circle cx="3.0" cy="18.3" r="1.25" fill="url(#sphH)"/><circle cx="-7.6" cy="15.2" r="1.25" fill="url(#sphH)"/><circle cx="-5.8" cy="15.6" r="1.25" fill="url(#sphH)"/><circle cx="-6.5" cy="16.9" r="1.25" fill="url(#sphH)"/><circle cx="-15.3" cy="-2.0" r="1.3" fill="url(#sph)"/><circle cx="-16.2" cy="0.0" r="1.3" fill="url(#sph)"/><circle cx="-15.3" cy="2.4" r="1.3" fill="url(#sph)"/><circle cx="-13.2" cy="-1.4" r="1.3" fill="url(#sph)"/><circle cx="-13.9" cy="0.4" r="1.3" fill="url(#sph)"/><circle cx="-13.4" cy="3.1" r="1.3" fill="url(#sph)"/><circle cx="-11.5" cy="-1.9" r="1.3" fill="url(#sph)"/><circle cx="-11.1" cy="0.4" r="1.3" fill="url(#sph)"/><circle cx="-11.2" cy="2.5" r="1.3" fill="url(#sph)"/><circle cx="-9.2" cy="-1.8" r="1.3" fill="url(#sph)"/><circle cx="-9.6" cy="0.7" r="1.3" fill="url(#sph)"/><circle cx="-9.6" cy="3.1" r="1.3" fill="url(#sph)"/><circle cx="-7.0" cy="-2.0" r="1.3" fill="url(#sph)"/><circle cx="-7.3" cy="0.0" r="1.3" fill="url(#sph)"/><circle cx="-7.0" cy="2.2" r="1.3" fill="url(#sph)"/><circle cx="-5.4" cy="-1.2" r="1.3" fill="url(#sph)"/><circle cx="-5.2" cy="0.4" r="1.3" fill="url(#sph)"/><circle cx="-5.1" cy="2.6" r="1.3" fill="url(#sph)"/><circle cx="-2.7" cy="-2.0" r="1.3" fill="url(#sph)"/><circle cx="-3.2" cy="0.0" r="1.3" fill="url(#sph)"/><circle cx="-3.0" cy="1.8" r="1.3" fill="url(#sph)"/><circle cx="-1.4" cy="-1.7" r="1.3" fill="url(#sph)"/><circle cx="-1.0" cy="0.1" r="1.3" fill="url(#sph)"/><circle cx="-1.4" cy="2.5" r="1.3" fill="url(#sph)"/><circle cx="1.1" cy="-2.0" r="1.3" fill="url(#sph)"/><circle cx="0.8" cy="0.2" r="1.3" fill="url(#sph)"/><circle cx="0.6" cy="2.0" r="1.3" fill="url(#sph)"/><circle cx="3.0" cy="-1.1" r="1.3" fill="url(#sph)"/><circle cx="3.3" cy="0.2" r="1.3" fill="url(#sph)"/><circle cx="3.3" cy="2.5" r="1.3" fill="url(#sph)"/><circle cx="5.2" cy="-1.8" r="1.3" fill="url(#sph)"/><circle cx="5.1" cy="-0.3" r="1.3" fill="url(#sph)"/><circle cx="5.1" cy="2.2" r="1.3" fill="url(#sph)"/><circle cx="7.2" cy="-1.8" r="1.3" fill="url(#sph)"/><circle cx="7.1" cy="0.5" r="1.3" fill="url(#sph)"/><circle cx="7.2" cy="2.8" r="1.3" fill="url(#sph)"/><circle cx="9.6" cy="-2.2" r="1.3" fill="url(#sph)"/><circle cx="9.0" cy="0.1" r="1.3" fill="url(#sph)"/><circle cx="9.1" cy="2.4" r="1.3" fill="url(#sph)"/><circle cx="11.4" cy="-1.4" r="1.3" fill="url(#sph)"/><circle cx="10.8" cy="0.5" r="1.3" fill="url(#sph)"/><circle cx="11.5" cy="2.2" r="1.3" fill="url(#sph)"/><circle cx="13.4" cy="-1.8" r="1.3" fill="url(#sph)"/><circle cx="13.6" cy="-0.3" r="1.3" fill="url(#sph)"/><circle cx="13.6" cy="2.2" r="1.3" fill="url(#sph)"/><circle cx="15.6" cy="-1.5" r="1.3" fill="url(#sph)"/><circle cx="15.5" cy="0.4" r="1.3" fill="url(#sph)"/><circle cx="15.3" cy="2.2" r="1.3" fill="url(#sph)"/><circle cx="-3.3" cy="-4.1" r="1.3" fill="url(#sph)"/><circle cx="-1.3" cy="-4.1" r="1.3" fill="url(#sph)"/><circle cx="1.0" cy="-4.4" r="1.3" fill="url(#sph)"/><circle cx="2.9" cy="-4.1" r="1.3" fill="url(#sph)"/><circle cx="-4.0" cy="-2.4" r="1.3" fill="url(#sph)"/><circle cx="-2.3" cy="-2.5" r="1.3" fill="url(#sph)"/><circle cx="-0.4" cy="-2.0" r="1.3" fill="url(#sph)"/><circle cx="1.3" cy="-2.1" r="1.3" fill="url(#sph)"/><circle cx="3.8" cy="-2.5" r="1.3" fill="url(#sph)"/><circle cx="-5.5" cy="-0.5" r="1.3" fill="url(#sph)"/><circle cx="-3.2" cy="-0.3" r="1.3" fill="url(#sph)"/><circle cx="-1.0" cy="-0.9" r="1.3" fill="url(#sph)"/><circle cx="0.8" cy="-0.4" r="1.3" fill="url(#sph)"/><circle cx="3.0" cy="-0.9" r="1.3" fill="url(#sph)"/><circle cx="5.4" cy="-0.3" r="1.3" fill="url(#sph)"/><circle cx="-4.4" cy="2.0" r="1.3" fill="url(#sph)"/><circle cx="-2.6" cy="1.2" r="1.3" fill="url(#sph)"/><circle cx="-0.3" cy="1.4" r="1.3" fill="url(#sph)"/><circle cx="1.7" cy="1.1" r="1.3" fill="url(#sph)"/><circle cx="4.3" cy="1.2" r="1.3" fill="url(#sph)"/><circle cx="6.3" cy="1.7" r="1.3" fill="url(#sph)"/><circle cx="-5.5" cy="2.9" r="1.3" fill="url(#sph)"/><circle cx="-3.5" cy="3.3" r="1.3" fill="url(#sph)"/><circle cx="-1.0" cy="3.2" r="1.3" fill="url(#sph)"/><circle cx="0.5" cy="3.2" r="1.3" fill="url(#sph)"/><circle cx="3.4" cy="3.5" r="1.3" fill="url(#sph)"/><circle cx="4.9" cy="3.2" r="1.3" fill="url(#sph)"/><circle cx="-2.2" cy="4.6" r="1.3" fill="url(#sph)"/><circle cx="-0.1" cy="4.5" r="1.3" fill="url(#sph)"/><circle cx="1.5" cy="4.7" r="1.3" fill="url(#sph)"/><circle cx="-15.2" cy="0.0" r="1.5" fill="url(#sN)"/><circle cx="15.2" cy="0.0" r="1.5" fill="url(#sN)"/><circle cx="1.1" cy="-2.9" r="1.5" fill="url(#sN)"/><circle cx="-1.2" cy="3.4" r="1.5" fill="url(#sN)"/><circle cx="-7.1" cy="-0.3" r="1.7" fill="url(#sS)"/><circle cx="7.1" cy="0.8" r="1.7" fill="url(#sS)"/><circle cx="-3.2" cy="-3.9" r="1.6" fill="url(#sO)"/><circle cx="3.2" cy="4.5" r="1.6" fill="url(#sO)"/></g></defs>
<use href="#dppg" transform="translate(273.7 221) rotate(-34)"/>
<use href="#dppg" transform="translate(316.5 221) rotate(34)"/>
<use href="#dppg" transform="translate(359.5 221) rotate(-34)"/>
<use href="#dppg" transform="translate(402.3 221) rotate(34)"/>
<use href="#dppg" transform="translate(273.7 258) rotate(34)"/>
<use href="#dppg" transform="translate(316.5 258) rotate(-34)"/>
<use href="#dppg" transform="translate(359.5 258) rotate(34)"/>
<use href="#dppg" transform="translate(402.3 258) rotate(-34)"/>
<use href="#dppg" transform="translate(273.7 294.8) rotate(-34)"/>
<use href="#dppg" transform="translate(316.5 294.8) rotate(34)"/>
<use href="#dppg" transform="translate(359.5 294.8) rotate(-34)"/>
<use href="#dppg" transform="translate(402.3 294.8) rotate(34)"/>
<use href="#dppg" transform="translate(273.7 331.7) rotate(34)"/>
<use href="#dppg" transform="translate(316.5 331.7) rotate(-34)"/>
<use href="#dppg" transform="translate(359.5 331.7) rotate(34)"/>
<use href="#dppg" transform="translate(402.3 331.7) rotate(-34)"/>
<use href="#nodeg" transform="translate(252.8 240.4)"/>
<use href="#nodeg" transform="translate(338.5 240.3)"/>
<use href="#nodeg" transform="translate(294.2 275.7)"/>
<use href="#nodeg" transform="translate(380 275.2)"/>
<use href="#nodeg" transform="translate(253.6 314.3)"/>
<use href="#nodeg" transform="translate(339.3 314.1)"/>
<use href="#nodebg" transform="translate(295 349.5)"/>
<use href="#nodebg" transform="translate(380.8 349)"/>
<text x="219.7" y="228.5" font-size="16.5" fill="#000" text-anchor="start" font-weight="bold" font-family='"Liberation Sans", sans-serif' >e</text>
<line x1="519.6" y1="212.5" x2="519.6" y2="288" stroke="#b0b0b0" stroke-width="0.7" /><line x1="548.2" y1="212.5" x2="548.2" y2="288" stroke="#b0b0b0" stroke-width="0.7" /><line x1="576.8" y1="212.5" x2="576.8" y2="288" stroke="#b0b0b0" stroke-width="0.7" /><line x1="605.4" y1="212.5" x2="605.4" y2="288" stroke="#b0b0b0" stroke-width="0.7" /><line x1="634" y1="212.5" x2="634" y2="288" stroke="#b0b0b0" stroke-width="0.7" /><line x1="662.6" y1="212.5" x2="662.6" y2="288" stroke="#b0b0b0" stroke-width="0.7" /><line x1="499.6" y1="212.5" x2="499.6" y2="288" stroke="#b0b0b0" stroke-width="0.7" /><line x1="453.15" y1="271" x2="453.15" y2="347.11" stroke="#b8b8b8" stroke-width="0.7" /><line x1="460.29" y1="262" x2="460.29" y2="338.01" stroke="#b8b8b8" stroke-width="0.7" /><line x1="467.44" y1="253" x2="467.44" y2="328.92" stroke="#b8b8b8" stroke-width="0.7" /><line x1="474.59" y1="244" x2="474.59" y2="319.83" stroke="#b8b8b8" stroke-width="0.7" /><line x1="481.73" y1="235" x2="481.73" y2="310.73" stroke="#b8b8b8" stroke-width="0.7" /><line x1="488.88" y1="226" x2="488.88" y2="301.64" stroke="#b8b8b8" stroke-width="0.7" /><line x1="496.03" y1="217" x2="496.03" y2="292.55" stroke="#b8b8b8" stroke-width="0.7" /><line x1="503.17" y1="208" x2="503.17" y2="283.45" stroke="#b8b8b8" stroke-width="0.7" />
<path d="M446.67,348.44 L447.01,345.35 L447.35,337.55 L447.7,332.4 L448.04,318.81 L448.38,307.98 L448.73,297.25 L449.07,283.12 L449.41,287.8 L449.76,287.16 L450.1,289.08 L450.44,290.27 L450.78,299.57 L451.13,303.02 L451.47,312.31 L451.81,314.68 L452.16,314.25 L452.5,319.29 L452.84,320.78 L453.19,321.79 L453.53,327.02 L453.87,327.63 L454.22,327.83 L454.56,330.77 L454.9,331.12 L455.25,331.61 L455.59,333.29 L455.93,333.92 L456.28,334.59 L456.62,334.37 L456.96,335.03 L457.31,337.41 L457.65,338.45 L457.99,337.81 L458.34,338.74 L458.68,339.52 L459.02,340.87 L459.36,340.33 L459.71,340.67 L460.05,342.85 L460.39,341.49 L460.74,342.57 L461.08,343.36 L461.42,344.19 L461.77,343.8 L462.11,343.95 L462.45,344.42 L462.8,345.14 L463.14,345.38 L463.48,344.58 L463.83,345.12 L464.17,345.15 L464.51,345.08 L464.86,345.08 L465.2,344.56 L465.54,345.36 L465.89,345.29 L466.23,345.4 L466.57,344.56 L466.92,344.28 L467.26,344.51 L467.6,343.99 L467.94,343.9 L468.29,343.02 L468.63,344.3 L468.97,343.79 L469.32,344.52 L469.66,345.15 L470,345.35 L470.35,345.76 L470.69,346.26 L471.03,346.6 L471.38,346.8 L471.72,346.86 L472.06,346.54 L472.41,346.59 L472.75,345.97 L473.09,345.57 L473.44,345.9 L473.78,345.72 L474.12,344.8 L474.47,345.1 L474.81,344.76 L475.15,344.81 L475.5,344.47 L475.84,343.95 L476.18,344.1 L476.52,345.18 L476.87,345.48 L477.21,345.67 L477.55,345.98 L477.9,345.91 L478.24,347.25 L478.58,346.27 L478.93,347.47 L479.27,346.88 L479.61,347.98 L479.96,347.8 L480.3,347.59 L480.64,348.1 L480.99,347.85 L481.33,347.7 L481.67,348.8 L482.02,349.12 L482.36,349.33 L482.7,349.58 L483.05,349.24 L483.39,349.85 L483.73,350.1 L484.08,349.7 L484.42,348.97 L484.76,349.55 L485.1,350.21 L485.45,350.14 L485.79,349.59 L486.13,349.89 L486.48,350.18 L486.82,349.68 L487.16,350.04 L487.51,350.35 L487.85,350.26 L488.19,350.2 L488.54,349.9 L488.88,350.8 L489.22,350.5 L489.57,350.6 L489.91,351.25 L490.25,350.81 L490.6,351.18 L490.94,350.6 L491.28,350.74 L491.63,350.6 L491.97,350.64 L492.31,351.34 L492.66,350.8 L493,350.66 L493.34,350.51 L493.68,350.86 L494.03,351.1 L494.37,350.83 L494.71,350.46 L495.06,350.87 L495.4,351.57 L495.74,350.81 L496.09,350.99 L496.43,351.02 L496.77,351.18 L497.12,351.04 L497.46,351.03 L497.8,351.58 L498.15,350.82 L498.49,351.21 L498.83,351.17 L499.18,351.27 L499.52,350.65 L499.86,350.8 L500.21,350.65 L500.55,351.28 L500.89,351.66 L501.24,351.29 L501.58,350.81 L501.92,350.77 L502.26,351.51 L502.61,350.78 L502.95,351.72 L503.29,351.27 L503.64,351.2 L503.98,350.73 L504.32,351.9 L504.67,351.77 L505.01,351.94 L505.35,351.61 L505.7,351.95 L506.04,351.14 L506.38,351.68 L506.73,351.52 L507.07,350.58 L507.41,351.12 L507.76,351.48 L508.1,351.1 L508.44,351.07 L508.79,350.87 L509.13,351.54 L509.47,351.19 L509.82,351.28 L510.16,351.31 L510.5,351.42 L510.84,350.98 L511.19,351.01 L511.53,351.8 L511.87,351.5 L512.22,351.29 L512.56,350.97 L512.9,351.16 L513.25,350.94 L513.59,351.29 L513.93,351.4 L514.28,351.15 L514.62,350.75 L514.96,351.42 L515.31,351.32 L515.65,351.42 L515.99,351.21 L516.34,350.83 L516.68,351.15 L517.02,351.2 L517.37,351.26 L517.71,351.53 L518.05,351.2 L518.4,351.76 L518.74,351 L519.08,351.27 L519.42,350.88 L519.77,351.03 L520.11,351.04 L520.45,351.29 L520.8,350.68 L521.14,350.68 L521.48,351.4 L521.83,350.9 L522.17,350.41 L522.51,350.85 L522.86,351.21 L523.2,351.51 L523.54,350.39 L523.89,351.29 L524.23,351.48 L524.57,350.45 L524.92,350.58 L525.26,350.74 L525.6,350.61 L525.95,350.75 L526.29,350.53 L526.63,350.65 L526.98,350.58 L527.32,350.62 L527.66,350.42 L528,350.81 L528.35,350.49 L528.69,351.11 L529.03,350.65 L529.38,350.07 L529.72,350.49 L530.06,350.61 L530.41,350.52 L530.75,350.13 L531.09,350.61 L531.44,349.74 L531.78,350.27 L532.12,350.13 L532.47,349.55 L532.81,349.52 L533.15,350.34 L533.5,350.37 L533.84,350.22 L534.18,350.02 L534.53,349.66 L534.87,350.28 L535.21,349.98 L535.56,350.39 L535.9,349.45 L536.24,349.48 L536.58,350.54 L536.93,349.77 L537.27,349.89 L537.61,349.72 L537.96,349.66 L538.3,349.72 L538.64,349.52 L538.99,349.72 L539.33,349.18 L539.67,349.24 L540.02,350.22 L540.36,349.19 L540.7,349.46 L541.05,349.86 L541.39,349.56 L541.73,349.27 L542.08,348.99 L542.42,348.92 L542.76,349.44 L543.11,349.34 L543.45,348.86 L543.79,349.18 L544.14,349.31 L544.48,349.82 L544.82,348.92 L545.16,348.98 L545.51,349.19 L545.85,349.04 L546.19,349.54 L546.54,348.81 L546.88,348.48 L547.22,348.55 L547.57,349.2 L547.91,349.11 L548.25,349.02 L548.6,348.96 L548.94,348.62 L549.28,348.46 L549.63,349 L549.97,348.87 L550.31,349.1 L550.66,347.98 L551,349.02 L551.34,348.15 L551.69,348.49 L552.03,348.43 L552.37,348.37 L552.72,348.77 L553.06,348.18 L553.4,348.99 L553.74,348.57 L554.09,348.03 L554.43,348.35 L554.77,348.82 L555.12,348.63 L555.46,348.59 L555.8,347.77 L556.15,348.35 L556.49,348.32 L556.83,348.1 L557.18,347.92 L557.52,348.31 L557.86,348.21 L558.21,348.61 L558.55,348.24 L558.89,348.88 L559.24,348.1 L559.58,347.99 L559.92,348.56 L560.27,348.42 L560.61,348.44 L560.95,348.74 L561.3,347.9 L561.64,348.48 L561.98,348.69 L562.32,348.38 L562.67,347.99 L563.01,348.43 L563.35,348.1 L563.7,348.25 L564.04,348.26 L564.38,348.19 L564.73,347.82 L565.07,347.81 L565.41,347.94 L565.76,348.19 L566.1,348.4 L566.44,348.54 L566.79,347.62 L567.13,347.93 L567.47,348.34 L567.82,348.13 L568.16,348.19 L568.5,347.79 L568.85,347.84 L569.19,349.02 L569.53,348 L569.88,348.48 L570.22,348.39 L570.56,348.78 L570.9,348.62 L571.25,348.59 L571.59,348.28 L571.93,348.76 L572.28,349.08 L572.62,348.58 L572.96,348.71 L573.31,348.76 L573.65,348.5 L573.99,349.18 L574.34,349.31 L574.68,348.64 L575.02,348.56 L575.37,348.42 L575.71,348.68 L576.05,348.35 L576.4,349.01 L576.74,348.28 L577.08,348.33 L577.43,348.81 L577.77,348.95 L578.11,349.21 L578.46,348.91 L578.8,349.21 L579.14,348.91 L579.48,348.66 L579.83,348.89 L580.17,349.63 L580.51,349.64 L580.86,348.77 L581.2,349.04 L581.54,348.81 L581.89,348.64 L582.23,349.33 L582.57,349.34 L582.92,349.72 L583.26,349.13 L583.6,349.95 L583.95,349.69 L584.29,349.85 L584.63,350.19 L584.98,349.89 L585.32,349.39 L585.66,349.26 L586.01,349.36 L586.35,349.79 L586.69,349.49 L587.04,349.88 L587.38,349.57 L587.72,350.08 L588.06,350.23 L588.41,350.05 L588.75,349.7 L589.09,349.43 L589.44,349.79 L589.78,350.78 L590.12,350.02 L590.47,350.33 L590.81,350.38 L591.15,350.23 L591.5,350.33 L591.84,350.08 L592.18,350.12 L592.53,350.48 L592.87,350.61 L593.21,349.89 L593.56,350.44 L593.9,350.96 L594.24,350.34 L594.59,349.93 L594.93,350.24 L595.27,350.01 L595.62,350.86 L595.96,350.7 L596.3,350.09 L596.64,350.91 L596.99,351.39 L597.33,350.35 L597.67,351.08 L598.02,350.25 L598.36,350.46 L598.7,351.35 L599.05,351.54 L599.39,350.88 L599.73,351.35 L600.08,350.93 L600.42,350.64 L600.76,351.33 L601.11,350.88 L601.45,350.87 L601.79,351.45 L602.14,351.15 L602.48,351.36 L602.82,351.17 L603.17,351.07 L603.51,351.43 L603.85,351.13 L604.2,351.35 L604.54,351.18 L604.88,351.4 L605.22,351.57 L605.57,352.12 L605.91,351.96 L606.25,352.18 L606.6,350.87 L606.94,351.41 L607.28,351.84 L607.63,351.83 L607.97,351.37 L608.27,349.37 L608.47,351.67" fill="none" stroke="#1c1c1c" stroke-width="1.0" stroke-linejoin="round" />
<path d="M450.24,344.25 L450.58,340.61 L450.93,333.74 L451.27,326.87 L451.61,315.88 L451.96,304.09 L452.3,289.48 L452.64,278.96 L452.99,279.03 L453.33,278.15 L453.67,286.29 L454.01,289.54 L454.36,294.91 L454.7,299.26 L455.04,308.18 L455.39,308.3 L455.73,312.59 L456.07,313.63 L456.42,315.86 L456.76,316.39 L457.1,318.95 L457.45,320.58 L457.79,322.45 L458.13,322.27 L458.48,326.04 L458.82,326.2 L459.16,328.58 L459.51,327.09 L459.85,330.4 L460.19,329.29 L460.54,332.91 L460.88,331.16 L461.22,333.94 L461.57,333.17 L461.91,333.45 L462.25,334.68 L462.59,335.88 L462.94,337.06 L463.28,336.69 L463.62,337.17 L463.97,336.41 L464.31,337.84 L464.65,338.09 L465,338.78 L465.34,339.04 L465.68,338.81 L466.03,338.62 L466.37,339.76 L466.71,340.41 L467.06,340.68 L467.4,340.73 L467.74,339.97 L468.09,339.91 L468.43,341.45 L468.77,340.8 L469.12,341.11 L469.46,340.54 L469.8,340.15 L470.15,339.17 L470.49,339 L470.83,339.6 L471.17,339.02 L471.52,339.65 L471.86,338.61 L472.2,339.03 L472.55,339.38 L472.89,339.72 L473.23,340.08 L473.58,340.66 L473.92,340.8 L474.26,340.89 L474.61,341.36 L474.95,341.75 L475.29,341.83 L475.64,341.33 L475.98,341.68 L476.32,341.28 L476.67,340.78 L477.01,340.43 L477.35,339.49 L477.7,340.29 L478.04,340.41 L478.38,339.47 L478.73,338.87 L479.07,338.5 L479.41,338.58 L479.75,339.24 L480.1,338.91 L480.44,339.82 L480.78,339.84 L481.13,340.33 L481.47,341.57 L481.81,341.65 L482.16,341.57 L482.5,341.67 L482.84,342.27 L483.19,342.39 L483.53,342.41 L483.87,342.66 L484.22,342.49 L484.56,343.4 L484.9,343.49 L485.25,343.72 L485.59,343.55 L485.93,344.21 L486.28,344.64 L486.62,344.26 L486.96,344.64 L487.31,344.19 L487.65,344.11 L487.99,345.25 L488.33,344.54 L488.68,344.67 L489.02,344.31 L489.36,344.6 L489.71,345.63 L490.05,344.65 L490.39,344.59 L490.74,345.46 L491.08,344.59 L491.42,345.72 L491.77,345.4 L492.11,345.79 L492.45,344.87 L492.8,345.14 L493.14,345.26 L493.48,345.67 L493.83,345.69 L494.17,345.42 L494.51,345.77 L494.86,345.64 L495.2,345.57 L495.54,345.94 L495.89,345.74 L496.23,345.95 L496.57,346.41 L496.91,345.31 L497.26,346.04 L497.6,346.08 L497.94,346.23 L498.29,346.4 L498.63,346.37 L498.97,345.66 L499.32,345.9 L499.66,346.14 L500,345.8 L500.35,346.19 L500.69,346.28 L501.03,346.1 L501.38,346.04 L501.72,346.56 L502.06,346.58 L502.41,346.09 L502.75,345.73 L503.09,346.32 L503.44,346.8 L503.78,346.13 L504.12,346.44 L504.47,346.47 L504.81,347.08 L505.15,345.77 L505.49,346.3 L505.84,346.91 L506.18,347.19 L506.52,346.03 L506.87,346.78 L507.21,346.93 L507.55,347.05 L507.9,346.84 L508.24,346.46 L508.58,346.35 L508.93,346.37 L509.27,346.41 L509.61,346.69 L509.96,346.46 L510.3,346.71 L510.64,346 L510.99,346.76 L511.33,346.38 L511.67,347.04 L512.02,346.27 L512.36,346.53 L512.7,346.44 L513.05,346.37 L513.39,346.48 L513.73,346.42 L514.07,346.38 L514.42,346.81 L514.76,346.43 L515.1,346.52 L515.45,346.98 L515.79,345.99 L516.13,346.54 L516.48,346.45 L516.82,346.65 L517.16,346.48 L517.51,346.39 L517.85,346.42 L518.19,346.25 L518.54,347.16 L518.88,345.85 L519.22,346.13 L519.57,346.48 L519.91,346.57 L520.25,346.74 L520.6,346.99 L520.94,346.24 L521.28,345.92 L521.63,346.65 L521.97,346.3 L522.31,347.12 L522.65,346.69 L523,346.42 L523.34,346.71 L523.68,346.08 L524.03,346.36 L524.37,346.84 L524.71,345.84 L525.06,346.91 L525.4,345.82 L525.74,345.93 L526.09,346.01 L526.43,345.73 L526.77,346.64 L527.12,346.29 L527.46,345.96 L527.8,346.05 L528.15,345.58 L528.49,345.9 L528.83,346.38 L529.18,346.47 L529.52,345.81 L529.86,346.33 L530.21,346.04 L530.55,346.39 L530.89,345.75 L531.23,345.78 L531.58,346.5 L531.92,346.13 L532.26,346 L532.61,345.97 L532.95,345.93 L533.29,345.89 L533.64,346.13 L533.98,345.63 L534.32,346.03 L534.67,346.41 L535.01,345.91 L535.35,345.65 L535.7,345.4 L536.04,346.06 L536.38,345.51 L536.73,345.68 L537.07,345.03 L537.41,345.55 L537.76,345.4 L538.1,344.85 L538.44,345.73 L538.79,346.07 L539.13,346.04 L539.47,345.96 L539.81,345.55 L540.16,345.75 L540.5,344.9 L540.84,345.21 L541.19,345.14 L541.53,345.13 L541.87,345.66 L542.22,344.41 L542.56,344.64 L542.9,344.62 L543.25,345.03 L543.59,345.3 L543.93,345.29 L544.28,344.34 L544.62,344.5 L544.96,344.77 L545.31,345.08 L545.65,344.67 L545.99,344.58 L546.34,344.99 L546.68,344.88 L547.02,344.84 L547.37,344.81 L547.71,345.09 L548.05,345.01 L548.39,343.92 L548.74,344.14 L549.08,344.44 L549.42,344.57 L549.77,344.65 L550.11,344.86 L550.45,344.26 L550.8,344.67 L551.14,344.04 L551.48,344.91 L551.83,344.26 L552.17,344.34 L552.51,344.51 L552.86,344.12 L553.2,344.09 L553.54,343.45 L553.89,344.23 L554.23,343.59 L554.57,344.2 L554.92,344.08 L555.26,343.95 L555.6,343.93 L555.95,344.2 L556.29,343.94 L556.63,343.98 L556.97,343.23 L557.32,343.95 L557.66,344.1 L558,343.75 L558.35,343.16 L558.69,343.92 L559.03,343.72 L559.38,344.22 L559.72,343.47 L560.06,343.48 L560.41,343.31 L560.75,343.5 L561.09,343.23 L561.44,343.26 L561.78,343.81 L562.12,343.52 L562.47,343.9 L562.81,343 L563.15,343.87 L563.5,343.89 L563.84,343.61 L564.18,343.2 L564.53,343.99 L564.87,343.86 L565.21,343.85 L565.55,343.05 L565.9,343.57 L566.24,343.6 L566.58,343.7 L566.93,342.97 L567.27,343.93 L567.61,343.27 L567.96,343.33 L568.3,343.9 L568.64,343.4 L568.99,343.33 L569.33,343.89 L569.67,343.28 L570.02,343.81 L570.36,344.1 L570.7,343.82 L571.05,343.55 L571.39,344.05 L571.73,343.59 L572.08,343.61 L572.42,344.07 L572.76,343.82 L573.11,344.02 L573.45,343.95 L573.79,343.81 L574.13,343.76 L574.48,344 L574.82,344.05 L575.16,343.77 L575.51,344.39 L575.85,343.93 L576.19,343.81 L576.54,343.78 L576.88,344.07 L577.22,343.66 L577.57,343.94 L577.91,343.84 L578.25,344.55 L578.6,344.56 L578.94,344.69 L579.28,344.44 L579.63,344.36 L579.97,344.77 L580.31,344.28 L580.66,344.32 L581,344.7 L581.34,344.65 L581.69,344.32 L582.03,344.33 L582.37,344.29 L582.71,344.35 L583.06,344.92 L583.4,344.47 L583.74,344.93 L584.09,344.49 L584.43,344.48 L584.77,344.29 L585.12,344.93 L585.46,345.15 L585.8,345.07 L586.15,344.76 L586.49,344.97 L586.83,344.49 L587.18,345.37 L587.52,345.07 L587.86,345.31 L588.21,345.08 L588.55,345.05 L588.89,345.16 L589.24,345.11 L589.58,345.01 L589.92,344.81 L590.27,345.09 L590.61,345.62 L590.95,345.4 L591.29,345.1 L591.64,345.44 L591.98,344.99 L592.32,345.36 L592.67,345.41 L593.01,345.11 L593.35,346.09 L593.7,345.21 L594.04,345.19 L594.38,345.77 L594.73,345.74 L595.07,345.66 L595.41,345.57 L595.76,345.96 L596.1,345.75 L596.44,345.72 L596.79,346.29 L597.13,346.17 L597.47,345.73 L597.82,346.36 L598.16,345.85 L598.5,346.36 L598.85,346.23 L599.19,346.48 L599.53,346.42 L599.87,346.25 L600.22,346.25 L600.56,346.49 L600.9,345.95 L601.25,346.24 L601.59,346.32 L601.93,346.65 L602.28,346.53 L602.62,346.03 L602.96,346.61 L603.31,346.31 L603.65,346.82 L603.99,346.37 L604.34,345.92 L604.68,346.05 L605.02,347.01 L605.37,346.4 L605.71,347.22 L606.05,346.77 L606.4,346.27 L606.74,346.68 L607.08,347.19 L607.43,346.33 L607.77,346.94 L608.11,346.77 L608.45,346.92 L608.8,346.75 L609.14,347.27 L609.48,346.62 L609.83,346.79 L610.17,347.43 L610.51,346.85 L610.86,347.35 L611.2,347.27 L611.54,346.86 L611.84,344.86 L612.04,347.16" fill="none" stroke="#1c1c1c" stroke-width="1.0" stroke-linejoin="round" />
<path d="M453.81,339.62 L454.16,336.53 L454.5,331.75 L454.84,321.42 L455.19,310.07 L455.53,299.84 L455.87,291.2 L456.22,274.44 L456.56,273.45 L456.9,271.76 L457.25,283.09 L457.59,289.04 L457.93,293.87 L458.27,294.25 L458.62,301.29 L458.96,305.99 L459.3,305.66 L459.65,307.17 L459.99,309.17 L460.33,312.51 L460.68,314.11 L461.02,315.88 L461.36,319.38 L461.71,320.02 L462.05,321.82 L462.39,321.62 L462.74,321.8 L463.08,324.44 L463.42,325.07 L463.77,324.59 L464.11,324.91 L464.45,326.24 L464.8,327.93 L465.14,327.86 L465.48,329.94 L465.83,328.1 L466.17,329.4 L466.51,332.1 L466.85,331.12 L467.2,331.08 L467.54,333.32 L467.88,332.57 L468.23,333.89 L468.57,333.17 L468.91,334.07 L469.26,333.87 L469.6,334.77 L469.94,334.75 L470.29,334.37 L470.63,335.46 L470.97,334.86 L471.32,334.87 L471.66,336.14 L472,336.17 L472.35,336.66 L472.69,335.22 L473.03,335.07 L473.38,335.75 L473.72,335.14 L474.06,334.51 L474.41,334.95 L474.75,333.46 L475.09,333.57 L475.43,334.34 L475.78,333.75 L476.12,334.46 L476.46,334.81 L476.81,334.47 L477.15,335.08 L477.49,335.55 L477.84,336.44 L478.18,336.44 L478.52,337.03 L478.87,336.28 L479.21,336.33 L479.55,336.43 L479.9,335.99 L480.24,335.88 L480.58,335.5 L480.93,334.81 L481.27,334.08 L481.61,334.09 L481.96,333.93 L482.3,333.33 L482.64,333.31 L482.99,333.19 L483.33,334.1 L483.67,333.68 L484.01,334.58 L484.36,334.48 L484.7,335.62 L485.04,335.02 L485.39,335.96 L485.73,336.6 L486.07,337.18 L486.42,336.98 L486.76,337.73 L487.1,337.5 L487.45,336.99 L487.79,337.58 L488.13,337.96 L488.48,338.52 L488.82,338.06 L489.16,338.7 L489.51,338.44 L489.85,338.63 L490.19,338.61 L490.54,339.51 L490.88,339.54 L491.22,339.07 L491.57,340.08 L491.91,339.26 L492.25,340.37 L492.59,339.59 L492.94,340.49 L493.28,340.2 L493.62,339.87 L493.97,340.24 L494.31,340.74 L494.65,340.02 L495,340.73 L495.34,340.22 L495.68,340.92 L496.03,339.91 L496.37,340.65 L496.71,340.45 L497.06,340.56 L497.4,341.11 L497.74,340.53 L498.09,341 L498.43,341.46 L498.77,340.57 L499.12,341.4 L499.46,340.62 L499.8,341.45 L500.15,341.1 L500.49,341.83 L500.83,341.33 L501.17,340.59 L501.52,341.42 L501.86,341.29 L502.2,341.06 L502.55,341.19 L502.89,340.82 L503.23,340.98 L503.58,341.59 L503.92,341.33 L504.26,342.22 L504.61,340.98 L504.95,341.16 L505.29,341.6 L505.64,341.51 L505.98,341.15 L506.32,341.91 L506.67,341.35 L507.01,342.2 L507.35,341.32 L507.7,342.3 L508.04,342.1 L508.38,342.21 L508.73,341.85 L509.07,341.71 L509.41,341.34 L509.75,341.86 L510.1,342.04 L510.44,341.73 L510.78,341.3 L511.13,341.82 L511.47,341.51 L511.81,341.57 L512.16,342.07 L512.5,341.43 L512.84,341.91 L513.19,341.55 L513.53,341.52 L513.87,341.74 L514.22,341.84 L514.56,341.76 L514.9,342.25 L515.25,341.37 L515.59,341.63 L515.93,342.46 L516.28,341.86 L516.62,342.3 L516.96,341.22 L517.31,342.14 L517.65,342.05 L517.99,341.67 L518.33,341.84 L518.68,341.97 L519.02,342.18 L519.36,341.53 L519.71,342.03 L520.05,341.92 L520.39,342.45 L520.74,342.11 L521.08,341.77 L521.42,341.8 L521.77,342.13 L522.11,341.78 L522.45,341.88 L522.8,342.46 L523.14,341.91 L523.48,341.86 L523.83,341.55 L524.17,342.01 L524.51,341.9 L524.86,341.39 L525.2,341.76 L525.54,341.67 L525.89,341.66 L526.23,341.43 L526.57,341.93 L526.91,341.84 L527.26,341.98 L527.6,342.32 L527.94,341.96 L528.29,342.39 L528.63,341.38 L528.97,342.13 L529.32,341.75 L529.66,341.82 L530,341.56 L530.35,342.3 L530.69,341.36 L531.03,341.23 L531.38,341.24 L531.72,341.75 L532.06,341.57 L532.41,341.03 L532.75,341.6 L533.09,341.05 L533.44,341.37 L533.78,341.58 L534.12,341.76 L534.47,341.29 L534.81,341.54 L535.15,340.78 L535.49,341.07 L535.84,341.63 L536.18,341.1 L536.52,341.45 L536.87,341.36 L537.21,341.13 L537.55,341.4 L537.9,341.15 L538.24,340.7 L538.58,340.89 L538.93,341.11 L539.27,340.7 L539.61,340.35 L539.96,340.6 L540.3,340.96 L540.64,340.69 L540.99,340.98 L541.33,340.95 L541.67,340.95 L542.02,340.32 L542.36,340.61 L542.7,340.33 L543.05,340.13 L543.39,340.86 L543.73,341.06 L544.07,340.83 L544.42,340.3 L544.76,340.01 L545.1,340.6 L545.45,340.13 L545.79,340.8 L546.13,340.58 L546.48,339.93 L546.82,340.52 L547.16,340.25 L547.51,340.27 L547.85,340.5 L548.19,340.5 L548.54,340.47 L548.88,340.17 L549.22,340.39 L549.57,340.08 L549.91,340.33 L550.25,339.74 L550.6,340.35 L550.94,340.25 L551.28,340.69 L551.63,340.04 L551.97,340.63 L552.31,340.03 L552.65,339.84 L553,339.66 L553.34,339.92 L553.68,339.57 L554.03,339.41 L554.37,339.94 L554.71,339.66 L555.06,339.25 L555.4,339.58 L555.74,339.76 L556.09,339.98 L556.43,339.46 L556.77,339.71 L557.12,339.51 L557.46,339.69 L557.8,340.17 L558.15,339.57 L558.49,340.12 L558.83,339.26 L559.18,339.8 L559.52,339.45 L559.86,339.29 L560.21,339.18 L560.55,339.92 L560.89,339.06 L561.23,339.83 L561.58,339.49 L561.92,339.03 L562.26,339.35 L562.61,339.64 L562.95,339.47 L563.29,338.53 L563.64,338.93 L563.98,338.86 L564.32,339.83 L564.67,339.29 L565.01,338.89 L565.35,338.49 L565.7,339.17 L566.04,339.64 L566.38,339.36 L566.73,338.98 L567.07,339.49 L567.41,339.05 L567.76,339.29 L568.1,339.38 L568.44,339.11 L568.79,338.63 L569.13,338.95 L569.47,339.74 L569.81,338.8 L570.16,339.67 L570.5,338.73 L570.84,339.06 L571.19,339.5 L571.53,339.12 L571.87,339.32 L572.22,339.76 L572.56,339.59 L572.9,339.74 L573.25,338.84 L573.59,339.25 L573.93,339.2 L574.28,338.73 L574.62,338.87 L574.96,339.34 L575.31,339.71 L575.65,339.4 L575.99,338.88 L576.34,338.91 L576.68,339.3 L577.02,339.65 L577.37,339.79 L577.71,338.78 L578.05,339.51 L578.39,339.16 L578.74,339.02 L579.08,339.24 L579.42,339.22 L579.77,339.2 L580.11,339.28 L580.45,339.93 L580.8,339.34 L581.14,339.58 L581.48,339.56 L581.83,339.67 L582.17,340.25 L582.51,339.56 L582.86,339.39 L583.2,339 L583.54,340.36 L583.89,339.41 L584.23,339.29 L584.57,340.08 L584.92,339.6 L585.26,339.89 L585.6,340.03 L585.95,339.64 L586.29,339.74 L586.63,340.15 L586.97,340.04 L587.32,339.92 L587.66,339.86 L588,339.91 L588.35,339.59 L588.69,340.26 L589.03,340.42 L589.38,340.26 L589.72,340.51 L590.06,339.86 L590.41,340.03 L590.75,340.15 L591.09,341.07 L591.44,340.32 L591.78,340.81 L592.12,340.92 L592.47,340.9 L592.81,341.21 L593.15,340.82 L593.5,340.96 L593.84,340.1 L594.18,340.83 L594.53,341.42 L594.87,341.11 L595.21,341.05 L595.55,340.67 L595.9,341.07 L596.24,340.67 L596.58,341.38 L596.93,341.17 L597.27,340.99 L597.61,341.74 L597.96,341.51 L598.3,341.14 L598.64,341.7 L598.99,341.82 L599.33,341.54 L599.67,340.62 L600.02,341.07 L600.36,341.53 L600.7,341.43 L601.05,341.47 L601.39,341.44 L601.73,341.61 L602.08,341.37 L602.42,341.58 L602.76,340.94 L603.11,341.57 L603.45,341.7 L603.79,341.91 L604.13,341.73 L604.48,341.75 L604.82,341.39 L605.16,341.57 L605.51,341.96 L605.85,342.32 L606.19,341.78 L606.54,341.68 L606.88,341.45 L607.22,342.01 L607.57,342.23 L607.91,341.98 L608.25,341.58 L608.6,342.17 L608.94,341.99 L609.28,342 L609.63,342.28 L609.97,342.01 L610.31,341.93 L610.66,341.95 L611,342.15 L611.34,342.24 L611.69,342.22 L612.03,342.3 L612.37,341.68 L612.71,341.81 L613.06,342.15 L613.4,342.87 L613.74,342.78 L614.09,342.71 L614.43,342.43 L614.77,343.15 L615.12,342.53 L615.42,340.53 L615.62,342.83" fill="none" stroke="#1c1c1c" stroke-width="1.0" stroke-linejoin="round" />
<path d="M457.39,334.24 L457.73,331.23 L458.07,325.21 L458.42,318.2 L458.76,306.48 L459.1,294.94 L459.45,286.17 L459.79,275.2 L460.13,275.68 L460.48,269.43 L460.82,275.57 L461.16,283.92 L461.5,288.35 L461.85,293.08 L462.19,298.71 L462.53,298.85 L462.88,302.74 L463.22,306.11 L463.56,308.62 L463.91,308.3 L464.25,310.25 L464.59,311.21 L464.94,313.15 L465.28,313.33 L465.62,316.37 L465.97,316.25 L466.31,318.44 L466.65,319.83 L467,319.82 L467.34,321.11 L467.68,322.1 L468.03,323.74 L468.37,322.51 L468.71,323.59 L469.06,325.03 L469.4,325.39 L469.74,324.72 L470.08,325.22 L470.43,325.29 L470.77,326.66 L471.11,327.07 L471.46,328.34 L471.8,328.37 L472.14,328.75 L472.49,327.77 L472.83,328.88 L473.17,329.06 L473.52,330.78 L473.86,330.03 L474.2,330.7 L474.55,329.33 L474.89,331.67 L475.23,331.4 L475.58,330.69 L475.92,330.25 L476.26,330.81 L476.61,330.11 L476.95,330.82 L477.29,329.34 L477.64,329.69 L477.98,329.39 L478.32,329.43 L478.66,328.72 L479.01,329.11 L479.35,328.87 L479.69,329.07 L480.04,329.72 L480.38,330.55 L480.72,330.89 L481.07,331.96 L481.41,331.62 L481.75,331.7 L482.1,331.13 L482.44,331.97 L482.78,331.25 L483.13,330.96 L483.47,331.02 L483.81,330.69 L484.16,330.19 L484.5,329.86 L484.84,329.33 L485.19,329.36 L485.53,328.42 L485.87,328.4 L486.22,327.76 L486.56,327.22 L486.9,327.72 L487.24,328.07 L487.59,328.57 L487.93,329.12 L488.27,329.29 L488.62,330.47 L488.96,331.12 L489.3,331.59 L489.65,330.9 L489.99,331.46 L490.33,331.33 L490.68,331.89 L491.02,332.54 L491.36,332.78 L491.71,333.24 L492.05,333.06 L492.39,333.02 L492.74,333.14 L493.08,333.38 L493.42,333.75 L493.77,334.77 L494.11,333.95 L494.45,335.07 L494.8,334.1 L495.14,334.37 L495.48,334.97 L495.82,335.01 L496.17,334.17 L496.51,334.95 L496.85,334.7 L497.2,335.47 L497.54,335 L497.88,335.68 L498.23,335.15 L498.57,335.32 L498.91,335.28 L499.26,335.44 L499.6,336 L499.94,336.36 L500.29,335.83 L500.63,336.31 L500.97,335.75 L501.32,336.5 L501.66,336.11 L502,336.55 L502.35,336.34 L502.69,335.93 L503.03,336.4 L503.38,336.16 L503.72,336.66 L504.06,337.06 L504.4,336.21 L504.75,336.67 L505.09,336.76 L505.43,337.27 L505.78,336.24 L506.12,336.54 L506.46,336.99 L506.81,336.41 L507.15,336.85 L507.49,336.2 L507.84,336.46 L508.18,336.54 L508.52,336.36 L508.87,336.85 L509.21,336.88 L509.55,337.58 L509.9,337.22 L510.24,336.81 L510.58,336.84 L510.93,336.72 L511.27,337.03 L511.61,337.33 L511.96,336.97 L512.3,337.08 L512.64,336.86 L512.98,336.71 L513.33,336.41 L513.67,337.55 L514.01,337.58 L514.36,336.95 L514.7,337.28 L515.04,337.06 L515.39,336.51 L515.73,337.54 L516.07,336.7 L516.42,337.2 L516.76,337.63 L517.1,336.84 L517.45,337.89 L517.79,337.62 L518.13,336.55 L518.48,337.43 L518.82,337.06 L519.16,336.75 L519.51,337.52 L519.85,337.6 L520.19,337.63 L520.54,336.74 L520.88,337.28 L521.22,336.55 L521.56,337.64 L521.91,337.04 L522.25,337.57 L522.59,337.25 L522.94,336.83 L523.28,337.66 L523.62,337.52 L523.97,337.17 L524.31,337.3 L524.65,337.57 L525,336.85 L525.34,337.1 L525.68,337.46 L526.03,336.99 L526.37,337.39 L526.71,336.73 L527.06,337.33 L527.4,337.69 L527.74,336.99 L528.09,337.19 L528.43,337.08 L528.77,337.83 L529.12,337.5 L529.46,336.73 L529.8,336.89 L530.14,337.65 L530.49,337.04 L530.83,337.33 L531.17,336.95 L531.52,337.3 L531.86,336.98 L532.2,337.08 L532.55,337.74 L532.89,336.68 L533.23,336.49 L533.58,337.17 L533.92,336.88 L534.26,337.12 L534.61,337 L534.95,337.19 L535.29,337.38 L535.64,336.74 L535.98,336.68 L536.32,337.03 L536.67,336.9 L537.01,336.36 L537.35,336.78 L537.7,336.33 L538.04,336.31 L538.38,336.55 L538.72,336.97 L539.07,336.55 L539.41,336.6 L539.75,336.46 L540.1,336.81 L540.44,336.33 L540.78,336.31 L541.13,336.16 L541.47,335.87 L541.81,336.9 L542.16,336.31 L542.5,336.6 L542.84,336.58 L543.19,336.56 L543.53,336.33 L543.87,337.05 L544.22,336.17 L544.56,336.01 L544.9,336.79 L545.25,336.12 L545.59,336.16 L545.93,336.05 L546.28,335.95 L546.62,336.34 L546.96,336.49 L547.3,336 L547.65,336.16 L547.99,335.92 L548.33,335.55 L548.68,335.83 L549.02,336.04 L549.36,336.19 L549.71,335.59 L550.05,336.03 L550.39,336.11 L550.74,335.88 L551.08,336.14 L551.42,335.89 L551.77,335.77 L552.11,335.38 L552.45,335.66 L552.8,335.63 L553.14,336.13 L553.48,335.25 L553.83,335.85 L554.17,335.08 L554.51,335.96 L554.86,335.43 L555.2,335.59 L555.54,335.53 L555.88,335.54 L556.23,335.6 L556.57,334.76 L556.91,335.17 L557.26,335.28 L557.6,335.69 L557.94,335.08 L558.29,335.22 L558.63,335.13 L558.97,334.88 L559.32,335.47 L559.66,335.21 L560,335.58 L560.35,335.37 L560.69,335.09 L561.03,334.39 L561.38,335.16 L561.72,334.9 L562.06,335.33 L562.41,335.07 L562.75,334.33 L563.09,334.43 L563.44,334.69 L563.78,335.1 L564.12,334.09 L564.46,335.2 L564.81,334.83 L565.15,334.71 L565.49,334.71 L565.84,335 L566.18,334.4 L566.52,335.29 L566.87,334.38 L567.21,334.11 L567.55,334.76 L567.9,334.34 L568.24,334.82 L568.58,334.41 L568.93,335.06 L569.27,334.6 L569.61,334.09 L569.96,334.66 L570.3,334.17 L570.64,334.09 L570.99,334.69 L571.33,334.38 L571.67,334.6 L572.02,334.24 L572.36,333.85 L572.7,334.19 L573.04,334.62 L573.39,334.27 L573.73,334.19 L574.07,334.3 L574.42,335.18 L574.76,334.84 L575.1,334.2 L575.45,334.96 L575.79,334.03 L576.13,334.14 L576.48,335.13 L576.82,334.74 L577.16,334.59 L577.51,334.74 L577.85,334.55 L578.19,334.35 L578.54,334.73 L578.88,334.57 L579.22,334.97 L579.57,335.32 L579.91,334.64 L580.25,334.37 L580.6,334.53 L580.94,335.3 L581.28,334.7 L581.62,334.49 L581.97,334.73 L582.31,334.29 L582.65,335.48 L583,334.88 L583.34,334.73 L583.68,335.2 L584.03,334.41 L584.37,335.09 L584.71,334.82 L585.06,335.18 L585.4,334.87 L585.74,335.24 L586.09,335.24 L586.43,334.47 L586.77,335.28 L587.12,334.97 L587.46,334.94 L587.8,334.72 L588.15,335.03 L588.49,334.91 L588.83,334.77 L589.18,335.35 L589.52,335.12 L589.86,335.56 L590.2,335.16 L590.55,335.25 L590.89,335.21 L591.23,335.61 L591.58,335.66 L591.92,335.75 L592.26,335.69 L592.61,335.97 L592.95,335.29 L593.29,336.19 L593.64,336.1 L593.98,335.53 L594.32,335.73 L594.67,335.56 L595.01,335.92 L595.35,336.05 L595.7,336.08 L596.04,335.97 L596.38,335.67 L596.73,335.88 L597.07,336.32 L597.41,336.56 L597.76,336.56 L598.1,335.89 L598.44,336.35 L598.78,336.49 L599.13,336.23 L599.47,336.67 L599.81,336.09 L600.16,336.22 L600.5,336.18 L600.84,336.18 L601.19,336.53 L601.53,336.87 L601.87,336.88 L602.22,336.47 L602.56,336.81 L602.9,336.61 L603.25,336.75 L603.59,336.91 L603.93,336.97 L604.28,336.47 L604.62,336.81 L604.96,336.63 L605.31,337.04 L605.65,336.51 L605.99,337.3 L606.34,337.31 L606.68,337.42 L607.02,337.25 L607.36,337.51 L607.71,337.02 L608.05,336.83 L608.39,337.07 L608.74,337.46 L609.08,337.05 L609.42,336.88 L609.77,336.98 L610.11,336.96 L610.45,337.88 L610.8,337.52 L611.14,337.57 L611.48,337.43 L611.83,337.4 L612.17,337.56 L612.51,337.33 L612.86,337.5 L613.2,337.11 L613.54,337.47 L613.89,337.75 L614.23,337.44 L614.57,338.06 L614.92,337.56 L615.26,337.67 L615.6,337.28 L615.94,338.05 L616.29,337.68 L616.63,337.39 L616.97,338.01 L617.32,338.34 L617.66,337.55 L618,337.58 L618.35,337.43 L618.69,337.61 L618.99,335.61 L619.19,337.91" fill="none" stroke="#1c1c1c" stroke-width="1.0" stroke-linejoin="round" />
<path d="M460.96,330.97 L461.3,327.11 L461.65,321.44 L461.99,313.08 L462.33,304.37 L462.68,292.44 L463.02,282.85 L463.36,266.32 L463.71,264.72 L464.05,268.25 L464.39,273.91 L464.73,280.1 L465.08,280.67 L465.42,288.26 L465.76,290.65 L466.11,294.82 L466.45,297.22 L466.79,300.77 L467.14,301.41 L467.48,302.98 L467.82,306.64 L468.17,307.99 L468.51,310.02 L468.85,311.59 L469.2,311.22 L469.54,312.31 L469.88,311.11 L470.23,312.99 L470.57,314.69 L470.91,316.82 L471.26,315.47 L471.6,316.09 L471.94,317.41 L472.29,318.19 L472.63,319.69 L472.97,319.41 L473.31,320.18 L473.66,320.83 L474,321.16 L474.34,321.7 L474.69,322.86 L475.03,322.21 L475.37,323.86 L475.72,324.33 L476.06,323.32 L476.4,324.16 L476.75,324.06 L477.09,323.9 L477.43,324.98 L477.78,325.65 L478.12,326.21 L478.46,324.99 L478.81,325.85 L479.15,324.95 L479.49,325.24 L479.84,326.16 L480.18,325.45 L480.52,325.48 L480.87,324.74 L481.21,325.19 L481.55,325.01 L481.89,325.09 L482.24,324.68 L482.58,325.23 L482.92,324.89 L483.27,324.69 L483.61,325.59 L483.95,325.28 L484.3,325.84 L484.64,326.67 L484.98,326.91 L485.33,327.27 L485.67,326.63 L486.01,327.15 L486.36,326.03 L486.7,326.03 L487.04,325.94 L487.39,325.5 L487.73,324.12 L488.07,325.25 L488.42,323.62 L488.76,323.59 L489.1,322.99 L489.45,323.63 L489.79,322.05 L490.13,322.23 L490.47,322 L490.82,323.06 L491.16,323.28 L491.5,323.55 L491.85,323.76 L492.19,324.99 L492.53,324.5 L492.88,325.17 L493.22,326.07 L493.56,326.13 L493.91,326.13 L494.25,326.69 L494.59,326.5 L494.94,327.81 L495.28,327.42 L495.62,327.76 L495.97,327.42 L496.31,328.89 L496.65,328.92 L497,329.26 L497.34,329.03 L497.68,328.69 L498.03,328.53 L498.37,329.76 L498.71,329.47 L499.05,330.27 L499.4,329.39 L499.74,329.61 L500.08,329.46 L500.43,329.98 L500.77,330.33 L501.11,330.73 L501.46,330.33 L501.8,329.82 L502.14,330.87 L502.49,330.29 L502.83,330.89 L503.17,330.82 L503.52,330.86 L503.86,330.33 L504.2,330.69 L504.55,330.94 L504.89,331.5 L505.23,331.76 L505.58,331.52 L505.92,331.2 L506.26,331.36 L506.61,331.51 L506.95,331.72 L507.29,331.71 L507.63,331.85 L507.98,332.2 L508.32,331.55 L508.66,332.07 L509.01,331.79 L509.35,331.67 L509.69,331.79 L510.04,332.12 L510.38,331.19 L510.72,331.86 L511.07,331.45 L511.41,332.37 L511.75,332.51 L512.1,332.27 L512.44,332.34 L512.78,331.8 L513.13,332.52 L513.47,332.09 L513.81,332.41 L514.16,331.6 L514.5,332.36 L514.84,331.83 L515.19,332.17 L515.53,332.21 L515.87,332.32 L516.21,332.06 L516.56,332.4 L516.9,332.53 L517.24,332.71 L517.59,332.35 L517.93,332.34 L518.27,332.68 L518.62,333.12 L518.96,332.29 L519.3,332.54 L519.65,332.86 L519.99,332.8 L520.33,332.44 L520.68,331.97 L521.02,332.74 L521.36,332.74 L521.71,332.48 L522.05,332.82 L522.39,332.25 L522.74,332.77 L523.08,332.15 L523.42,332.33 L523.77,332.36 L524.11,332.87 L524.45,332.86 L524.79,332.5 L525.14,333.05 L525.48,332.66 L525.82,332.39 L526.17,332.96 L526.51,332.19 L526.85,333.29 L527.2,331.9 L527.54,332.38 L527.88,332.65 L528.23,332.35 L528.57,332.97 L528.91,333.05 L529.26,332.33 L529.6,332.17 L529.94,332.67 L530.29,332.66 L530.63,332.79 L530.97,332.58 L531.32,333.02 L531.66,333.18 L532,332.56 L532.35,332.72 L532.69,332.06 L533.03,332.6 L533.37,332.22 L533.72,332.61 L534.06,332.62 L534.4,332.74 L534.75,332.97 L535.09,333.06 L535.43,332.15 L535.78,332.53 L536.12,332.19 L536.46,332.34 L536.81,333.09 L537.15,332.83 L537.49,332.4 L537.84,332.29 L538.18,332.53 L538.52,332.08 L538.87,331.64 L539.21,331.86 L539.55,332.29 L539.9,332.55 L540.24,331.78 L540.58,331.57 L540.93,332.18 L541.27,332.33 L541.61,332.27 L541.95,331.99 L542.3,331.99 L542.64,332.15 L542.98,332.22 L543.33,332.5 L543.67,332.37 L544.01,331.92 L544.36,331.82 L544.7,331.52 L545.04,331.77 L545.39,332.44 L545.73,331.87 L546.07,331.77 L546.42,332.12 L546.76,331.53 L547.1,331.97 L547.45,331.79 L547.79,331.54 L548.13,332.32 L548.48,331.03 L548.82,331.86 L549.16,331.77 L549.51,331.84 L549.85,331.45 L550.19,330.98 L550.53,331.21 L550.88,331.01 L551.22,332.04 L551.56,331.76 L551.91,331.45 L552.25,330.82 L552.59,331.43 L552.94,331.39 L553.28,331.52 L553.62,331.28 L553.97,330.93 L554.31,331.14 L554.65,331 L555,331.82 L555.34,330.9 L555.68,331.13 L556.03,330.89 L556.37,330.78 L556.71,330.94 L557.06,331.24 L557.4,331.32 L557.74,331.02 L558.09,331.55 L558.43,331.02 L558.77,330.77 L559.11,331.39 L559.46,330.56 L559.8,330.51 L560.14,331.27 L560.49,330.86 L560.83,330.57 L561.17,330.65 L561.52,330.58 L561.86,330.53 L562.2,330.66 L562.55,330.55 L562.89,329.93 L563.23,330.33 L563.58,330.24 L563.92,330.54 L564.26,330.19 L564.61,330.2 L564.95,330.31 L565.29,330.66 L565.64,330.77 L565.98,330.14 L566.32,329.72 L566.67,330.3 L567.01,330.61 L567.35,329.93 L567.69,330.03 L568.04,330.36 L568.38,329.68 L568.72,330.5 L569.07,330.14 L569.41,329.58 L569.75,330.5 L570.1,329.86 L570.44,329.87 L570.78,330.67 L571.13,329.97 L571.47,330.19 L571.81,330.01 L572.16,330.26 L572.5,329.86 L572.84,330.17 L573.19,329.87 L573.53,330.14 L573.87,329.76 L574.22,330.63 L574.56,329.7 L574.9,329.71 L575.25,329.89 L575.59,329.85 L575.93,330.1 L576.27,329.65 L576.62,329.67 L576.96,330.26 L577.3,330.21 L577.65,329.89 L577.99,329.37 L578.33,329.9 L578.68,329.84 L579.02,329.54 L579.36,329.77 L579.71,329.97 L580.05,329.98 L580.39,329.98 L580.74,330.66 L581.08,330.03 L581.42,330.26 L581.77,329.91 L582.11,330.6 L582.45,329.61 L582.8,330.48 L583.14,329.92 L583.48,330.46 L583.83,330.73 L584.17,329.95 L584.51,330.12 L584.85,329.98 L585.2,330.69 L585.54,330.17 L585.88,330.36 L586.23,329.98 L586.57,330.35 L586.91,330.4 L587.26,330.59 L587.6,330.34 L587.94,330.36 L588.29,330.63 L588.63,330.39 L588.97,330.71 L589.32,330.89 L589.66,329.97 L590,330.93 L590.35,330.52 L590.69,330.19 L591.03,330.8 L591.38,330.42 L591.72,330.85 L592.06,330.41 L592.41,330.87 L592.75,331.08 L593.09,330.41 L593.43,330.66 L593.78,331.28 L594.12,330.89 L594.46,331.07 L594.81,330.38 L595.15,331.43 L595.49,330.44 L595.84,331.28 L596.18,330.65 L596.52,330.6 L596.87,331.05 L597.21,331.12 L597.55,331.14 L597.9,331.44 L598.24,331.17 L598.58,331.41 L598.93,331.09 L599.27,331.4 L599.61,331.26 L599.96,331.65 L600.3,330.92 L600.64,331.19 L600.99,331.13 L601.33,331.66 L601.67,331.52 L602.01,331.39 L602.36,331.6 L602.7,331.12 L603.04,331.74 L603.39,332.37 L603.73,332.11 L604.07,331.99 L604.42,331.74 L604.76,331.98 L605.1,331.7 L605.45,331.74 L605.79,332.45 L606.13,331.79 L606.48,332.6 L606.82,332.39 L607.16,332.6 L607.51,332 L607.85,332.23 L608.19,331.84 L608.54,331.95 L608.88,332.85 L609.22,332.12 L609.57,332.35 L609.91,332.34 L610.25,332.72 L610.59,332.9 L610.94,332.7 L611.28,332.81 L611.62,332.6 L611.97,332.41 L612.31,333.04 L612.65,332.49 L613,332.56 L613.34,332.46 L613.68,332.45 L614.03,332.78 L614.37,333.16 L614.71,332.89 L615.06,333.58 L615.4,332.51 L615.74,332.82 L616.09,333.24 L616.43,332.57 L616.77,332.57 L617.12,332.59 L617.46,333.07 L617.8,333.2 L618.15,333.63 L618.49,333.46 L618.83,332.95 L619.17,332.95 L619.52,333.25 L619.86,333.32 L620.2,332.61 L620.55,333.29 L620.89,333.29 L621.23,333.85 L621.58,333.19 L621.92,334.05 L622.26,333.48 L622.56,331.48 L622.76,333.78" fill="none" stroke="#1c1c1c" stroke-width="1.0" stroke-linejoin="round" />
<path d="M464.53,325.71 L464.88,323.26 L465.22,317.27 L465.56,310.02 L465.91,298.03 L466.25,286.83 L466.59,277.66 L466.94,265.34 L467.28,263.84 L467.62,261.95 L467.97,273.35 L468.31,274.08 L468.65,279.17 L468.99,282.95 L469.34,289.38 L469.68,293.06 L470.02,293.75 L470.37,296.66 L470.71,298.94 L471.05,299.03 L471.4,301.52 L471.74,301.63 L472.08,304.87 L472.43,304.44 L472.77,306.56 L473.11,308.33 L473.46,307.68 L473.8,310.49 L474.14,308.79 L474.49,310.31 L474.83,311.2 L475.17,311.81 L475.52,313.2 L475.86,312.97 L476.2,314.11 L476.55,315.12 L476.89,315.35 L477.23,316.88 L477.57,315.13 L477.92,318.1 L478.26,318.17 L478.6,317.24 L478.95,318.14 L479.29,318.21 L479.63,318.09 L479.98,318.13 L480.32,320.68 L480.66,319.31 L481.01,320.1 L481.35,320.03 L481.69,320.88 L482.04,321 L482.38,321.53 L482.72,320.79 L483.07,321.27 L483.41,321.05 L483.75,321.1 L484.1,320.04 L484.44,320.42 L484.78,320.81 L485.13,319.68 L485.47,319.44 L485.81,319.91 L486.15,318.56 L486.5,319.61 L486.84,319.6 L487.18,320.08 L487.53,320.95 L487.87,320.32 L488.21,320.49 L488.56,321.59 L488.9,321.54 L489.24,322.03 L489.59,321.4 L489.93,321.91 L490.27,320.55 L490.62,321.23 L490.96,320.34 L491.3,319.39 L491.65,318.89 L491.99,318.48 L492.33,317.31 L492.68,318.18 L493.02,317.89 L493.36,316.67 L493.71,317.74 L494.05,316.94 L494.39,317.29 L494.73,317.88 L495.08,317.63 L495.42,319.13 L495.76,319.37 L496.11,320.08 L496.45,320.41 L496.79,320.73 L497.14,320.81 L497.48,321.51 L497.82,321.91 L498.17,321.82 L498.51,322.5 L498.85,322.33 L499.2,322.42 L499.54,323.13 L499.88,323.47 L500.23,323.26 L500.57,323.69 L500.91,324.71 L501.26,324.18 L501.6,323.74 L501.94,324.91 L502.29,323.84 L502.63,325.17 L502.97,325.2 L503.31,324.55 L503.66,325.34 L504,324.7 L504.34,325.26 L504.69,325.71 L505.03,325.9 L505.37,325.57 L505.72,326 L506.06,325.4 L506.4,325.77 L506.75,326.32 L507.09,326.29 L507.43,326.1 L507.78,326.38 L508.12,326.15 L508.46,325.94 L508.81,326.18 L509.15,326.79 L509.49,326.77 L509.84,326.21 L510.18,326.24 L510.52,326.66 L510.87,326.14 L511.21,327.09 L511.55,326.94 L511.89,326.52 L512.24,327.17 L512.58,327.1 L512.92,326.59 L513.27,327.2 L513.61,327.11 L513.95,326.95 L514.3,327.12 L514.64,326.99 L514.98,326.89 L515.33,326.54 L515.67,327.48 L516.01,326.6 L516.36,327.16 L516.7,327.53 L517.04,327.68 L517.39,326.83 L517.73,327.57 L518.07,327.36 L518.42,327.62 L518.76,327.81 L519.1,327.77 L519.45,327.74 L519.79,327.17 L520.13,327.61 L520.47,327.82 L520.82,328.18 L521.16,327.51 L521.5,327.3 L521.85,328.34 L522.19,327.98 L522.53,327.76 L522.88,327.14 L523.22,327.14 L523.56,328.28 L523.91,327.49 L524.25,327.67 L524.59,327.7 L524.94,327.91 L525.28,327.96 L525.62,328 L525.97,328.03 L526.31,327.54 L526.65,327.71 L527,327.69 L527.34,327.93 L527.68,327.75 L528.03,327.84 L528.37,327.43 L528.71,328.25 L529.05,327.63 L529.4,327.94 L529.74,327.87 L530.08,327.67 L530.43,328.46 L530.77,327.8 L531.11,328.21 L531.46,327.52 L531.8,327.89 L532.14,327.93 L532.49,327.75 L532.83,327.89 L533.17,328.39 L533.52,328.3 L533.86,328.27 L534.2,327.93 L534.55,327.73 L534.89,328.17 L535.23,328.13 L535.58,327.45 L535.92,328.6 L536.26,328.19 L536.61,327.85 L536.95,327.49 L537.29,328.11 L537.63,328.03 L537.98,327.85 L538.32,327.63 L538.66,328.52 L539.01,327.48 L539.35,327.64 L539.69,327.4 L540.04,327.75 L540.38,327.73 L540.72,327.79 L541.07,327.34 L541.41,327.68 L541.75,327.5 L542.1,327.66 L542.44,327.97 L542.78,328.17 L543.13,328.21 L543.47,327.5 L543.81,327.6 L544.16,327.25 L544.5,327.83 L544.84,327.69 L545.19,327.58 L545.53,327.67 L545.87,327.17 L546.21,327.75 L546.56,327.33 L546.9,327.76 L547.24,327.38 L547.59,327.43 L547.93,327.74 L548.27,327.66 L548.62,327.08 L548.96,327 L549.3,327.1 L549.65,327.39 L549.99,327.22 L550.33,327.15 L550.68,327.41 L551.02,327.6 L551.36,327.13 L551.71,326.45 L552.05,327.74 L552.39,327.5 L552.74,327.29 L553.08,326.9 L553.42,326.61 L553.77,326.41 L554.11,326.81 L554.45,327.09 L554.79,326.67 L555.14,327.01 L555.48,326.54 L555.82,327.21 L556.17,326.53 L556.51,326.38 L556.85,326.81 L557.2,326.44 L557.54,327.05 L557.88,326.33 L558.23,326.93 L558.57,326.62 L558.91,326.61 L559.26,326.79 L559.6,326.78 L559.94,325.98 L560.29,326.46 L560.63,326.4 L560.97,326.73 L561.32,326.28 L561.66,325.76 L562,326.25 L562.35,326.17 L562.69,325.9 L563.03,326.08 L563.37,325.63 L563.72,326.43 L564.06,325.58 L564.4,325.77 L564.75,326.27 L565.09,325.5 L565.43,325.98 L565.78,326.33 L566.12,325.27 L566.46,326.21 L566.81,325.62 L567.15,326.06 L567.49,325.55 L567.84,326.12 L568.18,325.85 L568.52,326.36 L568.87,325.51 L569.21,326.11 L569.55,325.36 L569.9,325.45 L570.24,325.71 L570.58,326.3 L570.93,325.29 L571.27,325.68 L571.61,325.95 L571.95,325.8 L572.3,325.71 L572.64,326.1 L572.98,325.14 L573.33,325.63 L573.67,325.91 L574.01,325.47 L574.36,325.61 L574.7,325.96 L575.04,325.06 L575.39,325.23 L575.73,325.04 L576.07,325.69 L576.42,325.01 L576.76,325.93 L577.1,325.31 L577.45,324.99 L577.79,325.23 L578.13,325.3 L578.48,325.66 L578.82,325.4 L579.16,325.32 L579.51,324.99 L579.85,325.22 L580.19,324.71 L580.53,325.66 L580.88,326.05 L581.22,325.07 L581.56,325.2 L581.91,325.34 L582.25,326.05 L582.59,325.57 L582.94,325.7 L583.28,324.74 L583.62,325.01 L583.97,325.37 L584.31,325.92 L584.65,325.33 L585,325.23 L585.34,325.26 L585.68,325.23 L586.03,325.67 L586.37,325.53 L586.71,325.34 L587.06,325.16 L587.4,325.26 L587.74,325.25 L588.09,325.36 L588.43,325.19 L588.77,325.52 L589.11,325.36 L589.46,325.86 L589.8,325.78 L590.14,326.25 L590.49,326.3 L590.83,325.64 L591.17,325.28 L591.52,326.27 L591.86,325.92 L592.2,325.18 L592.55,325.95 L592.89,326.21 L593.23,326.08 L593.58,326.63 L593.92,325.73 L594.26,326.4 L594.61,326.08 L594.95,325.82 L595.29,326.19 L595.64,326.09 L595.98,326.42 L596.32,326.19 L596.67,326.07 L597.01,326.71 L597.35,326.12 L597.69,326.25 L598.04,326.07 L598.38,326.46 L598.72,326.14 L599.07,326.94 L599.41,326.57 L599.75,326.36 L600.1,326.97 L600.44,327.2 L600.78,327.03 L601.13,326.91 L601.47,326.69 L601.81,327.02 L602.16,326.88 L602.5,326.75 L602.84,326.92 L603.19,327.11 L603.53,326.65 L603.87,326.82 L604.22,327.32 L604.56,326.97 L604.9,326.88 L605.25,327.24 L605.59,327.13 L605.93,327.19 L606.27,327.24 L606.62,326.89 L606.96,327.58 L607.3,327.1 L607.65,327.21 L607.99,327.14 L608.33,327.7 L608.68,326.94 L609.02,327.51 L609.36,326.85 L609.71,328.01 L610.05,327.65 L610.39,327.67 L610.74,327.64 L611.08,327.4 L611.42,327.87 L611.77,327.21 L612.11,327.97 L612.45,328.14 L612.8,328.41 L613.14,328.11 L613.48,328.35 L613.83,327.96 L614.17,328.16 L614.51,327.6 L614.85,328.18 L615.2,328.33 L615.54,327.81 L615.88,327.54 L616.23,327.99 L616.57,328.48 L616.91,328.2 L617.26,328.15 L617.6,327.91 L617.94,327.82 L618.29,328.57 L618.63,329.03 L618.97,327.76 L619.32,328.54 L619.66,328.52 L620,328.21 L620.35,328.26 L620.69,328.34 L621.03,328.57 L621.38,328.79 L621.72,328.71 L622.06,328.87 L622.41,329.19 L622.75,328.49 L623.09,328.59 L623.43,328.4 L623.78,329.01 L624.12,328.64 L624.46,328.16 L624.81,328.51 L625.15,328.25 L625.49,328.94 L625.84,328.34 L626.14,326.34 L626.34,328.64" fill="none" stroke="#1c1c1c" stroke-width="1.0" stroke-linejoin="round" />
<path d="M468.11,321.64 L468.45,318.32 L468.79,313.5 L469.14,305.13 L469.48,296.21 L469.82,287.02 L470.17,275.56 L470.51,265.37 L470.85,261.81 L471.2,265.73 L471.54,272.08 L471.88,274.8 L472.22,277.02 L472.57,282.28 L472.91,283.63 L473.25,285.77 L473.6,292.22 L473.94,295.16 L474.28,294 L474.63,296.14 L474.97,297.75 L475.31,300.24 L475.66,299.57 L476,301.74 L476.34,302.59 L476.69,303.53 L477.03,302.78 L477.37,305.91 L477.72,305.14 L478.06,306.26 L478.4,307.89 L478.75,307.65 L479.09,309.67 L479.43,309.67 L479.78,310.36 L480.12,309.28 L480.46,309.43 L480.8,312.1 L481.15,311.92 L481.49,313.7 L481.83,311.84 L482.18,312.64 L482.52,312.36 L482.86,314.71 L483.21,314.11 L483.55,313.74 L483.89,314.63 L484.24,315.71 L484.58,315.89 L484.92,315.32 L485.27,316.14 L485.61,316.34 L485.95,317.23 L486.3,316.02 L486.64,316.43 L486.98,316.12 L487.33,315.74 L487.67,316.12 L488.01,315.84 L488.36,315.21 L488.7,315.16 L489.04,315.37 L489.38,314.89 L489.73,315.28 L490.07,314.7 L490.41,314.55 L490.76,315.13 L491.1,315.17 L491.44,316.48 L491.79,316.28 L492.13,317.78 L492.47,317.86 L492.82,316.69 L493.16,315.95 L493.5,315.89 L493.85,316.14 L494.19,315.6 L494.53,315.86 L494.88,314.5 L495.22,314.06 L495.56,313.88 L495.91,312.04 L496.25,312.15 L496.59,312.01 L496.94,311.33 L497.28,311.62 L497.62,310.71 L497.96,311.53 L498.31,312.17 L498.65,312.77 L498.99,313.73 L499.34,314.31 L499.68,314.37 L500.02,314.87 L500.37,315.44 L500.71,316.14 L501.05,316.1 L501.4,316.86 L501.74,316.85 L502.08,317.24 L502.43,317.77 L502.77,317.5 L503.11,318.29 L503.46,318.03 L503.8,318 L504.14,319.03 L504.49,319.19 L504.83,319.18 L505.17,318.94 L505.52,319.2 L505.86,319.78 L506.2,319.89 L506.54,319.61 L506.89,319.62 L507.23,320.15 L507.57,320.01 L507.92,321.08 L508.26,320.29 L508.6,320.72 L508.95,320.02 L509.29,320.96 L509.63,321.24 L509.98,321.43 L510.32,320.9 L510.66,321.36 L511.01,321.31 L511.35,321.67 L511.69,321.82 L512.04,321.91 L512.38,321.33 L512.72,321.93 L513.07,320.98 L513.41,321.49 L513.75,322.3 L514.1,321.17 L514.44,321.65 L514.78,321.8 L515.12,321.76 L515.47,322.17 L515.81,322.41 L516.15,322.63 L516.5,322.47 L516.84,322.29 L517.18,322.31 L517.53,322.44 L517.87,322.46 L518.21,322.32 L518.56,322.08 L518.9,322.3 L519.24,322.96 L519.59,323.2 L519.93,323.01 L520.27,322.78 L520.62,323.29 L520.96,322.59 L521.3,322.88 L521.65,322.79 L521.99,323.2 L522.33,323.51 L522.68,322.34 L523.02,323.44 L523.36,323.39 L523.7,322.53 L524.05,323.63 L524.39,323.07 L524.73,322.35 L525.08,323.28 L525.42,323.45 L525.76,323.02 L526.11,323.12 L526.45,323.4 L526.79,323.19 L527.14,322.46 L527.48,323.09 L527.82,323.22 L528.17,323.52 L528.51,323.39 L528.85,322.74 L529.2,323.24 L529.54,323.56 L529.88,323.87 L530.23,323.41 L530.57,323.27 L530.91,323.28 L531.26,322.91 L531.6,322.54 L531.94,323.35 L532.28,323.35 L532.63,323.92 L532.97,323.92 L533.31,323.65 L533.66,323.39 L534,322.73 L534.34,322.59 L534.69,323.33 L535.03,322.99 L535.37,323.25 L535.72,323.19 L536.06,323.1 L536.4,323.43 L536.75,323 L537.09,323.08 L537.43,323.41 L537.78,323.2 L538.12,323.03 L538.46,323.06 L538.81,322.95 L539.15,323.27 L539.49,323.4 L539.84,323.15 L540.18,323.25 L540.52,323.17 L540.86,322.92 L541.21,322.59 L541.55,322.92 L541.89,322.69 L542.24,323.21 L542.58,323.23 L542.92,322.83 L543.27,323.16 L543.61,323.49 L543.95,323.86 L544.3,322.94 L544.64,323.39 L544.98,322.74 L545.33,323.7 L545.67,323.42 L546.01,322.75 L546.36,322.85 L546.7,323 L547.04,323.16 L547.39,323.24 L547.73,322.33 L548.07,322.93 L548.42,322.9 L548.76,322.96 L549.1,322.84 L549.44,323.11 L549.79,322.58 L550.13,323.23 L550.47,322.88 L550.82,322.47 L551.16,323.19 L551.5,322.97 L551.85,322.53 L552.19,322.07 L552.53,322.85 L552.88,322.69 L553.22,322.91 L553.56,322.28 L553.91,323.11 L554.25,322.37 L554.59,322.77 L554.94,323.14 L555.28,322.37 L555.62,323.19 L555.97,322.41 L556.31,322.49 L556.65,322.17 L557,322.83 L557.34,322.33 L557.68,322.21 L558.02,321.99 L558.37,322.23 L558.71,322.94 L559.05,322.22 L559.4,321.63 L559.74,322.53 L560.08,322.77 L560.43,322.49 L560.77,322.73 L561.11,322.22 L561.46,321.73 L561.8,322.37 L562.14,322.43 L562.49,322.36 L562.83,322.01 L563.17,321.67 L563.52,321.62 L563.86,321.84 L564.2,322.22 L564.55,321.83 L564.89,322.05 L565.23,321.6 L565.58,321.43 L565.92,321.85 L566.26,322.22 L566.6,321.42 L566.95,321.68 L567.29,321.91 L567.63,321.61 L567.98,321.45 L568.32,321.62 L568.66,320.77 L569.01,321.1 L569.35,321.56 L569.69,321.21 L570.04,321.14 L570.38,321.35 L570.72,321.84 L571.07,321.59 L571.41,321.09 L571.75,320.94 L572.1,320.88 L572.44,321.18 L572.78,321.23 L573.13,320.52 L573.47,321.32 L573.81,321.61 L574.16,321.13 L574.5,321.03 L574.84,321.12 L575.18,321.33 L575.53,321.02 L575.87,321.18 L576.21,320.37 L576.56,321.1 L576.9,320.93 L577.24,321.52 L577.59,320.93 L577.93,321.11 L578.27,321.17 L578.62,320.59 L578.96,320.65 L579.3,321.05 L579.65,320.33 L579.99,320.42 L580.33,320.2 L580.68,321.09 L581.02,321.29 L581.36,320.82 L581.71,320.87 L582.05,320.74 L582.39,321.06 L582.74,321.13 L583.08,320.5 L583.42,320.41 L583.76,320.63 L584.11,321.02 L584.45,321.24 L584.79,320.54 L585.14,320.46 L585.48,321.42 L585.82,320.68 L586.17,321.48 L586.51,320.21 L586.85,320.83 L587.2,320.63 L587.54,320.82 L587.88,320.97 L588.23,321.15 L588.57,320.78 L588.91,320.79 L589.26,321.41 L589.6,320.77 L589.94,320.8 L590.29,321.62 L590.63,320.31 L590.97,321.11 L591.32,321.23 L591.66,321.22 L592,321.24 L592.34,321 L592.69,320.58 L593.03,320.96 L593.37,321.64 L593.72,321.45 L594.06,320.79 L594.4,320.74 L594.75,321.32 L595.09,321.49 L595.43,321.41 L595.78,321.96 L596.12,320.86 L596.46,320.99 L596.81,321.69 L597.15,320.87 L597.49,321.31 L597.84,321.62 L598.18,321.64 L598.52,321.67 L598.87,321.91 L599.21,321.43 L599.55,321.7 L599.9,322.12 L600.24,322.34 L600.58,321.93 L600.92,321.53 L601.27,322.24 L601.61,321.74 L601.95,321.74 L602.3,321.93 L602.64,321.28 L602.98,322.01 L603.33,322.15 L603.67,321.99 L604.01,321.59 L604.36,322.41 L604.7,321.64 L605.04,321.72 L605.39,322.21 L605.73,322.42 L606.07,322.23 L606.42,322.12 L606.76,322.22 L607.1,322.09 L607.45,321.72 L607.79,322.56 L608.13,322.43 L608.48,322.68 L608.82,322.89 L609.16,322.48 L609.5,322.71 L609.85,322.49 L610.19,323.25 L610.53,322.55 L610.88,322.54 L611.22,323.13 L611.56,322.59 L611.91,322.96 L612.25,323.12 L612.59,323.59 L612.94,323.02 L613.28,323.03 L613.62,322.94 L613.97,323.26 L614.31,323.71 L614.65,323.35 L615,322.58 L615.34,322.53 L615.68,322.81 L616.03,323.15 L616.37,323.33 L616.71,323.22 L617.06,323.68 L617.4,323.55 L617.74,323.21 L618.08,323.84 L618.43,323.24 L618.77,323.06 L619.11,322.92 L619.46,324.25 L619.8,323.62 L620.14,323.52 L620.49,323.74 L620.83,323.33 L621.17,323.87 L621.52,324.06 L621.86,324.45 L622.2,323.46 L622.55,323.78 L622.89,324.08 L623.23,323.24 L623.58,323.78 L623.92,323.64 L624.26,323.96 L624.61,324.41 L624.95,323.97 L625.29,324.16 L625.64,324.02 L625.98,324.08 L626.32,324.66 L626.66,323.75 L627.01,324.21 L627.35,324.84 L627.69,324.62 L628.04,324.13 L628.38,324.09 L628.72,324.38 L629.07,324.27 L629.41,324.77 L629.71,322.77 L629.91,325.07" fill="none" stroke="#1c1c1c" stroke-width="1.0" stroke-linejoin="round" />
<path d="M471.68,317.35 L472.02,313.94 L472.37,309.71 L472.71,303.51 L473.05,291.72 L473.4,279.93 L473.74,271.64 L474.08,260.97 L474.43,260.93 L474.77,260.19 L475.11,266.98 L475.45,273.36 L475.8,275.15 L476.14,277.23 L476.48,281.22 L476.83,282.84 L477.17,284.83 L477.51,289.83 L477.86,291.15 L478.2,289.98 L478.54,292.99 L478.89,296.03 L479.23,296.31 L479.57,296.81 L479.92,299.3 L480.26,298.14 L480.6,299.39 L480.95,301.36 L481.29,301.52 L481.63,300.66 L481.98,301.81 L482.32,304.16 L482.66,302.91 L483.01,304.98 L483.35,306.28 L483.69,305.05 L484.03,306.55 L484.38,305.59 L484.72,307.67 L485.06,308 L485.41,308.01 L485.75,308.3 L486.09,308.95 L486.44,309.47 L486.78,309.53 L487.12,308.64 L487.47,308.99 L487.81,311.25 L488.15,310.94 L488.5,311.35 L488.84,311.03 L489.18,311.4 L489.53,311.75 L489.87,311.2 L490.21,310.82 L490.56,311.24 L490.9,311.42 L491.24,312.08 L491.59,310.92 L491.93,309.51 L492.27,310.84 L492.61,309.74 L492.96,308.7 L493.3,310.4 L493.64,309.93 L493.99,310.16 L494.33,309.57 L494.67,310.81 L495.02,311.26 L495.36,311.7 L495.7,312.26 L496.05,312.17 L496.39,312.47 L496.73,311.93 L497.08,312.52 L497.42,311.67 L497.76,310.16 L498.11,309.96 L498.45,308.7 L498.79,308.75 L499.14,307.42 L499.48,307.57 L499.82,307.81 L500.17,306.66 L500.51,305.81 L500.85,305.57 L501.19,305.98 L501.54,307.17 L501.88,307.45 L502.22,307.65 L502.57,308.27 L502.91,308.64 L503.25,309.42 L503.6,309.21 L503.94,309.77 L504.28,310.51 L504.63,310.97 L504.97,311.49 L505.31,311.86 L505.66,311.75 L506,312.4 L506.34,313.11 L506.69,312.95 L507.03,313.21 L507.37,313.95 L507.72,313.87 L508.06,314.68 L508.4,314.85 L508.75,314.18 L509.09,314.9 L509.43,314.52 L509.77,314.57 L510.12,315.13 L510.46,315.55 L510.8,315.17 L511.15,315.09 L511.49,315.77 L511.83,315.49 L512.18,316.43 L512.52,316.11 L512.86,315.56 L513.21,316.66 L513.55,315.78 L513.89,316.8 L514.24,316.05 L514.58,315.86 L514.92,316.6 L515.27,316 L515.61,317.06 L515.95,316.56 L516.3,316.25 L516.64,316.83 L516.98,317.11 L517.33,316.99 L517.67,316.77 L518.01,317.16 L518.35,317.01 L518.7,317.52 L519.04,318.05 L519.38,317.65 L519.73,317.67 L520.07,317.17 L520.41,317.74 L520.76,317.94 L521.1,317.43 L521.44,317.28 L521.79,317.79 L522.13,317.56 L522.47,317.95 L522.82,318 L523.16,318.44 L523.5,317.51 L523.85,318.12 L524.19,317.84 L524.53,317.25 L524.88,318.35 L525.22,318.5 L525.56,318.03 L525.91,317.93 L526.25,318.18 L526.59,317.71 L526.93,318.3 L527.28,318.36 L527.62,318.52 L527.96,317.52 L528.31,318.17 L528.65,318.27 L528.99,317.81 L529.34,318.04 L529.68,318.27 L530.02,318.39 L530.37,317.83 L530.71,318.44 L531.05,318.47 L531.4,318.23 L531.74,319.13 L532.08,317.87 L532.43,318.57 L532.77,318.4 L533.11,318.93 L533.46,318.89 L533.8,318.54 L534.14,318.42 L534.49,318.95 L534.83,318.8 L535.17,318.51 L535.51,318.58 L535.86,319.09 L536.2,318.63 L536.54,318.41 L536.89,318.34 L537.23,318.1 L537.57,319.15 L537.92,318.79 L538.26,318.95 L538.6,318.56 L538.95,317.95 L539.29,318.7 L539.63,318.51 L539.98,318.65 L540.32,318.8 L540.66,318.65 L541.01,318.61 L541.35,318.8 L541.69,319.17 L542.04,318.56 L542.38,318.88 L542.72,319.28 L543.07,319.17 L543.41,318.77 L543.75,318.87 L544.09,318.41 L544.44,318.49 L544.78,318.58 L545.12,319.2 L545.47,318.3 L545.81,319.08 L546.15,318.16 L546.5,318.82 L546.84,318.55 L547.18,318.67 L547.53,318.96 L547.87,318.47 L548.21,318.45 L548.56,318.9 L548.9,319.19 L549.24,318.4 L549.59,318.42 L549.93,318.2 L550.27,317.76 L550.62,318.84 L550.96,318.04 L551.3,318.06 L551.65,318.06 L551.99,318.73 L552.33,317.76 L552.67,318.35 L553.02,318.59 L553.36,318.09 L553.7,318.59 L554.05,317.96 L554.39,318.52 L554.73,317.65 L555.08,318.64 L555.42,318.09 L555.76,317.75 L556.11,318.24 L556.45,318.12 L556.79,318.04 L557.14,317.77 L557.48,317.92 L557.82,318.23 L558.17,318.19 L558.51,317.46 L558.85,318.04 L559.2,318.49 L559.54,318.1 L559.88,317.75 L560.23,317.89 L560.57,317.94 L560.91,317.99 L561.25,318.04 L561.6,318.14 L561.94,317.76 L562.28,317.42 L562.63,317.55 L562.97,317.51 L563.31,317.68 L563.66,317.28 L564,317.16 L564.34,317.14 L564.69,317.63 L565.03,317.09 L565.37,317.65 L565.72,316.72 L566.06,317.22 L566.4,317.51 L566.75,317.35 L567.09,317.36 L567.43,317.27 L567.78,316.75 L568.12,316.83 L568.46,317.85 L568.81,316.94 L569.15,316.76 L569.49,317.15 L569.83,317.35 L570.18,316.75 L570.52,317.07 L570.86,317.59 L571.21,316.52 L571.55,316.82 L571.89,316.31 L572.24,316.78 L572.58,316.83 L572.92,317.19 L573.27,317.05 L573.61,316.93 L573.95,316.82 L574.3,317.1 L574.64,316.14 L574.98,316.62 L575.33,316.33 L575.67,316.57 L576.01,316.72 L576.36,316.9 L576.7,316.57 L577.04,316.73 L577.39,316 L577.73,317.04 L578.07,316.25 L578.41,315.8 L578.76,316.66 L579.1,317.02 L579.44,316.34 L579.79,316 L580.13,316.21 L580.47,316.87 L580.82,316.13 L581.16,316.12 L581.5,315.96 L581.85,316.56 L582.19,316.46 L582.53,316.43 L582.88,316.36 L583.22,315.73 L583.56,316.51 L583.91,316.14 L584.25,316.67 L584.59,316.15 L584.94,316.51 L585.28,316.86 L585.62,316.32 L585.97,316.23 L586.31,316.32 L586.65,316.92 L586.99,316.55 L587.34,316.74 L587.68,315.92 L588.02,316.41 L588.37,315.96 L588.71,315.88 L589.05,316.59 L589.4,316.05 L589.74,316.39 L590.08,316.14 L590.43,316.1 L590.77,316.29 L591.11,316.98 L591.46,315.78 L591.8,316.09 L592.14,316.73 L592.49,316.47 L592.83,317.03 L593.17,316.29 L593.52,315.73 L593.86,316.07 L594.2,316.04 L594.55,316.06 L594.89,316.39 L595.23,316.94 L595.57,316.51 L595.92,316.87 L596.26,316.57 L596.6,316.64 L596.95,316.5 L597.29,316.51 L597.63,316.72 L597.98,316.73 L598.32,316.93 L598.66,316.82 L599.01,316.37 L599.35,316.92 L599.69,316.58 L600.04,316.6 L600.38,317.24 L600.72,317.04 L601.07,316.53 L601.41,316.87 L601.75,316.89 L602.1,317.28 L602.44,317.29 L602.78,317.5 L603.13,316.95 L603.47,317.75 L603.81,316.81 L604.15,317.34 L604.5,317.12 L604.84,317.06 L605.18,316.59 L605.53,317.07 L605.87,316.94 L606.21,317.42 L606.56,316.77 L606.9,317.69 L607.24,317.24 L607.59,316.91 L607.93,317.25 L608.27,317.34 L608.62,317.39 L608.96,317.35 L609.3,317.29 L609.65,317.59 L609.99,317.32 L610.33,318.23 L610.68,317.89 L611.02,318.18 L611.36,317.89 L611.71,317.48 L612.05,317.77 L612.39,317.79 L612.73,317.51 L613.08,317.83 L613.42,318.49 L613.76,318.61 L614.11,318.6 L614.45,318.4 L614.79,317.56 L615.14,318.45 L615.48,317.97 L615.82,318.73 L616.17,318.08 L616.51,318.78 L616.85,318.8 L617.2,318.59 L617.54,318.73 L617.88,319.21 L618.23,319.15 L618.57,318.53 L618.91,318.73 L619.26,318.37 L619.6,319.11 L619.94,319.19 L620.29,318.73 L620.63,318.86 L620.97,318.77 L621.31,318.65 L621.66,319.17 L622,318.65 L622.34,318.59 L622.69,319.52 L623.03,319.29 L623.37,318.74 L623.72,318.45 L624.06,319.54 L624.4,318.91 L624.75,319.08 L625.09,319.09 L625.43,318.76 L625.78,319.14 L626.12,318.71 L626.46,319.01 L626.81,319.29 L627.15,319.44 L627.49,319.03 L627.84,319.52 L628.18,319.41 L628.52,319.6 L628.87,319.46 L629.21,319.57 L629.55,319.26 L629.89,319.49 L630.24,319.09 L630.58,319.71 L630.92,319.53 L631.27,319.13 L631.61,319.95 L631.95,319.56 L632.3,319.49 L632.64,319.19 L632.98,319.55 L633.28,317.55 L633.48,319.85" fill="none" stroke="#1c1c1c" stroke-width="1.0" stroke-linejoin="round" />
<path d="M475.25,312.11 L475.6,309.9 L475.94,306.29 L476.28,298.82 L476.63,290.31 L476.97,277.31 L477.31,267.07 L477.66,260.66 L478,258.53 L478.34,259.1 L478.69,262.33 L479.03,266.84 L479.37,274.5 L479.71,274.42 L480.06,279.57 L480.4,279.47 L480.74,283.74 L481.09,283.52 L481.43,286.02 L481.77,289.33 L482.12,290.67 L482.46,291.99 L482.8,292.21 L483.15,293.62 L483.49,294.46 L483.83,296.21 L484.18,294.73 L484.52,295.75 L484.86,297.69 L485.21,296.86 L485.55,298.36 L485.89,298.72 L486.24,298.64 L486.58,299.66 L486.92,300.36 L487.27,299.53 L487.61,303 L487.95,302.09 L488.29,302.93 L488.64,302.16 L488.98,304 L489.32,303.8 L489.67,304.09 L490.01,303.26 L490.35,304.45 L490.7,306.28 L491.04,306.34 L491.38,306.65 L491.73,306.02 L492.07,305.23 L492.41,306.19 L492.76,306.71 L493.1,307.41 L493.44,306.54 L493.79,307.3 L494.13,306.2 L494.47,306.78 L494.82,307.08 L495.16,305.53 L495.5,306.36 L495.85,305.72 L496.19,305.21 L496.53,304.13 L496.87,305.97 L497.22,304.93 L497.56,305.39 L497.9,306.08 L498.25,305.85 L498.59,306.76 L498.93,307.27 L499.28,307.19 L499.62,307.34 L499.96,307.73 L500.31,307.15 L500.65,306.13 L500.99,306.45 L501.34,305.76 L501.68,304.57 L502.02,304.43 L502.37,303.55 L502.71,302.17 L503.05,303.05 L503.4,301.85 L503.74,301.18 L504.08,300.19 L504.43,300.5 L504.77,299.78 L505.11,300.94 L505.45,302.18 L505.8,302.33 L506.14,302.61 L506.48,303.01 L506.83,304.74 L507.17,304.5 L507.51,304.81 L507.86,304.99 L508.2,305.79 L508.54,306.11 L508.89,306.7 L509.23,306.66 L509.57,306.96 L509.92,307.56 L510.26,307.89 L510.6,307.62 L510.95,309.16 L511.29,309.01 L511.63,308.98 L511.98,308.8 L512.32,309.35 L512.66,309.39 L513.01,309.96 L513.35,309.42 L513.69,310.03 L514.03,310.18 L514.38,309.57 L514.72,309.84 L515.06,310.25 L515.41,311.32 L515.75,311.23 L516.09,311.05 L516.44,311.1 L516.78,310.79 L517.12,311.26 L517.47,311.21 L517.81,312.06 L518.15,311.82 L518.5,311.44 L518.84,311.51 L519.18,311.12 L519.53,312.36 L519.87,311.68 L520.21,311.44 L520.56,312.88 L520.9,311.73 L521.24,312.35 L521.59,312.16 L521.93,312.42 L522.27,311.83 L522.61,312.3 L522.96,312.27 L523.3,312.54 L523.64,312.9 L523.99,312.08 L524.33,312.36 L524.67,313.09 L525.02,312.81 L525.36,312.74 L525.7,313.24 L526.05,312.74 L526.39,312.93 L526.73,313.56 L527.08,313.26 L527.42,313.3 L527.76,313.29 L528.11,312.85 L528.45,312.77 L528.79,313.95 L529.14,313.01 L529.48,312.93 L529.82,313.68 L530.17,313.11 L530.51,313.41 L530.85,313.95 L531.19,312.99 L531.54,314.02 L531.88,313.61 L532.22,313.55 L532.57,314.24 L532.91,313.37 L533.25,314.36 L533.6,314.3 L533.94,313.47 L534.28,313.48 L534.63,313.7 L534.97,313.43 L535.31,314.02 L535.66,314.25 L536,314.51 L536.34,314.1 L536.69,313.93 L537.03,314.06 L537.37,313.51 L537.72,314.16 L538.06,313.66 L538.4,314.5 L538.75,314.27 L539.09,313.66 L539.43,313.59 L539.77,313.93 L540.12,313.97 L540.46,314 L540.8,314.36 L541.15,314.45 L541.49,313.68 L541.83,314.32 L542.18,314.09 L542.52,314.02 L542.86,314.7 L543.21,314.24 L543.55,313.32 L543.89,313.99 L544.24,313.81 L544.58,314.36 L544.92,314.35 L545.27,314.01 L545.61,314.32 L545.95,314.16 L546.3,313.97 L546.64,314.33 L546.98,314.42 L547.33,314.34 L547.67,314.31 L548.01,313.64 L548.35,313.64 L548.7,313.95 L549.04,314.12 L549.38,313.99 L549.73,313.98 L550.07,314.31 L550.41,314.32 L550.76,314.35 L551.1,314.36 L551.44,313.71 L551.79,313.77 L552.13,313.37 L552.47,314.25 L552.82,313.58 L553.16,313.18 L553.5,314.08 L553.85,314 L554.19,314.51 L554.53,313.99 L554.88,313.79 L555.22,313.98 L555.56,314.04 L555.91,314.33 L556.25,313.87 L556.59,313.18 L556.93,313.62 L557.28,313.86 L557.62,314.19 L557.96,313.51 L558.31,313.68 L558.65,313.13 L558.99,313.27 L559.34,313.41 L559.68,313.42 L560.02,313.56 L560.37,314.17 L560.71,313.6 L561.05,313.67 L561.4,313.53 L561.74,313.63 L562.08,313.66 L562.43,313.33 L562.77,312.64 L563.11,313.26 L563.46,313.26 L563.8,313 L564.14,312.76 L564.49,313.02 L564.83,313.01 L565.17,313.04 L565.51,312.99 L565.86,313.16 L566.2,313.65 L566.54,312.72 L566.89,312.77 L567.23,313.23 L567.57,312.56 L567.92,312.74 L568.26,313.34 L568.6,312.49 L568.95,312.47 L569.29,312.67 L569.63,312.98 L569.98,312.91 L570.32,313.04 L570.66,312.74 L571.01,312.77 L571.35,312.37 L571.69,312.99 L572.04,312.76 L572.38,312.54 L572.72,312.35 L573.07,312.04 L573.41,313.09 L573.75,312.45 L574.09,312.03 L574.44,312.63 L574.78,312.6 L575.12,312.97 L575.47,312.06 L575.81,312.2 L576.15,312.83 L576.5,312.39 L576.84,312.13 L577.18,312.11 L577.53,312.63 L577.87,312.55 L578.21,311.81 L578.56,312.1 L578.9,312.5 L579.24,312.72 L579.59,312.39 L579.93,312.08 L580.27,312.33 L580.62,311.58 L580.96,311.7 L581.3,311.73 L581.65,311.85 L581.99,312.1 L582.33,312.03 L582.67,311.67 L583.02,311.91 L583.36,312.31 L583.7,312.02 L584.05,311.66 L584.39,311.72 L584.73,311.76 L585.08,312.1 L585.42,311.23 L585.76,312.43 L586.11,312.23 L586.45,311.83 L586.79,312.25 L587.14,312.02 L587.48,311.6 L587.82,312.19 L588.17,311.26 L588.51,311.64 L588.85,311.87 L589.2,311.68 L589.54,311.57 L589.88,311.34 L590.23,312.1 L590.57,311.99 L590.91,311.42 L591.25,311.55 L591.6,311.97 L591.94,312 L592.28,311.76 L592.63,311.59 L592.97,311.44 L593.31,311.55 L593.66,311.43 L594,312.27 L594.34,311.73 L594.69,311.62 L595.03,311.95 L595.37,311.51 L595.72,311.66 L596.06,311.77 L596.4,312.06 L596.75,312.36 L597.09,311.63 L597.43,311.8 L597.78,311.99 L598.12,312.55 L598.46,312.12 L598.81,312.17 L599.15,312.13 L599.49,311.54 L599.83,311.81 L600.18,312.5 L600.52,312.19 L600.86,312.28 L601.21,311.92 L601.55,311.41 L601.89,312.11 L602.24,311.74 L602.58,311.67 L602.92,311.7 L603.27,312.07 L603.61,312.01 L603.95,312.24 L604.3,312.86 L604.64,312.12 L604.98,312.28 L605.33,312.03 L605.67,312.59 L606.01,312.47 L606.36,312.48 L606.7,312.17 L607.04,312.87 L607.39,312.57 L607.73,312.42 L608.07,312.8 L608.41,312.31 L608.76,312.74 L609.1,312.59 L609.44,312.39 L609.79,312.81 L610.13,312.72 L610.47,312.41 L610.82,312.89 L611.16,312.73 L611.5,313.12 L611.85,312.63 L612.19,313.29 L612.53,313.29 L612.88,312.85 L613.22,313.44 L613.56,313.31 L613.91,313.2 L614.25,313.41 L614.59,313.51 L614.94,313.8 L615.28,313.3 L615.62,313.25 L615.97,313.1 L616.31,313.42 L616.65,314.16 L616.99,313.8 L617.34,313.76 L617.68,313.74 L618.02,313.83 L618.37,313.53 L618.71,313.98 L619.05,313.64 L619.4,313.69 L619.74,313.65 L620.08,314.23 L620.43,313.81 L620.77,313.59 L621.11,314.16 L621.46,313.87 L621.8,314.48 L622.14,314.32 L622.49,313.42 L622.83,313.73 L623.17,313.86 L623.52,313.92 L623.86,314.15 L624.2,314.46 L624.55,314.54 L624.89,314.99 L625.23,314.4 L625.57,314.23 L625.92,314.75 L626.26,314.33 L626.6,314.47 L626.95,315.11 L627.29,314.35 L627.63,314.68 L627.98,314.54 L628.32,314.3 L628.66,313.98 L629.01,314.01 L629.35,314.57 L629.69,314.54 L630.04,314.74 L630.38,314.25 L630.72,314.86 L631.07,315.31 L631.41,315.18 L631.75,314.74 L632.1,314.8 L632.44,314.63 L632.78,315.01 L633.13,315.6 L633.47,315.16 L633.81,314.76 L634.15,314.94 L634.5,315.46 L634.84,314.98 L635.18,315.47 L635.53,315.09 L635.87,315.18 L636.21,314.8 L636.56,314.9 L636.86,312.9 L637.06,315.2" fill="none" stroke="#9b3fb0" stroke-width="1.0" stroke-linejoin="round" />
<path d="M478.83,308.88 L479.17,305.31 L479.51,299.33 L479.86,293.24 L480.2,286.45 L480.54,273.49 L480.89,265.86 L481.23,258.65 L481.57,255.22 L481.92,255.53 L482.26,256.74 L482.6,260.19 L482.94,267.27 L483.29,274.35 L483.63,274.17 L483.97,276.41 L484.32,282.03 L484.66,280.26 L485,280.77 L485.35,283.3 L485.69,284.89 L486.03,287.59 L486.38,288.91 L486.72,289.62 L487.06,288.57 L487.41,291.54 L487.75,292.17 L488.09,292.09 L488.44,293.12 L488.78,291.5 L489.12,294.62 L489.47,293.17 L489.81,295.88 L490.15,296.27 L490.5,294.83 L490.84,297.06 L491.18,296.92 L491.52,297.9 L491.87,298.66 L492.21,299.08 L492.55,299.12 L492.9,299.05 L493.24,299.01 L493.58,298.8 L493.93,300.87 L494.27,299.89 L494.61,300.25 L494.96,300.07 L495.3,302.6 L495.64,302.23 L495.99,303.25 L496.33,302.32 L496.67,301.39 L497.02,302.35 L497.36,302.89 L497.7,302.19 L498.05,301.58 L498.39,302.72 L498.73,302.03 L499.08,301.33 L499.42,299.91 L499.76,300.5 L500.1,300.76 L500.45,300 L500.79,301.29 L501.13,301.44 L501.48,302 L501.82,301.77 L502.16,301.8 L502.51,302.08 L502.85,301.96 L503.19,302.54 L503.54,301.85 L503.88,302.12 L504.22,301.89 L504.57,301.63 L504.91,301.25 L505.25,299.07 L505.6,298.96 L505.94,298.62 L506.28,298.13 L506.63,296 L506.97,296.23 L507.31,295.55 L507.66,296.17 L508,295.11 L508.34,294.6 L508.68,295.23 L509.03,296.27 L509.37,296.5 L509.71,297.64 L510.06,297.97 L510.4,298.77 L510.74,299.47 L511.09,299.6 L511.43,300.58 L511.77,300.82 L512.12,301.06 L512.46,301.48 L512.8,301.89 L513.15,301.98 L513.49,302.49 L513.83,302.6 L514.18,303.57 L514.52,303.55 L514.86,303.31 L515.21,304.36 L515.55,303.73 L515.89,304.53 L516.24,304.71 L516.58,305.1 L516.92,304.97 L517.26,304.78 L517.61,304.93 L517.95,304.66 L518.29,305.57 L518.64,305.62 L518.98,306.33 L519.32,305.34 L519.67,306.06 L520.01,306.47 L520.35,307.13 L520.7,306.25 L521.04,306.63 L521.38,306.39 L521.73,306.75 L522.07,306.94 L522.41,307.68 L522.76,306.86 L523.1,307.35 L523.44,307.19 L523.79,307.51 L524.13,307.44 L524.47,306.81 L524.82,307.22 L525.16,307.52 L525.5,308.38 L525.84,307.75 L526.19,307.1 L526.53,308.55 L526.87,307.72 L527.22,307.85 L527.56,307.74 L527.9,308.2 L528.25,308.2 L528.59,308.09 L528.93,308.15 L529.28,308.76 L529.62,308.62 L529.96,308.19 L530.31,308.37 L530.65,308.66 L530.99,308.96 L531.34,308.39 L531.68,308.5 L532.02,308.81 L532.37,308.62 L532.71,308.83 L533.05,309.09 L533.4,308.4 L533.74,308.58 L534.08,308.72 L534.42,308.75 L534.77,309.25 L535.11,308.79 L535.45,308.82 L535.8,309.43 L536.14,308.9 L536.48,308.52 L536.83,309.57 L537.17,309.42 L537.51,308.9 L537.86,309.26 L538.2,309.24 L538.54,309.03 L538.89,309.2 L539.23,308.89 L539.57,308.64 L539.92,309.07 L540.26,309.16 L540.6,309.31 L540.95,309.91 L541.29,309.59 L541.63,309.38 L541.98,309.05 L542.32,309.72 L542.66,309.14 L543,309.25 L543.35,308.59 L543.69,308.9 L544.03,309.46 L544.38,309.15 L544.72,309.3 L545.06,309.17 L545.41,309.19 L545.75,309.46 L546.09,309.55 L546.44,309.6 L546.78,309.52 L547.12,308.9 L547.47,308.88 L547.81,308.95 L548.15,310.01 L548.5,308.98 L548.84,308.84 L549.18,309.62 L549.53,309.53 L549.87,308.7 L550.21,309.9 L550.56,309.43 L550.9,309.4 L551.24,309.74 L551.58,309.75 L551.93,309.33 L552.27,309.02 L552.61,309.05 L552.96,309.46 L553.3,309.11 L553.64,308.99 L553.99,309.89 L554.33,309.53 L554.67,309.24 L555.02,310 L555.36,309.05 L555.7,309.81 L556.05,309.07 L556.39,308.67 L556.73,308.64 L557.08,309.08 L557.42,309.51 L557.76,309.35 L558.11,309.3 L558.45,309.67 L558.79,309.04 L559.14,308.92 L559.48,309.37 L559.82,308.58 L560.16,309.8 L560.51,308.98 L560.85,308.88 L561.19,309.14 L561.54,309.33 L561.88,309.69 L562.22,309.47 L562.57,309.28 L562.91,309.64 L563.25,309.5 L563.6,309.36 L563.94,308.84 L564.28,308.77 L564.63,308.55 L564.97,308.97 L565.31,308.65 L565.66,308.84 L566,308.88 L566.34,309.42 L566.69,308.72 L567.03,308.9 L567.37,308.75 L567.72,308.35 L568.06,308.72 L568.4,308.86 L568.74,308.42 L569.09,308.77 L569.43,308.01 L569.77,308.69 L570.12,308.43 L570.46,308.93 L570.8,308.53 L571.15,308.58 L571.49,308.25 L571.83,307.67 L572.18,307.61 L572.52,308.03 L572.86,308.15 L573.21,308.48 L573.55,308.32 L573.89,307.92 L574.24,307.84 L574.58,308.4 L574.92,308.65 L575.27,308.37 L575.61,307.89 L575.95,307.42 L576.3,307.88 L576.64,307.47 L576.98,307.46 L577.32,307.84 L577.67,307.64 L578.01,308.04 L578.35,307.52 L578.7,307.19 L579.04,308.05 L579.38,307.84 L579.73,307.78 L580.07,307.96 L580.41,307.62 L580.76,307.89 L581.1,307.83 L581.44,307.66 L581.79,307.8 L582.13,307.66 L582.47,307.79 L582.82,307.71 L583.16,307.09 L583.5,307.99 L583.85,307.13 L584.19,307.41 L584.53,307.52 L584.88,307.33 L585.22,307.16 L585.56,307.67 L585.9,307 L586.25,307.31 L586.59,306.94 L586.93,307.06 L587.28,306.96 L587.62,307.81 L587.96,306.85 L588.31,307.45 L588.65,307.41 L588.99,307.54 L589.34,307.01 L589.68,307.59 L590.02,307.02 L590.37,307.16 L590.71,307.01 L591.05,307.7 L591.4,307.27 L591.74,306.86 L592.08,307.71 L592.43,306.46 L592.77,306.82 L593.11,307.11 L593.46,307.57 L593.8,306.9 L594.14,306.71 L594.48,307.4 L594.83,306.79 L595.17,306.84 L595.51,307.37 L595.86,307.3 L596.2,307.73 L596.54,307.54 L596.89,307.15 L597.23,307.83 L597.57,307.1 L597.92,306.5 L598.26,306.9 L598.6,307.44 L598.95,306.91 L599.29,306.84 L599.63,307.52 L599.98,306.57 L600.32,307.41 L600.66,307.18 L601.01,307.76 L601.35,307.45 L601.69,307.19 L602.04,307.61 L602.38,306.68 L602.72,307.19 L603.06,307.23 L603.41,307.63 L603.75,307.15 L604.09,307.48 L604.44,308.15 L604.78,308.04 L605.12,307.48 L605.47,307.61 L605.81,307.24 L606.15,307.39 L606.5,307.58 L606.84,307.99 L607.18,307.88 L607.53,307.52 L607.87,308.12 L608.21,307.47 L608.56,307.4 L608.9,307.48 L609.24,308.37 L609.59,308.29 L609.93,307.53 L610.27,308.33 L610.62,307.63 L610.96,308.01 L611.3,308.5 L611.64,308.19 L611.99,308.18 L612.33,308.07 L612.67,308.31 L613.02,308.19 L613.36,308.24 L613.7,307.9 L614.05,308.09 L614.39,308.53 L614.73,308.36 L615.08,308.51 L615.42,308.24 L615.76,309.09 L616.11,308.88 L616.45,308.79 L616.79,308.75 L617.14,308.3 L617.48,308.63 L617.82,309.2 L618.17,308.53 L618.51,308.95 L618.85,309.07 L619.2,308.68 L619.54,309.02 L619.88,308.72 L620.22,308.85 L620.57,309.45 L620.91,309.26 L621.25,309.64 L621.6,308.91 L621.94,309.13 L622.28,309.67 L622.63,309.28 L622.97,309.36 L623.31,309.11 L623.66,309.47 L624,309.06 L624.34,309.35 L624.69,309.51 L625.03,308.81 L625.37,309.99 L625.72,309.61 L626.06,309.61 L626.4,309.62 L626.75,310.07 L627.09,309.36 L627.43,309.36 L627.78,309.64 L628.12,310.18 L628.46,310.05 L628.8,309.86 L629.15,309.91 L629.49,310.01 L629.83,310.27 L630.18,310.27 L630.52,309.86 L630.86,310.09 L631.21,309.43 L631.55,310.53 L631.89,310.1 L632.24,309.99 L632.58,310.13 L632.92,310.51 L633.27,310.71 L633.61,310.4 L633.95,309.56 L634.3,309.72 L634.64,310.27 L634.98,309.95 L635.33,310.49 L635.67,310.35 L636.01,310.32 L636.36,309.84 L636.7,310.52 L637.04,310.11 L637.38,310.13 L637.73,309.94 L638.07,311.12 L638.41,310.17 L638.76,310.91 L639.1,310.39 L639.44,310.63 L639.79,310.48 L640.13,310.58 L640.43,308.58 L640.63,310.88" fill="none" stroke="#1c1c1c" stroke-width="1.0" stroke-linejoin="round" />
<path d="M482.4,303.74 L482.74,300.87 L483.09,295.58 L483.43,290 L483.77,281.13 L484.12,269.49 L484.46,261.79 L484.8,254.58 L485.15,256.67 L485.49,250.88 L485.83,253.03 L486.17,262.8 L486.52,264.83 L486.86,267.74 L487.2,272.61 L487.55,276.33 L487.89,276.56 L488.23,278.66 L488.58,279.25 L488.92,282.85 L489.26,280.92 L489.61,281.58 L489.95,285.36 L490.29,283.68 L490.64,286.36 L490.98,285.69 L491.32,285.78 L491.67,287.8 L492.01,289.95 L492.35,290.91 L492.7,290.3 L493.04,290.26 L493.38,290.88 L493.73,290.59 L494.07,291.27 L494.41,291.81 L494.75,294.28 L495.1,293.38 L495.44,293.61 L495.78,294.22 L496.13,295.85 L496.47,293.72 L496.81,295.92 L497.16,295.21 L497.5,296.72 L497.84,296.81 L498.19,295.5 L498.53,297.68 L498.87,297.79 L499.22,297.49 L499.56,297.3 L499.9,297.84 L500.25,297.83 L500.59,297.73 L500.93,297.81 L501.28,296.79 L501.62,297.65 L501.96,297.01 L502.31,295.71 L502.65,296.12 L502.99,296.98 L503.33,295.83 L503.68,296.04 L504.02,295.94 L504.36,295.48 L504.71,295.39 L505.05,296.5 L505.39,296.85 L505.74,297.36 L506.08,296.64 L506.42,297.32 L506.77,297.16 L507.11,297.45 L507.45,297.8 L507.8,296.55 L508.14,296.88 L508.48,295.87 L508.83,294.78 L509.17,294.39 L509.51,293.1 L509.86,292.31 L510.2,291.18 L510.54,291.15 L510.89,290.23 L511.23,289.94 L511.57,289.66 L511.91,289.34 L512.26,290.19 L512.6,291.22 L512.94,291.19 L513.29,292.67 L513.63,293.15 L513.97,293.32 L514.32,294.91 L514.66,294.92 L515,295.19 L515.35,295.49 L515.69,295.86 L516.03,296.84 L516.38,296.34 L516.72,296.99 L517.06,297.13 L517.41,298.39 L517.75,298.53 L518.09,298.17 L518.44,298.43 L518.78,298.12 L519.12,298.53 L519.47,299.45 L519.81,299.4 L520.15,299.56 L520.49,299.65 L520.84,300.19 L521.18,299.59 L521.52,300.32 L521.87,301.1 L522.21,300.81 L522.55,301.4 L522.9,301.09 L523.24,301.38 L523.58,301.37 L523.93,300.98 L524.27,301.7 L524.61,302.05 L524.96,301.96 L525.3,301.43 L525.64,302.03 L525.99,302.6 L526.33,302.7 L526.67,302.55 L527.02,302.45 L527.36,302.79 L527.7,303.01 L528.05,302.1 L528.39,302.84 L528.73,302.59 L529.07,302.61 L529.42,303.1 L529.76,303.21 L530.1,302.45 L530.45,303.14 L530.79,303.47 L531.13,303.7 L531.48,302.99 L531.82,303.78 L532.16,303.47 L532.51,304.17 L532.85,303.85 L533.19,303.17 L533.54,303.08 L533.88,304.14 L534.22,304.24 L534.57,304.44 L534.91,304.24 L535.25,303.77 L535.6,304.03 L535.94,303.3 L536.28,303.54 L536.63,304.19 L536.97,303.61 L537.31,304.29 L537.65,303.89 L538,303.49 L538.34,304.6 L538.68,304.11 L539.03,304.07 L539.37,304.11 L539.71,304.5 L540.06,304.37 L540.4,303.84 L540.74,303.6 L541.09,304.11 L541.43,304.56 L541.77,303.9 L542.12,304.49 L542.46,303.72 L542.8,304.12 L543.15,304.9 L543.49,305.2 L543.83,304.51 L544.18,304.6 L544.52,304.65 L544.86,305.21 L545.21,304.19 L545.55,304.74 L545.89,304.94 L546.23,305 L546.58,304.12 L546.92,304.63 L547.26,304.62 L547.61,304.58 L547.95,303.98 L548.29,304.94 L548.64,305.14 L548.98,304.61 L549.32,304.28 L549.67,305.2 L550.01,304.83 L550.35,305.19 L550.7,305.17 L551.04,304.95 L551.38,304.06 L551.73,304.6 L552.07,304.93 L552.41,304.5 L552.76,304.72 L553.1,304.99 L553.44,304.11 L553.79,304.91 L554.13,305.01 L554.47,304.8 L554.81,304.73 L555.16,305.06 L555.5,304.6 L555.84,304.21 L556.19,304.96 L556.53,304.63 L556.87,304.47 L557.22,304.61 L557.56,304.35 L557.9,304.73 L558.25,304.63 L558.59,304.75 L558.93,304.16 L559.28,304.12 L559.62,304.42 L559.96,304.61 L560.31,304.42 L560.65,304.58 L560.99,304.53 L561.34,304.42 L561.68,304.4 L562.02,304.15 L562.37,304.25 L562.71,304.48 L563.05,304.8 L563.39,305.18 L563.74,304.65 L564.08,304.36 L564.42,304.75 L564.77,303.87 L565.11,304.71 L565.45,304.46 L565.8,304.12 L566.14,303.83 L566.48,305.05 L566.83,304.2 L567.17,304.39 L567.51,304.87 L567.86,304.57 L568.2,304.41 L568.54,304.37 L568.89,304.27 L569.23,304.14 L569.57,303.53 L569.92,304.58 L570.26,303.99 L570.6,304.26 L570.95,303.98 L571.29,303.96 L571.63,304.11 L571.97,303.84 L572.32,303.4 L572.66,303.67 L573,303.45 L573.35,304.12 L573.69,303.58 L574.03,303.27 L574.38,303.9 L574.72,303.79 L575.06,304.45 L575.41,303.65 L575.75,303.94 L576.09,303.78 L576.44,303.77 L576.78,303.12 L577.12,303.71 L577.47,303.71 L577.81,303.37 L578.15,303.66 L578.5,303.35 L578.84,303.93 L579.18,303.84 L579.53,303.76 L579.87,303.5 L580.21,303.41 L580.55,303.34 L580.9,303.54 L581.24,303.18 L581.58,303.15 L581.93,303.54 L582.27,302.7 L582.61,303.66 L582.96,303.14 L583.3,303.34 L583.64,302.76 L583.99,303.3 L584.33,302.71 L584.67,302.79 L585.02,303.38 L585.36,303.67 L585.7,302.69 L586.05,303.14 L586.39,302.67 L586.73,303.35 L587.08,302.78 L587.42,302.85 L587.76,303.06 L588.11,302.97 L588.45,303.25 L588.79,303.35 L589.13,303.12 L589.48,302.77 L589.82,302.43 L590.16,302.65 L590.51,303.25 L590.85,302.33 L591.19,302.65 L591.54,302.42 L591.88,302.87 L592.22,302.52 L592.57,302.73 L592.91,302.96 L593.25,302.5 L593.6,302.73 L593.94,302.54 L594.28,302.56 L594.63,301.95 L594.97,302.71 L595.31,302.77 L595.66,302.89 L596,303.24 L596.34,301.95 L596.69,302.52 L597.03,302.54 L597.37,302.05 L597.71,302.94 L598.06,302.61 L598.4,302.23 L598.74,302.08 L599.09,302.78 L599.43,302.45 L599.77,302.22 L600.12,302.56 L600.46,302.61 L600.8,302.41 L601.15,302.81 L601.49,302.1 L601.83,302.79 L602.18,302.62 L602.52,302.59 L602.86,302.55 L603.21,302.48 L603.55,303.36 L603.89,302.29 L604.24,302.2 L604.58,303.39 L604.92,303 L605.27,302.58 L605.61,303.01 L605.95,302.12 L606.29,302.82 L606.64,302.16 L606.98,302.18 L607.32,303.01 L607.67,302.63 L608.01,302.48 L608.35,302.49 L608.7,303.26 L609.04,303.15 L609.38,302.53 L609.73,303.08 L610.07,303.02 L610.41,302.96 L610.76,303.44 L611.1,303.32 L611.44,302.5 L611.79,303.06 L612.13,303.8 L612.47,303.27 L612.82,303.45 L613.16,303.28 L613.5,303.71 L613.85,303.93 L614.19,303.36 L614.53,303.39 L614.87,303.93 L615.22,303.71 L615.56,303.25 L615.9,304.02 L616.25,303.58 L616.59,303.28 L616.93,303.22 L617.28,303.68 L617.62,304.42 L617.96,303.56 L618.31,304.22 L618.65,304.03 L618.99,303.6 L619.34,304.25 L619.68,304.25 L620.02,304.45 L620.37,303.67 L620.71,304.29 L621.05,303.92 L621.4,303.91 L621.74,303.81 L622.08,304.45 L622.43,304.7 L622.77,304.1 L623.11,304.02 L623.45,304.11 L623.8,304.33 L624.14,303.76 L624.48,305.13 L624.83,304.46 L625.17,304.53 L625.51,304.24 L625.86,304.49 L626.2,304.47 L626.54,304.65 L626.89,304.5 L627.23,304.4 L627.57,305.45 L627.92,304.61 L628.26,305.45 L628.6,304.22 L628.95,304.76 L629.29,304.96 L629.63,304.94 L629.98,305.4 L630.32,304.97 L630.66,305.68 L631.01,305.33 L631.35,305.82 L631.69,305.15 L632.03,305.47 L632.38,304.95 L632.72,305.69 L633.06,305.47 L633.41,305.96 L633.75,305.1 L634.09,305.38 L634.44,305.23 L634.78,305.13 L635.12,305.53 L635.47,305.7 L635.81,305.62 L636.15,305.57 L636.5,305.27 L636.84,305.93 L637.18,305.45 L637.53,306.25 L637.87,305.51 L638.21,305.57 L638.56,305.76 L638.9,305.41 L639.24,305.58 L639.59,306.18 L639.93,305.69 L640.27,306.26 L640.61,306.31 L640.96,306.35 L641.3,306.03 L641.64,306.01 L641.99,305.94 L642.33,305.46 L642.67,306.4 L643.02,305.85 L643.36,306.38 L643.7,306.1 L644,304.1 L644.2,306.4" fill="none" stroke="#1c1c1c" stroke-width="1.0" stroke-linejoin="round" />
<path d="M485.97,299.27 L486.32,296.48 L486.66,292.53 L487,288.06 L487.35,279.45 L487.69,266.58 L488.03,260.03 L488.38,253.21 L488.72,250.73 L489.06,251.3 L489.41,253.86 L489.75,259.17 L490.09,259.29 L490.43,267.25 L490.78,269.63 L491.12,270.63 L491.46,273.05 L491.81,275.5 L492.15,276.24 L492.49,277.05 L492.84,277.67 L493.18,280.73 L493.52,280.33 L493.87,280.67 L494.21,281.78 L494.55,282.18 L494.9,283.11 L495.24,283.59 L495.58,285.04 L495.93,283.98 L496.27,284.12 L496.61,286.87 L496.96,286.67 L497.3,286.8 L497.64,286.08 L497.99,287.67 L498.33,288.66 L498.67,290.19 L499.01,289.47 L499.36,290.13 L499.7,290.43 L500.04,289.46 L500.39,290.88 L500.73,291.03 L501.07,290.98 L501.42,290.93 L501.76,291.96 L502.1,291.97 L502.45,292.19 L502.79,293.08 L503.13,292.37 L503.48,292.95 L503.82,293.18 L504.16,293.57 L504.51,294.33 L504.85,293.04 L505.19,292.74 L505.54,292.51 L505.88,292.14 L506.22,292.73 L506.57,290.25 L506.91,291.12 L507.25,291.03 L507.59,290.82 L507.94,290.81 L508.28,290.76 L508.62,291.55 L508.97,291.67 L509.31,292.05 L509.65,292.09 L510,292.94 L510.34,292.94 L510.68,292.56 L511.03,292.75 L511.37,291.23 L511.71,292.16 L512.06,289.92 L512.4,290.81 L512.74,289.6 L513.09,288.47 L513.43,287.07 L513.77,286.04 L514.12,285.68 L514.46,285 L514.8,284.78 L515.15,284.09 L515.49,283.94 L515.83,284.87 L516.17,285.73 L516.52,286.5 L516.86,287.46 L517.2,287.98 L517.55,288.26 L517.89,288.79 L518.23,288.96 L518.58,290.17 L518.92,290.08 L519.26,290.06 L519.61,291.27 L519.95,291.47 L520.29,291.85 L520.64,291.87 L520.98,292.78 L521.32,293.37 L521.67,292.69 L522.01,293.39 L522.35,293.82 L522.7,293.88 L523.04,295.24 L523.38,294.83 L523.73,295.28 L524.07,294.5 L524.41,295.93 L524.75,295.42 L525.1,295.38 L525.44,296.39 L525.78,295.62 L526.13,295.88 L526.47,296.16 L526.81,296.69 L527.16,296.74 L527.5,296.45 L527.84,297.57 L528.19,297.47 L528.53,296.39 L528.87,297.33 L529.22,297.13 L529.56,297.44 L529.9,297.11 L530.25,297.45 L530.59,296.88 L530.93,297.71 L531.28,298.37 L531.62,297.8 L531.96,297.53 L532.31,297.5 L532.65,297.99 L532.99,298.01 L533.33,297.55 L533.68,298.31 L534.02,298.19 L534.36,297.95 L534.71,298.58 L535.05,297.81 L535.39,298.5 L535.74,298.23 L536.08,299.44 L536.42,298.06 L536.77,298.09 L537.11,298.77 L537.45,298.9 L537.8,299.54 L538.14,298.28 L538.48,299.26 L538.83,299.4 L539.17,299.77 L539.51,299.47 L539.86,299.21 L540.2,299.78 L540.54,299 L540.89,299.56 L541.23,299.44 L541.57,299.8 L541.91,299.78 L542.26,299.32 L542.6,299.91 L542.94,299.46 L543.29,299.38 L543.63,299.67 L543.97,298.95 L544.32,299.44 L544.66,299.65 L545,300.07 L545.35,299.68 L545.69,299.65 L546.03,299.7 L546.38,299.81 L546.72,300.11 L547.06,299.58 L547.41,299.99 L547.75,300.17 L548.09,300.17 L548.44,299.76 L548.78,299.6 L549.12,300.65 L549.47,299.8 L549.81,300.3 L550.15,299.78 L550.49,299.75 L550.84,299.82 L551.18,299.44 L551.52,299.96 L551.87,299.99 L552.21,299.77 L552.55,299.84 L552.9,300.4 L553.24,300.29 L553.58,300.64 L553.93,300.34 L554.27,300.54 L554.61,299.73 L554.96,299.77 L555.3,300.82 L555.64,300.41 L555.99,299.65 L556.33,299.98 L556.67,299.72 L557.02,300.51 L557.36,300.14 L557.7,300.26 L558.05,300.84 L558.39,299.91 L558.73,299.49 L559.07,300.11 L559.42,300.11 L559.76,299.79 L560.1,300.01 L560.45,300.18 L560.79,300.08 L561.13,299.69 L561.48,300.19 L561.82,299.97 L562.16,299.91 L562.51,300.08 L562.85,300.3 L563.19,300.16 L563.54,300.06 L563.88,300.24 L564.22,300.16 L564.57,300.06 L564.91,299.38 L565.25,299.68 L565.6,299.31 L565.94,299.85 L566.28,299.74 L566.63,300.06 L566.97,299.81 L567.31,300.05 L567.65,299.22 L568,300.25 L568.34,299.78 L568.68,299.17 L569.03,299.99 L569.37,299.79 L569.71,299.3 L570.06,300.02 L570.4,300.06 L570.74,300.31 L571.09,299.46 L571.43,299.24 L571.77,299.49 L572.12,299.27 L572.46,298.97 L572.8,299.87 L573.15,299.93 L573.49,300.06 L573.83,299.25 L574.18,299.33 L574.52,299.55 L574.86,299.64 L575.21,299.47 L575.55,298.74 L575.89,299.35 L576.23,299.65 L576.58,299.65 L576.92,299.14 L577.26,298.95 L577.61,298.84 L577.95,298.56 L578.29,299.49 L578.64,299.2 L578.98,298.84 L579.32,298.93 L579.67,299.03 L580.01,299.43 L580.35,299.15 L580.7,299.11 L581.04,298.92 L581.38,298.79 L581.73,299.25 L582.07,298.92 L582.41,299.08 L582.76,298.75 L583.1,298.89 L583.44,298.82 L583.79,298.27 L584.13,298.82 L584.47,298.67 L584.81,298.62 L585.16,299.12 L585.5,298.31 L585.84,297.96 L586.19,299.07 L586.53,298.68 L586.87,298.69 L587.22,298.21 L587.56,298.53 L587.9,298.76 L588.25,298.7 L588.59,298.6 L588.93,298.3 L589.28,297.94 L589.62,298.34 L589.96,298.33 L590.31,298.54 L590.65,297.65 L590.99,298.55 L591.34,298.35 L591.68,298.19 L592.02,297.98 L592.37,297.9 L592.71,298.31 L593.05,298.5 L593.39,298.47 L593.74,297.97 L594.08,298.18 L594.42,298.24 L594.77,297.9 L595.11,298.12 L595.45,298.16 L595.8,297.98 L596.14,298 L596.48,297.95 L596.83,297.61 L597.17,298.2 L597.51,297.67 L597.86,297.56 L598.2,297.97 L598.54,298.34 L598.89,297.98 L599.23,297.73 L599.57,297.83 L599.92,298.32 L600.26,297.94 L600.6,297.75 L600.95,297.87 L601.29,298.26 L601.63,297.74 L601.97,297.96 L602.32,298.5 L602.66,297.82 L603,298.08 L603.35,298.38 L603.69,298.38 L604.03,297.55 L604.38,298.24 L604.72,298.4 L605.06,297.96 L605.41,298.19 L605.75,297.79 L606.09,297.42 L606.44,298.07 L606.78,298.15 L607.12,298 L607.47,298.22 L607.81,297.8 L608.15,298.1 L608.5,298.13 L608.84,298.08 L609.18,298.22 L609.53,298.13 L609.87,298.47 L610.21,298.7 L610.55,297.92 L610.9,298.26 L611.24,299.01 L611.58,297.95 L611.93,298.36 L612.27,298.55 L612.61,297.91 L612.96,298.33 L613.3,298.28 L613.64,298.6 L613.99,298.38 L614.33,298.65 L614.67,298.61 L615.02,298.97 L615.36,299.19 L615.7,298.55 L616.05,299.38 L616.39,298.4 L616.73,298.61 L617.08,298.13 L617.42,298.33 L617.76,298.62 L618.11,299.43 L618.45,299.04 L618.79,298.59 L619.13,298.48 L619.48,299.57 L619.82,299.45 L620.16,298.63 L620.51,299.07 L620.85,299.1 L621.19,299.14 L621.54,299.23 L621.88,299.35 L622.22,299.31 L622.57,299.75 L622.91,299.65 L623.25,299.03 L623.6,299.32 L623.94,299.77 L624.28,299.77 L624.63,299.07 L624.97,299.4 L625.31,299.56 L625.66,300.04 L626,299.66 L626.34,299.94 L626.69,299.68 L627.03,299.66 L627.37,299.58 L627.71,299.5 L628.06,300.25 L628.4,299.72 L628.74,299.97 L629.09,300.2 L629.43,300.45 L629.77,300.45 L630.12,299.46 L630.46,300.02 L630.8,299.94 L631.15,300.2 L631.49,300.38 L631.83,300.47 L632.18,300.22 L632.52,300.25 L632.86,300.35 L633.21,300.12 L633.55,300.27 L633.89,300.55 L634.24,300.49 L634.58,301.08 L634.92,301.06 L635.27,300.42 L635.61,300.2 L635.95,300.64 L636.29,300.82 L636.64,300.46 L636.98,300.95 L637.32,300.66 L637.67,300.85 L638.01,300.6 L638.35,300.47 L638.7,301.39 L639.04,300.68 L639.38,301.01 L639.73,301.37 L640.07,300.75 L640.41,300.82 L640.76,300.65 L641.1,300.9 L641.44,301.53 L641.79,300.63 L642.13,301.3 L642.47,301.22 L642.82,301.21 L643.16,301.18 L643.5,301.31 L643.85,301.4 L644.19,301.76 L644.53,301.75 L644.87,301.44 L645.22,300.75 L645.56,300.78 L645.9,301.78 L646.25,301.72 L646.59,301.96 L646.93,301.7 L647.28,300.95 L647.58,298.95 L647.78,301.25" fill="none" stroke="#1c1c1c" stroke-width="1.0" stroke-linejoin="round" />
<path d="M489.55,295.91 L489.89,293.66 L490.23,288.67 L490.58,282.05 L490.92,274.18 L491.26,267.75 L491.61,257.49 L491.95,253.08 L492.29,249.34 L492.64,248.77 L492.98,254.65 L493.32,257.24 L493.66,260.13 L494.01,266.27 L494.35,265.09 L494.69,268 L495.04,269.38 L495.38,270.86 L495.72,270.89 L496.07,273.74 L496.41,276.27 L496.75,275.72 L497.1,276.69 L497.44,277.84 L497.78,276.34 L498.13,279.55 L498.47,281.29 L498.81,279.52 L499.16,281.04 L499.5,282.84 L499.84,280.88 L500.19,282.89 L500.53,283.26 L500.87,283.92 L501.22,283.69 L501.56,283.64 L501.9,283.17 L502.24,284.61 L502.59,284.6 L502.93,284.97 L503.27,286.43 L503.62,284.85 L503.96,286.19 L504.3,287.27 L504.65,285.86 L504.99,288.71 L505.33,287.25 L505.68,287.26 L506.02,288.38 L506.36,288.56 L506.71,289.12 L507.05,288.91 L507.39,288.77 L507.74,289.66 L508.08,288.94 L508.42,288.22 L508.77,288.68 L509.11,288.04 L509.45,287.27 L509.8,286.79 L510.14,287.13 L510.48,286.93 L510.82,285.6 L511.17,286.1 L511.51,286.56 L511.85,287.33 L512.2,286.81 L512.54,287.73 L512.88,287.9 L513.23,288.84 L513.57,287.52 L513.91,288.9 L514.26,288.45 L514.6,288.73 L514.94,287.08 L515.29,286.86 L515.63,285.96 L515.97,284.57 L516.32,284.32 L516.66,282.93 L517,282.45 L517.35,281.37 L517.69,280.44 L518.03,279.42 L518.38,279.17 L518.72,278.53 L519.06,278.52 L519.4,280.11 L519.75,281.11 L520.09,280.49 L520.43,281.51 L520.78,281.68 L521.12,282.88 L521.46,284.08 L521.81,283.88 L522.15,284.22 L522.49,285.74 L522.84,285.7 L523.18,286.27 L523.52,286.96 L523.87,286.49 L524.21,287.79 L524.55,287.85 L524.9,288.42 L525.24,288.75 L525.58,288.76 L525.93,289.5 L526.27,288.64 L526.61,289.57 L526.96,289.14 L527.3,290.77 L527.64,290.15 L527.98,290.17 L528.33,289.82 L528.67,290.79 L529.01,291.66 L529.36,291.07 L529.7,291.97 L530.04,291.05 L530.39,291.89 L530.73,292.02 L531.07,292.49 L531.42,292.04 L531.76,291.9 L532.1,291.47 L532.45,292.3 L532.79,292.65 L533.13,292.94 L533.48,293.09 L533.82,292.8 L534.16,293.12 L534.51,292.99 L534.85,293.05 L535.19,293.62 L535.54,293.19 L535.88,293.8 L536.22,293.26 L536.56,293.37 L536.91,293.18 L537.25,293.66 L537.59,294.09 L537.94,293.53 L538.28,293.09 L538.62,293.9 L538.97,294.19 L539.31,293.76 L539.65,293.75 L540,294 L540.34,294.31 L540.68,294.26 L541.03,293.9 L541.37,294.24 L541.71,295.03 L542.06,294.37 L542.4,294.14 L542.74,294.92 L543.09,294.7 L543.43,294.84 L543.77,295.28 L544.12,295.32 L544.46,294.53 L544.8,293.96 L545.14,295.33 L545.49,295.35 L545.83,294.11 L546.17,294.65 L546.52,294.98 L546.86,294.39 L547.2,295.43 L547.55,295.18 L547.89,294.96 L548.23,294.42 L548.58,295.01 L548.92,294.95 L549.26,295.14 L549.61,295.28 L549.95,295.01 L550.29,294.73 L550.64,295.66 L550.98,295.91 L551.32,295.72 L551.67,295.26 L552.01,294.83 L552.35,294.92 L552.7,295.11 L553.04,294.89 L553.38,294.95 L553.72,295.11 L554.07,295.33 L554.41,295.32 L554.75,294.96 L555.1,295.11 L555.44,295.49 L555.78,295.28 L556.13,295.92 L556.47,295.85 L556.81,295.49 L557.16,295.87 L557.5,295.5 L557.84,295.68 L558.19,295.99 L558.53,295.94 L558.87,295.1 L559.22,295.66 L559.56,295.5 L559.9,295.53 L560.25,295.53 L560.59,296.17 L560.93,295.34 L561.28,295.99 L561.62,295.26 L561.96,296.23 L562.3,295.38 L562.65,296.03 L562.99,295.59 L563.33,295.84 L563.68,295.69 L564.02,295.26 L564.36,296.07 L564.71,295.5 L565.05,295.5 L565.39,295.15 L565.74,295.16 L566.08,295.61 L566.42,295.8 L566.77,294.78 L567.11,295.28 L567.45,295.77 L567.8,295.82 L568.14,296.12 L568.48,295.52 L568.83,295.54 L569.17,295.1 L569.51,295.63 L569.86,295.29 L570.2,295.42 L570.54,295.05 L570.88,295.31 L571.23,295.61 L571.57,295.18 L571.91,294.94 L572.26,295.7 L572.6,294.8 L572.94,295.72 L573.29,294.53 L573.63,295.22 L573.97,295.04 L574.32,295.03 L574.66,294.73 L575,295.19 L575.35,294.84 L575.69,295.03 L576.03,295.11 L576.38,295.71 L576.72,295.69 L577.06,295.1 L577.41,294.71 L577.75,294.88 L578.09,294.5 L578.44,294.86 L578.78,294.4 L579.12,294.42 L579.46,295.06 L579.81,295.33 L580.15,295.27 L580.49,295.21 L580.84,294.25 L581.18,294.42 L581.52,294.93 L581.87,293.96 L582.21,294.1 L582.55,294.88 L582.9,294.41 L583.24,294.68 L583.58,294.87 L583.93,294.7 L584.27,294.6 L584.61,294.76 L584.96,294.27 L585.3,295.06 L585.64,294.57 L585.99,294.59 L586.33,294.71 L586.67,294.16 L587.02,294.55 L587.36,294.4 L587.7,294.19 L588.04,294.01 L588.39,293.53 L588.73,294.21 L589.07,294.32 L589.42,293.68 L589.76,293.37 L590.1,293.84 L590.45,294.41 L590.79,294.05 L591.13,293.97 L591.48,294.1 L591.82,293.46 L592.16,293.57 L592.51,293.19 L592.85,293.33 L593.19,294.25 L593.54,294.18 L593.88,294.41 L594.22,294.02 L594.57,293.93 L594.91,293.87 L595.25,293.64 L595.6,293.95 L595.94,293.93 L596.28,292.98 L596.62,293.27 L596.97,293.33 L597.31,293.15 L597.65,293.38 L598,293.6 L598.34,293.76 L598.68,293.83 L599.03,292.87 L599.37,293.81 L599.71,293.63 L600.06,293.03 L600.4,293.33 L600.74,293.76 L601.09,293.35 L601.43,293.17 L601.77,293.59 L602.12,293.95 L602.46,293.82 L602.8,293.16 L603.15,293.3 L603.49,292.99 L603.83,293.6 L604.18,293.29 L604.52,293.42 L604.86,293.75 L605.2,292.86 L605.55,294.07 L605.89,293.7 L606.23,293.22 L606.58,293.44 L606.92,293.37 L607.26,293.33 L607.61,293.57 L607.95,293.65 L608.29,293.68 L608.64,293.76 L608.98,293.5 L609.32,293.89 L609.67,293.17 L610.01,293.16 L610.35,293.55 L610.7,294 L611.04,293.45 L611.38,293.45 L611.73,293.83 L612.07,293.68 L612.41,293.6 L612.76,294.25 L613.1,294.09 L613.44,293.73 L613.78,293.71 L614.13,293.16 L614.47,293.83 L614.81,293.67 L615.16,293.84 L615.5,293.73 L615.84,293.73 L616.19,293.84 L616.53,293.57 L616.87,294.06 L617.22,293.98 L617.56,294.07 L617.9,294.68 L618.25,294.14 L618.59,293.91 L618.93,293.6 L619.28,293.62 L619.62,293.99 L619.96,293.54 L620.31,294.47 L620.65,294.47 L620.99,294.47 L621.34,294.16 L621.68,294.87 L622.02,294.44 L622.36,293.97 L622.71,294.06 L623.05,294.05 L623.39,294.35 L623.74,294.62 L624.08,293.92 L624.42,293.97 L624.77,295.15 L625.11,294.44 L625.45,294.77 L625.8,294.72 L626.14,294.65 L626.48,294.36 L626.83,295.43 L627.17,295.34 L627.51,295.35 L627.86,295.41 L628.2,294.72 L628.54,295.05 L628.89,295.3 L629.23,294.62 L629.57,295.44 L629.92,295.2 L630.26,295.06 L630.6,294.63 L630.94,295.13 L631.29,295.28 L631.63,295.08 L631.97,295.6 L632.32,295.71 L632.66,295.57 L633,295.45 L633.35,295.37 L633.69,295.28 L634.03,295.86 L634.38,295.86 L634.72,296.26 L635.06,296.11 L635.41,295.24 L635.75,295.91 L636.09,295.9 L636.44,295.34 L636.78,295.72 L637.12,296.03 L637.47,295.92 L637.81,295.77 L638.15,296.16 L638.5,295.64 L638.84,295.98 L639.18,296.16 L639.52,295.93 L639.87,296.47 L640.21,296.43 L640.55,296.4 L640.9,296.39 L641.24,296.02 L641.58,296.16 L641.93,296.32 L642.27,296.9 L642.61,296.12 L642.96,296.45 L643.3,296.14 L643.64,296 L643.99,296.39 L644.33,296.79 L644.67,296.55 L645.02,296.67 L645.36,296.64 L645.7,296.92 L646.05,296.9 L646.39,296.71 L646.73,296.68 L647.08,296.98 L647.42,296.11 L647.76,297.47 L648.1,297.28 L648.45,296.86 L648.79,296.85 L649.13,296.25 L649.48,296.83 L649.82,296.77 L650.16,296.96 L650.51,296.88 L650.85,296.38 L651.15,294.38 L651.35,296.68" fill="none" stroke="#1c1c1c" stroke-width="1.0" stroke-linejoin="round" />
<path d="M493.12,291.54 L493.46,288.7 L493.81,284.9 L494.15,279.87 L494.49,270.61 L494.84,264.82 L495.18,256.1 L495.52,248.54 L495.87,245.36 L496.21,249.34 L496.55,250.55 L496.89,255.37 L497.24,256.77 L497.58,260.42 L497.92,261.29 L498.27,265.92 L498.61,267.03 L498.95,269.5 L499.3,269.66 L499.64,271.72 L499.98,270.65 L500.33,270.63 L500.67,274.35 L501.01,273.52 L501.36,274.38 L501.7,275.67 L502.04,275.74 L502.39,276.43 L502.73,278.14 L503.07,277.43 L503.42,277.64 L503.76,278.23 L504.1,279.36 L504.45,279.12 L504.79,279.1 L505.13,278.93 L505.47,280.32 L505.82,281.36 L506.16,281.16 L506.5,280.2 L506.85,282.13 L507.19,282.55 L507.53,282.2 L507.88,282.56 L508.22,283.33 L508.56,283.57 L508.91,283.18 L509.25,284.25 L509.59,284.43 L509.94,284.96 L510.28,283.74 L510.62,284.91 L510.97,284.13 L511.31,284.42 L511.65,285.1 L512,285.24 L512.34,284.15 L512.68,283.93 L513.03,283.29 L513.37,281.73 L513.71,282.09 L514.05,281.57 L514.4,281.43 L514.74,281.97 L515.08,281.59 L515.43,282.22 L515.77,283.17 L516.11,283.51 L516.46,283.25 L516.8,283.52 L517.14,282.99 L517.49,283.66 L517.83,284.19 L518.17,282.62 L518.52,282.77 L518.86,281.6 L519.2,281.48 L519.55,279.71 L519.89,278.94 L520.23,277.49 L520.58,277.82 L520.92,275.62 L521.26,275.6 L521.61,274.07 L521.95,274.07 L522.29,273.85 L522.63,273.8 L522.98,273.9 L523.32,275.55 L523.66,275.97 L524.01,276.65 L524.35,276.62 L524.69,277.66 L525.04,278.87 L525.38,279.74 L525.72,279.99 L526.07,280.57 L526.41,280.75 L526.75,281.04 L527.1,281.83 L527.44,281.9 L527.78,282.91 L528.13,282.13 L528.47,283.32 L528.81,283.48 L529.16,283.81 L529.5,284.88 L529.84,284.11 L530.19,284.31 L530.53,284.84 L530.87,284.72 L531.21,285.34 L531.56,285.01 L531.9,285.49 L532.24,285.79 L532.59,286.49 L532.93,285.92 L533.27,286.26 L533.62,286.18 L533.96,286.74 L534.3,286.32 L534.65,287.19 L534.99,287.2 L535.33,287.51 L535.68,287.73 L536.02,287.95 L536.36,287.9 L536.71,287.88 L537.05,288.01 L537.39,288.55 L537.74,288.21 L538.08,288.32 L538.42,288.25 L538.77,288.51 L539.11,288.45 L539.45,288.43 L539.79,288.71 L540.14,288.41 L540.48,288.77 L540.82,289.21 L541.17,288.38 L541.51,288.88 L541.85,288.8 L542.2,289.34 L542.54,289.54 L542.88,289.69 L543.23,289.07 L543.57,289.9 L543.91,289.29 L544.26,289.24 L544.6,289.44 L544.94,289.98 L545.29,288.88 L545.63,289.65 L545.97,289.17 L546.32,290.27 L546.66,289.19 L547,289.6 L547.35,289.5 L547.69,289.77 L548.03,289.46 L548.37,289.71 L548.72,289.9 L549.06,290.17 L549.4,290.38 L549.75,290.27 L550.09,289.89 L550.43,289.95 L550.78,290.15 L551.12,290.75 L551.46,290.37 L551.81,289.67 L552.15,290.4 L552.49,290.15 L552.84,290.36 L553.18,290.62 L553.52,290.84 L553.87,290.15 L554.21,290.41 L554.55,290.32 L554.9,290.72 L555.24,290.73 L555.58,290.46 L555.93,290.86 L556.27,290.85 L556.61,291.19 L556.95,291.01 L557.3,290.15 L557.64,290.62 L557.98,290.37 L558.33,290.68 L558.67,290.69 L559.01,290.72 L559.36,291.06 L559.7,290.8 L560.04,290.56 L560.39,290.56 L560.73,290.6 L561.07,291.12 L561.42,290.93 L561.76,291.11 L562.1,290.34 L562.45,291 L562.79,290.39 L563.13,290.9 L563.48,291.01 L563.82,291.05 L564.16,290.39 L564.51,291.08 L564.85,291.06 L565.19,291.62 L565.53,290.86 L565.88,290.95 L566.22,291.25 L566.56,290.77 L566.91,291.4 L567.25,291.62 L567.59,291.13 L567.94,290.45 L568.28,291.17 L568.62,290.99 L568.97,290.75 L569.31,291.12 L569.65,290.89 L570,290.32 L570.34,291.52 L570.68,290.99 L571.03,290.81 L571.37,291.23 L571.71,290.48 L572.06,290.67 L572.4,291.27 L572.74,290.84 L573.09,290.11 L573.43,291.47 L573.77,290.31 L574.11,290.92 L574.46,290.83 L574.8,290.63 L575.14,290.85 L575.49,290.81 L575.83,290.17 L576.17,290.8 L576.52,290.62 L576.86,290.69 L577.2,290.43 L577.55,290.31 L577.89,290.65 L578.23,290.38 L578.58,290.77 L578.92,290.48 L579.26,291.18 L579.61,290.37 L579.95,290.57 L580.29,290.93 L580.64,290.19 L580.98,290.79 L581.32,290.54 L581.67,290.43 L582.01,290.2 L582.35,290.5 L582.69,290.39 L583.04,289.72 L583.38,290.15 L583.72,290.25 L584.07,289.84 L584.41,289.97 L584.75,290.13 L585.1,290.56 L585.44,290.09 L585.78,289.79 L586.13,290.23 L586.47,289.86 L586.81,289.29 L587.16,289.6 L587.5,289.9 L587.84,289.43 L588.19,289.84 L588.53,289.54 L588.87,289.79 L589.22,289.54 L589.56,289.42 L589.9,289.75 L590.25,289.99 L590.59,289.14 L590.93,289.57 L591.27,289.93 L591.62,290 L591.96,289.44 L592.3,289.79 L592.65,289.41 L592.99,290.19 L593.33,289.67 L593.68,289.33 L594.02,289.79 L594.36,289.72 L594.71,289.53 L595.05,289.22 L595.39,289.18 L595.74,289.42 L596.08,289.23 L596.42,289.1 L596.77,289.08 L597.11,288.99 L597.45,289.19 L597.8,289.66 L598.14,289.28 L598.48,289.75 L598.83,289.08 L599.17,289.45 L599.51,288.94 L599.85,288.93 L600.2,289.75 L600.54,288.96 L600.88,288.37 L601.23,288.96 L601.57,289.18 L601.91,289.03 L602.26,288.76 L602.6,288.83 L602.94,288.7 L603.29,289.54 L603.63,289 L603.97,288.9 L604.32,288.81 L604.66,289.41 L605,288.7 L605.35,288.93 L605.69,288.23 L606.03,289.23 L606.38,288.68 L606.72,288.63 L607.06,288.6 L607.41,288.98 L607.75,289 L608.09,288.47 L608.43,288.99 L608.78,288.51 L609.12,288.97 L609.46,288.45 L609.81,288.95 L610.15,289.22 L610.49,289.01 L610.84,289 L611.18,288.79 L611.52,289.21 L611.87,288.56 L612.21,288.28 L612.55,289.63 L612.9,288.66 L613.24,288.72 L613.58,288.89 L613.93,288.33 L614.27,288.7 L614.61,288.87 L614.96,288.92 L615.3,289.03 L615.64,289.18 L615.99,288.43 L616.33,289.47 L616.67,289.22 L617.01,288.72 L617.36,289.23 L617.7,289.12 L618.04,289.39 L618.39,289.21 L618.73,289.1 L619.07,289.25 L619.42,289.46 L619.76,289.52 L620.1,289.78 L620.45,289.23 L620.79,289.37 L621.13,289.69 L621.48,289.68 L621.82,288.9 L622.16,289.36 L622.51,289.44 L622.85,289.37 L623.19,288.95 L623.54,289.46 L623.88,289.8 L624.22,289.72 L624.57,289.52 L624.91,290.25 L625.25,290.4 L625.59,289.56 L625.94,289.73 L626.28,289.69 L626.62,289.98 L626.97,290.34 L627.31,290.05 L627.65,290.02 L628,290.3 L628.34,289.83 L628.68,289.79 L629.03,290.18 L629.37,290.49 L629.71,290.72 L630.06,290.37 L630.4,290.46 L630.74,290.48 L631.09,290.58 L631.43,289.93 L631.77,290.55 L632.12,290.17 L632.46,290.02 L632.8,290.82 L633.15,290.75 L633.49,290.07 L633.83,290.79 L634.17,290.88 L634.52,290.35 L634.86,290.74 L635.2,290.83 L635.55,290.59 L635.89,290.87 L636.23,290.79 L636.58,291.34 L636.92,290.89 L637.26,291.21 L637.61,290.68 L637.95,291.47 L638.29,291.29 L638.64,291.3 L638.98,290.96 L639.32,291.27 L639.67,291.43 L640.01,291.32 L640.35,291.31 L640.7,291.8 L641.04,291.79 L641.38,291.3 L641.73,291.89 L642.07,291.34 L642.41,291.59 L642.75,291.24 L643.1,291.71 L643.44,291.19 L643.78,291.8 L644.13,291.82 L644.47,292.01 L644.81,291.81 L645.16,292.45 L645.5,292.13 L645.84,291.31 L646.19,291.82 L646.53,291.58 L646.87,291.59 L647.22,292.25 L647.56,291.99 L647.9,292.42 L648.25,291.8 L648.59,292.28 L648.93,291.94 L649.28,292.41 L649.62,292.09 L649.96,292.66 L650.31,292.24 L650.65,292.26 L650.99,291.58 L651.33,292.08 L651.68,291.99 L652.02,291.84 L652.36,292.25 L652.71,292.02 L653.05,292.26 L653.39,292.52 L653.74,292.48 L654.08,292.63 L654.42,292.98 L654.72,290.98 L654.92,293.28" fill="none" stroke="#1c1c1c" stroke-width="1.0" stroke-linejoin="round" />
<path d="M519.69,278.78 L520.03,279.49 L520.37,278.69 L520.72,279.73 L521.06,279.97 L521.4,279.25 L521.75,278.8 L522.09,277.18 L522.43,277.13 L522.78,275.94 L523.12,275.72 L523.46,273.14 L523.81,273.03 L524.15,271.58 L524.49,270.57 L524.84,269.56 L525.18,268.76 L525.52,268.25 L525.87,268.74 L526.21,268.32 L526.55,267.96 L526.89,269.25 L527.24,270.57 L527.58,271.74 L527.92,272.41 L528.27,272.14 L528.61,274.02 L528.95,274.8 L529.3,274.67 L529.64,274.82 L529.98,275.43 L530.33,275.7 L530.67,277.18 L531.01,277.46 L531.36,277.77 L531.7,277.96 L532.04,277.64 L532.39,278.94 L532.73,279.05 L533.07,279.94 L533.42,279.56 L533.76,279.64 L534.1,280.06 L534.45,280.72 L534.79,280.6 L535.13,281.26 L535.47,280.76 L535.82,280.73 L536.16,281.91 L536.5,281.37 L536.85,282.13 L537.19,282.07 L537.53,282.18 L537.88,281.99 L538.22,282.84 L538.56,281.65 L538.91,282.85 L539.25,282.71 L539.59,282.9 L539.94,282.84 L540.28,283.19 L540.62,283.88 L540.97,282.94 L541.31,282.8 L541.65,284.18 L542,283.26 L542.34,283.32 L542.68,284.04 L543.03,283.73 L543.37,284.56 L543.71,284.05 L544.05,284.57 L544.4,284.04 L544.74,284.38 L545.08,284.19 L545.43,284.13 L545.77,284.27 L546.11,283.73 L546.46,283.91 L546.8,284.87 L547.14,284.74 L547.49,284.35 L547.83,284.48 L548.17,284.94 L548.52,285.09 L548.86,285.01 L549.2,284.89 L549.55,285.16 L549.89,285.05 L550.23,285.16 L550.58,285.68 L550.92,284.49 L551.26,285.63 L551.61,285.03 L551.95,286.02 L552.29,285.63 L552.63,285.37 L552.98,285.53 L553.32,285.8 L553.66,285.95 L554.01,284.92 L554.35,285.31 L554.69,285.75 L555.04,285.37 L555.38,285.45 L555.72,285.45 L556.07,285.48 L556.41,286.25 L556.75,285.66 L557.1,286.21 L557.44,286.33 L557.78,285.63 L558.13,285.77 L558.47,285.48 L558.81,285.79 L559.16,285.95 L559.5,286.72 L559.84,285.92 L560.19,285.99 L560.53,285.73 L560.87,285.97 L561.21,285.96 L561.56,286.06 L561.9,286.21 L562.24,286.47 L562.59,286.34 L562.93,285.88 L563.27,286.8 L563.62,286.22 L563.96,286.63 L564.3,286.4 L564.65,285.75 L564.99,286.63 L565.33,286.72 L565.68,286.08 L566.02,285.97 L566.36,286.44 L566.71,286.62 L567.05,286.51 L567.39,285.83 L567.74,286.38 L568.08,286.72 L568.42,286.27 L568.77,286.3 L569.11,286.89 L569.45,285.77 L569.79,286.67 L570.14,286.38 L570.48,286.74 L570.82,285.98 L571.17,286.13 L571.51,286.03 L571.85,286.11 L572.2,286.29 L572.54,286.37 L572.88,286.68 L573.23,286.27 L573.57,286.01 L573.91,285.86 L574.26,286.05 L574.6,286.21 L574.94,285.61 L575.29,285.89 L575.63,286.79 L575.97,286.7 L576.32,285.68 L576.66,285.9 L577,285.81 L577.35,286.61 L577.69,286.34 L578.03,286.02 L578.37,286.28 L578.72,285.81 L579.06,285.43 L579.4,286.63 L579.75,286.08 L580.09,286.21 L580.43,285.94 L580.78,285.99 L581.12,286.35 L581.46,286.24 L581.81,286.31 L582.15,285.95 L582.49,285.81 L582.84,285.23 L583.18,286.06 L583.52,285.75 L583.87,285.82 L584.21,285.88 L584.55,285.65 L584.9,285.94 L585.24,285.08 L585.58,285.81 L585.93,285.33 L586.27,285.12 L586.61,286.14 L586.95,285.68 L587.3,285.4 L587.64,285.4 L587.98,285.89 L588.33,286.02 L588.67,285.45 L589.01,286.01 L589.36,285.53 L589.7,285.8 L590.04,285.71 L590.39,285.81 L590.73,285.68 L591.07,285.17 L591.42,285.52 L591.76,285.46 L592.1,285.41 L592.45,285.13 L592.79,285.59 L593.13,285.28 L593.48,285 L593.82,285.46 L594.16,285.47 L594.51,285.06 L594.85,285.75 L595.19,284.44 L595.53,285.26 L595.88,285.13 L596.22,284.51 L596.56,285.54 L596.91,285.12 L597.25,284.45 L597.59,284.64 L597.94,284.61 L598.28,285.16 L598.62,284.97 L598.97,285 L599.31,284.48 L599.65,284.77 L600,285.4 L600.34,284.57 L600.68,284.45 L601.03,284.6 L601.37,284.3 L601.71,283.95 L602.06,284.72 L602.4,284.71 L602.74,284.43 L603.09,284.88 L603.43,284.16 L603.77,284.32 L604.11,284.98 L604.46,284.81 L604.8,284.21 L605.14,284.86 L605.49,284.16 L605.83,284.63 L606.17,284.39 L606.52,284.42 L606.86,284.42 L607.2,283.72 L607.55,284.07 L607.89,284.3 L608.23,284.37 L608.58,284.26 L608.92,284.71 L609.26,284.35 L609.61,284.99 L609.95,284.38 L610.29,283.88 L610.64,283.79 L610.98,284.52 L611.32,284.32 L611.67,284.17 L612.01,284.72 L612.35,284.13 L612.69,284.53 L613.04,283.79 L613.38,283.98 L613.72,283.83 L614.07,284.58 L614.41,284.09 L614.75,283.8 L615.1,284.46 L615.44,284.71 L615.78,284.29 L616.13,284.11 L616.47,284.2 L616.81,284.32 L617.16,284.11 L617.5,284.65 L617.84,284.52 L618.19,284.45 L618.53,285.17 L618.87,284.89 L619.22,284.75 L619.56,284.05 L619.9,284.66 L620.25,284.12 L620.59,284.55 L620.93,284.83 L621.27,284.67 L621.62,284.4 L621.96,284.73 L622.3,284.88 L622.65,285 L622.99,284.24 L623.33,285.27 L623.68,284.84 L624.02,285.31 L624.36,284.58 L624.71,285.5 L625.05,284.66 L625.39,284.27 L625.74,285.07 L626.08,285.07 L626.42,284.76 L626.77,285.72 L627.11,285.47 L627.45,285.01 L627.8,285.4 L628.14,285.14 L628.48,285.55 L628.83,285.16 L629.17,285.54 L629.51,285.37 L629.85,285.6 L630.2,285.68 L630.54,285.67 L630.88,285.47 L631.23,285.43 L631.57,285.29 L631.91,285.41 L632.26,285.81 L632.6,286.1 L632.94,285.33 L633.29,285.46 L633.63,286.24 L633.97,285.93 L634.32,285.77 L634.66,285.86 L635,285.96 L635.35,286.12 L635.69,285.93 L636.03,285.98 L636.38,285.61 L636.72,286.28 L637.06,286.41 L637.41,285.52 L637.75,286.04 L638.09,286.28 L638.43,286.06 L638.78,286.26 L639.12,285.98 L639.46,286.57 L639.81,286.29 L640.15,286.78 L640.49,286.1 L640.84,286.35 L641.18,286.51 L641.52,286.15 L641.87,286.64 L642.21,286.53 L642.55,286.67 L642.9,286.7 L643.24,286.64 L643.58,286.45 L643.93,287.17 L644.27,286.67 L644.61,287.24 L644.96,287.56 L645.3,286.86 L645.64,286.46 L645.99,286.46 L646.33,287.24 L646.67,286.8 L647.01,287.28 L647.36,287.09 L647.7,286.86 L648.04,287.24 L648.39,286.57 L648.73,287.13 L649.07,287.71 L649.42,287.56 L649.76,287.41 L650.1,287.41 L650.45,287.45 L650.79,287.32 L651.13,287.53 L651.48,287.53 L651.82,287.57 L652.16,287.4 L652.51,287.7 L652.85,287.69 L653.19,287.5 L653.54,287.21 L653.88,287.88 L654.22,287.73 L654.57,287.14 L654.91,287.87 L655.25,287.59 L655.59,287.67 L655.94,287.7 L656.28,287.93 L656.62,287.86 L656.97,287.55 L657.31,287.83 L657.65,288.05 L658,287.49 L658.3,285.49 L658.5,287.79" fill="none" stroke="#a02020" stroke-width="1.0" stroke-linejoin="round" />
<path d="M500.27,282.59 L500.61,280.09 L500.95,277.12 L501.3,271.76 L501.64,265.89 L501.98,259.7 L502.33,253.04 L502.67,247.82 L503.01,241.49 L503.36,246.06 L503.7,248.42 L504.04,251.76 L504.38,253.58 L504.73,255.65 L505.07,257.76 L505.41,261.65 L505.76,262.84 L506.1,262.24 L506.44,263.08 L506.79,265.45 L507.13,265.49 L507.47,266.03 L507.82,265.9 L508.16,266.78 L508.5,267.98 L508.85,267.24 L509.19,268.44 L509.53,269.95 L509.88,269.56 L510.22,269.78 L510.56,270.8 L510.91,270.21 L511.25,271.43 L511.59,271.74 L511.94,271.2 L512.28,272.47 L512.62,272.54 L512.96,273 L513.31,273.18 L513.65,274.27 L513.99,274.29 L514.34,273.01 L514.68,273.58 L515.02,273.97 L515.37,275.2 L515.71,274.6 L516.05,274.99 L516.4,276.38 L516.74,275.92 L517.08,276.09 L517.43,276.95 L517.77,276.01 L518.11,275.82 L518.46,276.08 L518.8,274.99 L519.14,274.79 L519.49,275.05 L519.83,274.28 L520.17,274.64 L520.52,273.43 L520.86,273.51 L521.2,272.88 L521.54,273.09 L521.89,273.6 L522.23,272.46 L522.57,273.1 L522.92,274.21 L523.26,273.4 L523.6,274.71 L523.95,275.26 L524.29,274.27 L524.63,275.02 L524.98,273.69 L525.32,273.67 L525.66,273.28 L526.01,272 L526.35,271.13 L526.69,270.04 L527.04,268.97 L527.38,267.66 L527.72,267.26 L528.07,266.19 L528.41,264.87 L528.75,264.15 L529.1,263.28 L529.44,262.68 L529.78,263.32 L530.12,263.09 L530.47,264.7 L530.81,265.1 L531.15,266.05 L531.5,267.53 L531.84,267.85 L532.18,268.44 L532.53,269.51 L532.87,269.26 L533.21,270.57 L533.56,269.98 L533.9,270.91 L534.24,271.49 L534.59,272.55 L534.93,272.35 L535.27,272.99 L535.62,273.02 L535.96,273.28 L536.3,273.76 L536.65,273.61 L536.99,274.89 L537.33,274.72 L537.68,275.65 L538.02,275.46 L538.36,275.48 L538.7,275.82 L539.05,276.2 L539.39,276.46 L539.73,277.17 L540.08,276.55 L540.42,277.45 L540.76,277.26 L541.11,276.81 L541.45,277.82 L541.79,277.83 L542.14,277.71 L542.48,278.07 L542.82,277.87 L543.17,277.84 L543.51,277.61 L543.85,278.85 L544.2,277.64 L544.54,278.62 L544.88,279.11 L545.23,279.14 L545.57,278.67 L545.91,279.08 L546.26,278.57 L546.6,279.81 L546.94,278.91 L547.28,279.99 L547.63,279.64 L547.97,279.14 L548.31,279.16 L548.66,279.5 L549,279.19 L549.34,279.92 L549.69,280.17 L550.03,279.97 L550.37,279.38 L550.72,280.61 L551.06,279.63 L551.4,279.93 L551.75,279.95 L552.09,280.12 L552.43,280.08 L552.78,280.09 L553.12,280.55 L553.46,280.45 L553.81,280.44 L554.15,280.79 L554.49,280.16 L554.84,280.97 L555.18,280.41 L555.52,279.97 L555.86,280.63 L556.21,280.82 L556.55,281.52 L556.89,281.15 L557.24,280.92 L557.58,280.72 L557.92,280.98 L558.27,281.18 L558.61,280.91 L558.95,281.51 L559.3,280.54 L559.64,281.12 L559.98,281.09 L560.33,281.39 L560.67,281.19 L561.01,281.25 L561.36,281.08 L561.7,280.59 L562.04,281.44 L562.39,281.68 L562.73,281.41 L563.07,281.29 L563.42,281.74 L563.76,281.87 L564.1,281.55 L564.44,281.11 L564.79,281.37 L565.13,280.81 L565.47,281.96 L565.82,281.46 L566.16,281.28 L566.5,281.6 L566.85,281.34 L567.19,281.79 L567.53,281.79 L567.88,281.86 L568.22,281.58 L568.56,282.07 L568.91,281.38 L569.25,281.91 L569.59,281.35 L569.94,281.66 L570.28,281.68 L570.62,281.53 L570.97,281.54 L571.31,281.72 L571.65,281.4 L572,281.54 L572.34,281.54 L572.68,281.56 L573.02,281.8 L573.37,281.21 L573.71,282 L574.05,281.73 L574.4,281.62 L574.74,281.53 L575.08,281.93 L575.43,281.51 L575.77,281.11 L576.11,282.41 L576.46,282.02 L576.8,281.03 L577.14,281.74 L577.49,281.51 L577.83,281.65 L578.17,281.23 L578.52,281.64 L578.86,281.42 L579.2,281.63 L579.55,282.34 L579.89,281.45 L580.23,281.4 L580.58,282.13 L580.92,281.62 L581.26,281.36 L581.6,281.69 L581.95,281.64 L582.29,281.38 L582.63,281.74 L582.98,282.15 L583.32,281.73 L583.66,281.45 L584.01,281.43 L584.35,282.08 L584.69,281.51 L585.04,281.31 L585.38,281.2 L585.72,281.69 L586.07,281.41 L586.41,280.93 L586.75,281.41 L587.1,281.43 L587.44,281.06 L587.78,281.66 L588.13,280.96 L588.47,281.25 L588.81,281.67 L589.16,280.52 L589.5,281.12 L589.84,280.97 L590.18,281.27 L590.53,281.26 L590.87,281.74 L591.21,281.23 L591.56,281.33 L591.9,280.93 L592.24,281.01 L592.59,280.99 L592.93,281.24 L593.27,280.52 L593.62,281.15 L593.96,280.89 L594.3,280.7 L594.65,280.34 L594.99,281.09 L595.33,281.04 L595.68,280.79 L596.02,280.01 L596.36,280.22 L596.71,280.32 L597.05,280.43 L597.39,280.73 L597.74,280.53 L598.08,280.86 L598.42,280.43 L598.76,280.56 L599.11,280.66 L599.45,280.85 L599.79,280.59 L600.14,280.36 L600.48,280.41 L600.82,280.51 L601.17,280.3 L601.51,279.88 L601.85,279.78 L602.2,280.1 L602.54,280.1 L602.88,280.48 L603.23,279.9 L603.57,279.85 L603.91,280.37 L604.26,279.93 L604.6,280.18 L604.94,279.89 L605.29,280.53 L605.63,279.84 L605.97,279.88 L606.32,279.98 L606.66,279.57 L607,279.84 L607.34,279.9 L607.69,280.45 L608.03,280.36 L608.37,279.99 L608.72,280.06 L609.06,279.7 L609.4,280.16 L609.75,279.99 L610.09,279.94 L610.43,279.18 L610.78,279.73 L611.12,279.95 L611.46,280.5 L611.81,280.34 L612.15,280.28 L612.49,279.48 L612.84,279.13 L613.18,279.14 L613.52,279.79 L613.87,279.71 L614.21,279.75 L614.55,279.8 L614.9,279.9 L615.24,280.07 L615.58,279.34 L615.92,279.95 L616.27,279.93 L616.61,279.69 L616.95,280.27 L617.3,279.85 L617.64,280.34 L617.98,280.49 L618.33,280.12 L618.67,280.08 L619.01,280.29 L619.36,280.52 L619.7,279.44 L620.04,279.35 L620.39,279.21 L620.73,280.01 L621.07,279.68 L621.42,280.53 L621.76,280.13 L622.1,280.33 L622.45,279.52 L622.79,280.06 L623.13,279.99 L623.48,280.31 L623.82,279.81 L624.16,280.25 L624.5,280.37 L624.85,279.42 L625.19,280.06 L625.53,280.33 L625.88,279.92 L626.22,280.65 L626.56,280.61 L626.91,280.29 L627.25,280.89 L627.59,280.85 L627.94,280.94 L628.28,280.27 L628.62,280.56 L628.97,280.42 L629.31,280.08 L629.65,281.04 L630,280.6 L630.34,280.52 L630.68,280.12 L631.03,280.32 L631.37,281.01 L631.71,280.3 L632.06,280.7 L632.4,280.63 L632.74,281 L633.08,280.55 L633.43,281.46 L633.77,280.48 L634.11,281.53 L634.46,281.56 L634.8,280.43 L635.14,280.29 L635.49,280.57 L635.83,281.57 L636.17,281.09 L636.52,281.11 L636.86,280.97 L637.2,280.71 L637.55,280.77 L637.89,281.65 L638.23,281.08 L638.58,281.41 L638.92,280.93 L639.26,280.76 L639.61,281.77 L639.95,281.45 L640.29,281.96 L640.64,281.96 L640.98,281.34 L641.32,281.32 L641.66,281.62 L642.01,281.54 L642.35,281.43 L642.69,281.63 L643.04,281.94 L643.38,281.82 L643.72,282.01 L644.07,282.48 L644.41,282.08 L644.75,282.2 L645.1,282.46 L645.44,282.12 L645.78,282.48 L646.13,281.44 L646.47,281.8 L646.81,282.65 L647.16,281.9 L647.5,282.19 L647.84,282.44 L648.19,282.2 L648.53,282.88 L648.87,282.38 L649.22,282.18 L649.56,282.62 L649.9,282.27 L650.24,281.9 L650.59,282.09 L650.93,282.49 L651.27,282.36 L651.62,283.06 L651.96,282.43 L652.3,282.75 L652.65,282.9 L652.99,283.01 L653.33,282.45 L653.68,282.86 L654.02,283.03 L654.36,282.37 L654.71,283.11 L655.05,283.58 L655.39,282.48 L655.74,282.92 L656.08,282.67 L656.42,282.94 L656.77,283.71 L657.11,283.39 L657.45,282.43 L657.8,283.34 L658.14,283.52 L658.48,283.5 L658.82,283.2 L659.17,283 L659.51,282.6 L659.85,283.72 L660.2,283.61 L660.54,283.29 L660.88,283.32 L661.23,282.84 L661.57,283.51 L661.87,281.51 L662.07,283.81" fill="none" stroke="#1c1c1c" stroke-width="1.0" stroke-linejoin="round" />
<line x1="446" y1="280" x2="446" y2="356.2" stroke="#222" stroke-width="0.9" />
<line x1="446" y1="280" x2="499.6" y2="212.5" stroke="#222" stroke-width="0.9" />
<line x1="499.6" y1="212.5" x2="666" y2="212.5" stroke="#222" stroke-width="0.9" />
<line x1="666" y1="212.5" x2="666" y2="288" stroke="#222" stroke-width="0.9" />
<line x1="446" y1="356.2" x2="611.3" y2="356.2" stroke="#777" stroke-width="1.0" />
<line x1="611.3" y1="356.2" x2="665.6" y2="288" stroke="#222" stroke-width="0.9" />
<text x="465.7" y="364.4" font-size="5.7" fill="#222" text-anchor="middle" font-weight="normal" font-family='"Liberation Sans", sans-serif' >5</text>
<text x="494.3" y="364.4" font-size="5.7" fill="#222" text-anchor="middle" font-weight="normal" font-family='"Liberation Sans", sans-serif' >10</text>
<text x="522.9" y="364.4" font-size="5.7" fill="#222" text-anchor="middle" font-weight="normal" font-family='"Liberation Sans", sans-serif' >15</text>
<text x="551.5" y="364.4" font-size="5.7" fill="#222" text-anchor="middle" font-weight="normal" font-family='"Liberation Sans", sans-serif' >20</text>
<text x="580.1" y="364.4" font-size="5.7" fill="#222" text-anchor="middle" font-weight="normal" font-family='"Liberation Sans", sans-serif' >25</text>
<text x="608.7" y="364.4" font-size="5.7" fill="#222" text-anchor="middle" font-weight="normal" font-family='"Liberation Sans", sans-serif' >30</text>
<text x="540.4" y="378.6" font-size="10.4" fill="#111" text-anchor="middle" font-weight="normal" font-family='"Liberation Sans", sans-serif' >2θ (degree)</text>
<text x="624.5" y="354.5" font-size="5.7" fill="#333" text-anchor="middle" font-weight="normal" font-family='"Liberation Sans", sans-serif' transform="skewX(-25)" transform-origin="624.5 352.5">50</text>
<text x="631.63" y="345.44" font-size="5.7" fill="#333" text-anchor="middle" font-weight="normal" font-family='"Liberation Sans", sans-serif' transform="skewX(-25)" transform-origin="631.6 343.4">100</text>
<text x="638.76" y="336.39" font-size="5.7" fill="#333" text-anchor="middle" font-weight="normal" font-family='"Liberation Sans", sans-serif' transform="skewX(-25)" transform-origin="638.8 334.4">150</text>
<text x="645.89" y="327.33" font-size="5.7" fill="#333" text-anchor="middle" font-weight="normal" font-family='"Liberation Sans", sans-serif' transform="skewX(-25)" transform-origin="645.9 325.3">200</text>
<text x="653.01" y="318.27" font-size="5.7" fill="#333" text-anchor="middle" font-weight="normal" font-family='"Liberation Sans", sans-serif' transform="skewX(-25)" transform-origin="653.0 316.3">250</text>
<text x="660.14" y="309.21" font-size="5.7" fill="#333" text-anchor="middle" font-weight="normal" font-family='"Liberation Sans", sans-serif' transform="skewX(-25)" transform-origin="660.1 307.2">300</text>
<text x="667.27" y="300.16" font-size="5.7" fill="#333" text-anchor="middle" font-weight="normal" font-family='"Liberation Sans", sans-serif' transform="skewX(-25)" transform-origin="667.3 298.2">350</text>
<text x="674.4" y="291.1" font-size="5.7" fill="#333" text-anchor="middle" font-weight="normal" font-family='"Liberation Sans", sans-serif' transform="skewX(-25)" transform-origin="674.4 289.1">400</text>
<text x="666.2" y="325.6" font-size="5.7" fill="#333" text-anchor="middle" font-weight="normal" font-family='"Liberation Sans", sans-serif' transform="rotate(-47 666.2 325.6)">Temperature (°C)</text>
<text x="675.3" y="252.3" font-size="6.7" fill="#222" text-anchor="middle" font-weight="normal" font-family='"Liberation Sans", sans-serif' transform="rotate(-90 675.3 252.3)">Intensity (a.u.)</text>
<text x="449.8" y="225.9" font-size="16.5" fill="#000" text-anchor="start" font-weight="bold" font-family='"Liberation Sans", sans-serif' >f</text>
</svg>
</body></html>
